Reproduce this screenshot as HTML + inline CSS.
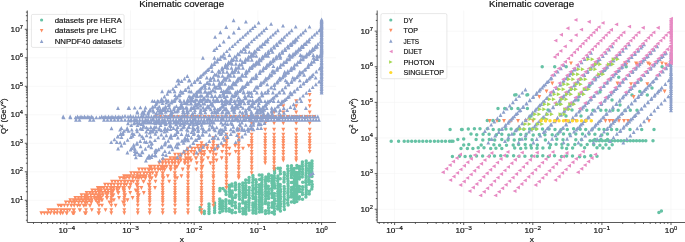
<!DOCTYPE html>
<html><head><meta charset="utf-8"><style>html,body{margin:0;padding:0;background:#fff;overflow:hidden}svg{display:block;will-change:transform}text{font-family:"Liberation Sans",sans-serif;stroke:#141414;stroke-width:0.18px}</style></head>
<body><svg width="685" height="242" viewBox="0 0 685 242" font-family="Liberation Sans, sans-serif" fill="#141414">
<defs><clipPath id="cl"><rect x="27.3" y="10.5" width="308.7" height="212.0"/></clipPath><clipPath id="cr"><rect x="377.2" y="10.5" width="308.7" height="212.0"/></clipPath></defs>
<rect width="685" height="242" fill="#fff"/>
<path d="M66.8 10.5V222.5M130.5 10.5V222.5M194.2 10.5V222.5M257.9 10.5V222.5M321.6 10.5V222.5M27.3 200.3H336M27.3 171.8H336M27.3 143.3H336M27.3 114.8H336M27.3 86.3H336M27.3 57.8H336M27.3 29.3H336" stroke="#f3f3f3" stroke-width="0.6" fill="none"/>
<path d="M394.6 10.5V222.5M463.7 10.5V222.5M532.8 10.5V222.5M601.9 10.5V222.5M671 10.5V222.5M377.2 209.3H685.9M377.2 173.6H685.9M377.2 138H685.9M377.2 102.4H685.9M377.2 66.8H685.9M377.2 31.2H685.9" stroke="#f3f3f3" stroke-width="0.6" fill="none"/>
<path d="M220.0 188.5h0M223.0 188.5h0M200.2 207.5h0M200.2 210.0h0M204.3 211.3h0M204.3 213.4h0M209.0 204.0h0M209.0 206.5h0M209.0 209.0h0M209.0 211.5h0M209.0 213.4h0M214.6 203.0h0M214.6 205.5h0M214.6 208.0h0M214.6 210.5h0M214.6 212.4h0M219.8 190.7h0M219.8 199.0h0M219.8 201.5h0M219.8 204.0h0M219.8 206.5h0M219.8 209.0h0M219.8 212.4h0M225.0 190.7h0M222.5 201.0h0M222.5 203.5h0M222.5 206.0h0M222.5 208.5h0M222.5 211.0h0M225.9 191.7h0M226.1 194.5h0M225.9 199.7h0M225.8 201.9h0M225.9 204.3h0M225.8 206.5h0M225.8 208.7h0M226.1 211.1h0M229.2 185.2h0M229.3 187.4h0M229.3 189.6h0M229.5 191.8h0M229.7 194.0h0M229.6 196.2h0M229.3 201.0h0M229.6 203.2h0M229.2 208.8h0M229.4 211.2h0M231.9 183.9h0M232.1 186.1h0M232.2 190.9h0M232.3 193.1h0M232.0 195.9h0M232.4 198.1h0M232.4 200.5h0M232.0 202.9h0M232.1 205.7h0M232.2 210.3h0M232.1 212.7h0M235.4 183.0h0M235.6 185.2h0M235.3 187.6h0M235.5 189.8h0M235.7 195.0h0M235.3 197.4h0M235.3 202.6h0M235.3 205.4h0M235.5 207.8h0M235.5 212.4h0M239.3 184.2h0M239.2 187.0h0M239.2 189.4h0M239.4 191.8h0M239.3 194.0h0M239.3 196.4h0M239.5 199.2h0M239.4 204.0h0M239.4 206.4h0M239.2 208.8h0M239.6 211.6h0M242.8 183.1h0M242.7 185.5h0M242.9 187.9h0M242.9 190.3h0M242.8 193.1h0M242.9 195.3h0M242.9 197.7h0M242.7 200.5h0M242.8 202.9h0M242.7 208.5h0M243.1 211.3h0M243.0 213.7h0M245.7 180.1h0M245.6 182.9h0M245.8 185.7h0M245.5 188.1h0M245.9 190.3h0M245.5 192.7h0M245.8 195.1h0M245.6 197.3h0M245.9 202.1h0M245.7 204.3h0M245.6 206.5h0M245.6 208.9h0M245.6 211.7h0M245.9 213.9h0M249.1 177.5h0M248.9 180.3h0M248.9 182.5h0M249.2 187.5h0M249.1 190.3h0M249.0 193.1h0M249.0 195.3h0M249.3 198.1h0M248.9 200.3h0M249.0 202.7h0M248.9 205.1h0M248.8 207.5h0M249.0 210.3h0M252.9 175.4h0M253.0 177.6h0M253.0 179.8h0M252.7 182.6h0M252.8 185.4h0M253.0 188.2h0M252.7 190.4h0M252.9 193.2h0M252.8 196.0h0M253.0 198.4h0M252.9 203.0h0M252.8 205.2h0M253.0 207.4h0M252.9 210.2h0M253.0 213.0h0M255.9 179.7h0M256.2 182.1h0M256.1 184.5h0M256.1 186.9h0M255.9 189.3h0M256.2 191.7h0M256.0 194.1h0M255.8 196.9h0M255.8 199.1h0M255.8 201.3h0M255.8 204.1h0M255.8 206.5h0M256.1 208.7h0M255.9 210.9h0M256.0 213.3h0M259.3 175.1h0M259.6 179.5h0M259.4 184.7h0M259.4 187.5h0M259.5 189.9h0M259.4 192.3h0M259.4 194.5h0M259.5 197.3h0M259.3 200.1h0M259.3 202.3h0M259.3 204.7h0M259.4 206.9h0M259.6 209.3h0M259.5 212.1h0M262.0 175.0h0M262.0 177.4h0M262.0 179.8h0M261.8 182.6h0M262.0 184.8h0M261.8 187.0h0M261.9 189.8h0M262.0 192.6h0M262.2 194.8h0M262.0 197.6h0M262.0 199.8h0M262.0 202.2h0M262.1 204.6h0M261.9 207.4h0M261.8 209.6h0M262.0 211.8h0M265.8 177.0h0M265.5 179.4h0M265.4 181.6h0M265.7 184.0h0M265.4 186.4h0M265.7 188.8h0M265.5 191.6h0M265.7 193.8h0M265.6 196.2h0M265.7 199.0h0M265.6 201.2h0M265.4 203.6h0M265.6 210.8h0M265.5 213.6h0M268.7 174.2h0M268.4 176.4h0M268.6 178.6h0M268.5 181.0h0M268.3 186.2h0M268.7 189.0h0M268.4 191.8h0M268.7 194.0h0M268.3 196.2h0M268.6 198.4h0M268.6 203.0h0M268.4 205.2h0M268.5 208.0h0M268.8 210.8h0M268.8 213.0h0M271.7 175.7h0M271.9 178.5h0M271.8 180.9h0M271.9 183.1h0M272.2 185.5h0M271.9 188.3h0M271.9 190.5h0M271.8 192.9h0M272.1 195.1h0M272.1 197.5h0M272.1 202.7h0M272.2 205.1h0M271.9 207.3h0M272.1 212.5h0M274.5 168.5h0M274.5 170.7h0M274.6 173.1h0M274.2 175.9h0M274.4 178.1h0M274.2 180.5h0M274.2 183.3h0M274.6 185.5h0M274.7 187.9h0M274.4 193.5h0M274.3 195.9h0M274.5 198.7h0M274.5 200.9h0M274.4 203.7h0M274.2 206.1h0M274.3 208.5h0M274.4 211.3h0M274.4 214.1h0M278.0 168.3h0M277.9 176.1h0M277.7 178.5h0M277.7 180.9h0M278.0 183.7h0M278.0 185.9h0M278.0 188.7h0M277.8 191.5h0M277.8 193.7h0M277.8 195.9h0M278.1 198.7h0M277.8 201.1h0M278.0 203.9h0M277.6 206.3h0M277.7 209.1h0M280.3 168.2h0M280.2 171.0h0M280.4 173.8h0M280.2 178.8h0M280.2 184.4h0M280.2 186.6h0M280.5 189.4h0M280.5 191.8h0M280.2 194.2h0M280.4 196.4h0M280.4 198.8h0M280.3 201.6h0M280.5 204.0h0M280.4 206.2h0M280.0 208.6h0M280.4 211.0h0M284.2 172.4h0M284.4 174.6h0M284.2 177.4h0M284.1 179.6h0M284.0 182.0h0M284.1 186.6h0M284.3 188.8h0M284.3 191.6h0M284.2 194.0h0M284.1 196.8h0M284.4 199.2h0M284.0 201.6h0M284.2 203.8h0M284.1 206.6h0M284.4 209.4h0M287.7 166.1h0M287.8 168.9h0M288.1 171.3h0M287.9 173.5h0M287.6 175.9h0M287.7 178.7h0M288.0 180.9h0M288.0 183.7h0M288.1 185.9h0M288.1 188.7h0M288.0 190.9h0M287.8 193.1h0M288.1 195.5h0M288.1 197.7h0M287.7 200.1h0M287.7 202.9h0M288.1 205.1h0M291.5 165.8h0M291.3 168.2h0M291.4 170.6h0M291.6 173.0h0M291.4 175.2h0M291.3 177.6h0M291.4 182.4h0M291.5 187.6h0M291.5 190.0h0M291.3 192.4h0M291.6 194.8h0M291.3 197.0h0M291.4 202.0h0M294.1 168.5h0M294.0 171.3h0M294.3 173.5h0M294.4 175.9h0M294.3 178.7h0M294.2 180.9h0M294.4 183.7h0M294.1 186.1h0M294.0 188.3h0M294.4 190.5h0M294.2 192.9h0M294.1 195.3h0M294.0 197.5h0M294.0 199.7h0M294.4 202.5h0M296.9 165.6h0M296.8 168.0h0M296.7 172.6h0M296.7 174.8h0M296.9 177.0h0M296.9 179.2h0M296.8 182.0h0M296.9 184.2h0M297.0 186.6h0M296.8 189.0h0M296.7 191.8h0M296.8 194.0h0M296.7 196.4h0M296.9 198.6h0M296.8 201.4h0M299.5 166.6h0M299.5 169.0h0M299.5 171.4h0M299.3 173.8h0M299.7 176.6h0M299.3 179.0h0M299.4 186.4h0M299.5 189.2h0M299.4 191.6h0M299.4 196.8h0M299.2 199.0h0M302.4 162.0h0M302.3 164.2h0M302.4 166.4h0M302.6 169.2h0M302.4 172.0h0M302.5 174.2h0M302.3 177.0h0M302.7 182.2h0M302.6 186.8h0M302.5 189.6h0M302.3 192.4h0M302.5 194.6h0M302.5 199.2h0M306.2 161.0h0M306.2 163.4h0M306.0 165.8h0M306.3 168.2h0M306.2 170.6h0M306.1 173.0h0M306.0 175.4h0M306.1 177.6h0M305.9 180.4h0M305.9 182.6h0M306.1 185.4h0M306.0 187.6h0M306.3 190.0h0M306.2 192.2h0M306.0 194.6h0M305.9 197.0h0M309.3 163.2h0M309.4 166.0h0M309.1 168.8h0M309.1 171.0h0M309.4 173.8h0M309.3 176.6h0M309.0 179.4h0M309.1 181.8h0M309.2 184.2h0M309.4 191.2h0M309.2 194.0h0M312.0 161.0h0M312.0 163.8h0M312.0 166.2h0M311.9 168.4h0M311.8 171.2h0M312.0 174.0h0M312.0 176.4h0M311.8 181.6h0M312.2 184.4h0M312.1 186.8h0M311.8 189.0h0" stroke="#66c2a5" stroke-width="3.5" stroke-linecap="round" fill="none" clip-path="url(#cl)"/>
<path d="M201.5 160.2l1.95 -3.9h-3.9zM201.5 156.6l1.95 -3.9h-3.9zM94.4 200.0l1.95 -3.9h-3.9zM283.3 119.5l1.95 -3.9h-3.9zM124.3 183.6l1.95 -3.9h-3.9zM124.3 180.1l1.95 -3.9h-3.9zM162.7 183.6l1.95 -3.9h-3.9zM62.8 215.2l1.95 -3.9h-3.9zM72.7 215.2l1.95 -3.9h-3.9zM115.1 183.6l1.95 -3.9h-3.9zM162.7 180.1l1.95 -3.9h-3.9zM149.7 197.2l1.95 -3.9h-3.9zM174.7 175.1l1.95 -3.9h-3.9zM141.4 190.0l1.95 -3.9h-3.9zM155.5 183.6l1.95 -3.9h-3.9zM177.1 180.1l1.95 -3.9h-3.9zM152.1 171.5l1.95 -3.9h-3.9zM274.1 143.0l1.95 -3.9h-3.9zM138.9 180.1l1.95 -3.9h-3.9zM124.3 186.7l1.95 -3.9h-3.9zM71.4 207.6l1.95 -3.9h-3.9zM162.2 186.7l1.95 -3.9h-3.9zM238.7 180.1l1.95 -3.9h-3.9zM251.7 160.2l1.95 -3.9h-3.9zM251.7 156.6l1.95 -3.9h-3.9zM111.3 215.2l1.95 -3.9h-3.9zM99.3 195.0l1.95 -3.9h-3.9zM124.3 207.6l1.95 -3.9h-3.9zM296.2 103.2l1.95 -3.9h-3.9zM86.0 204.3l1.95 -3.9h-3.9zM283.3 150.6l1.95 -3.9h-3.9zM74.1 212.1l1.95 -3.9h-3.9zM143.8 175.1l1.95 -3.9h-3.9zM78.8 204.3l1.95 -3.9h-3.9zM108.1 195.0l1.95 -3.9h-3.9zM97.8 190.0l1.95 -3.9h-3.9zM70.3 202.2l1.95 -3.9h-3.9zM112.0 183.6l1.95 -3.9h-3.9zM54.3 212.1l1.95 -3.9h-3.9zM185.1 162.4l1.95 -3.9h-3.9zM283.3 131.7l1.95 -3.9h-3.9zM123.0 190.0l1.95 -3.9h-3.9zM238.7 145.2l1.95 -3.9h-3.9zM99.0 212.1l1.95 -3.9h-3.9zM175.0 212.1l1.95 -3.9h-3.9zM296.2 162.4l1.95 -3.9h-3.9zM274.1 119.5l1.95 -3.9h-3.9zM84.7 197.2l1.95 -3.9h-3.9zM188.0 160.2l1.95 -3.9h-3.9zM188.0 156.6l1.95 -3.9h-3.9zM91.8 212.1l1.95 -3.9h-3.9zM265.2 153.8l1.95 -3.9h-3.9zM60.6 212.1l1.95 -3.9h-3.9zM99.0 215.2l1.95 -3.9h-3.9zM309.7 153.8l1.95 -3.9h-3.9zM208.0 160.2l1.95 -3.9h-3.9zM172.0 162.4l1.95 -3.9h-3.9zM222.2 153.8l1.95 -3.9h-3.9zM296.2 108.2l1.95 -3.9h-3.9zM188.2 156.6l1.95 -3.9h-3.9zM198.1 156.6l1.95 -3.9h-3.9zM65.8 204.3l1.95 -3.9h-3.9zM111.3 197.2l1.95 -3.9h-3.9zM213.4 153.8l1.95 -3.9h-3.9zM98.5 215.2l1.95 -3.9h-3.9zM213.4 204.3l1.95 -3.9h-3.9zM137.8 197.2l1.95 -3.9h-3.9zM251.7 168.7l1.95 -3.9h-3.9zM251.7 165.2l1.95 -3.9h-3.9zM178.4 162.4l1.95 -3.9h-3.9zM169.0 165.2l1.95 -3.9h-3.9zM274.1 150.6l1.95 -3.9h-3.9zM176.6 168.7l1.95 -3.9h-3.9zM124.3 212.1l1.95 -3.9h-3.9zM94.6 200.0l1.95 -3.9h-3.9zM217.2 150.6l1.95 -3.9h-3.9zM309.7 103.2l1.95 -3.9h-3.9zM87.6 197.2l1.95 -3.9h-3.9zM117.0 190.0l1.95 -3.9h-3.9zM197.6 148.0l1.95 -3.9h-3.9zM124.0 186.7l1.95 -3.9h-3.9zM58.4 207.6l1.95 -3.9h-3.9zM74.1 204.3l1.95 -3.9h-3.9zM111.3 190.0l1.95 -3.9h-3.9zM274.1 162.4l1.95 -3.9h-3.9zM109.4 204.3l1.95 -3.9h-3.9zM184.6 162.4l1.95 -3.9h-3.9zM203.8 156.6l1.95 -3.9h-3.9zM149.7 171.5l1.95 -3.9h-3.9zM84.6 200.0l1.95 -3.9h-3.9zM86.2 202.2l1.95 -3.9h-3.9zM134.3 175.1l1.95 -3.9h-3.9zM143.3 178.2l1.95 -3.9h-3.9zM151.3 168.7l1.95 -3.9h-3.9zM175.0 204.3l1.95 -3.9h-3.9zM191.2 162.4l1.95 -3.9h-3.9zM111.3 202.2l1.95 -3.9h-3.9zM283.3 160.2l1.95 -3.9h-3.9zM283.3 156.6l1.95 -3.9h-3.9zM133.4 178.2l1.95 -3.9h-3.9zM174.7 165.2l1.95 -3.9h-3.9zM201.5 197.2l1.95 -3.9h-3.9zM64.1 212.1l1.95 -3.9h-3.9zM274.1 148.0l1.95 -3.9h-3.9zM112.9 197.2l1.95 -3.9h-3.9zM222.9 148.0l1.95 -3.9h-3.9zM123.0 180.1l1.95 -3.9h-3.9zM132.9 180.1l1.95 -3.9h-3.9zM226.4 143.0l1.95 -3.9h-3.9zM182.7 171.5l1.95 -3.9h-3.9zM78.5 204.3l1.95 -3.9h-3.9zM163.5 180.1l1.95 -3.9h-3.9zM213.4 195.0l1.95 -3.9h-3.9zM99.0 190.0l1.95 -3.9h-3.9zM102.0 207.6l1.95 -3.9h-3.9zM296.2 140.2l1.95 -3.9h-3.9zM296.2 136.7l1.95 -3.9h-3.9zM86.0 200.0l1.95 -3.9h-3.9zM164.3 168.7l1.95 -3.9h-3.9zM265.2 131.7l1.95 -3.9h-3.9zM124.3 204.3l1.95 -3.9h-3.9zM73.9 212.1l1.95 -3.9h-3.9zM106.7 197.2l1.95 -3.9h-3.9zM61.3 212.1l1.95 -3.9h-3.9zM162.7 204.3l1.95 -3.9h-3.9zM99.0 202.2l1.95 -3.9h-3.9zM91.8 202.2l1.95 -3.9h-3.9zM163.0 175.1l1.95 -3.9h-3.9zM238.7 153.8l1.95 -3.9h-3.9zM211.5 150.6l1.95 -3.9h-3.9zM111.8 195.0l1.95 -3.9h-3.9zM217.6 150.6l1.95 -3.9h-3.9zM57.4 212.1l1.95 -3.9h-3.9zM132.6 180.1l1.95 -3.9h-3.9zM71.1 207.6l1.95 -3.9h-3.9zM283.3 114.5l1.95 -3.9h-3.9zM251.7 143.0l1.95 -3.9h-3.9zM96.9 200.0l1.95 -3.9h-3.9zM187.8 153.8l1.95 -3.9h-3.9zM107.0 190.0l1.95 -3.9h-3.9zM99.0 195.0l1.95 -3.9h-3.9zM175.0 195.0l1.95 -3.9h-3.9zM162.5 175.1l1.95 -3.9h-3.9zM296.2 145.2l1.95 -3.9h-3.9zM77.4 207.6l1.95 -3.9h-3.9zM124.1 178.2l1.95 -3.9h-3.9zM160.6 171.5l1.95 -3.9h-3.9zM97.7 204.3l1.95 -3.9h-3.9zM162.7 171.5l1.95 -3.9h-3.9zM213.4 178.2l1.95 -3.9h-3.9zM136.4 186.7l1.95 -3.9h-3.9zM96.0 202.2l1.95 -3.9h-3.9zM196.8 165.2l1.95 -3.9h-3.9zM265.2 140.2l1.95 -3.9h-3.9zM265.2 136.7l1.95 -3.9h-3.9zM309.7 140.2l1.95 -3.9h-3.9zM309.7 136.7l1.95 -3.9h-3.9zM114.2 186.7l1.95 -3.9h-3.9zM124.3 195.0l1.95 -3.9h-3.9zM86.6 195.0l1.95 -3.9h-3.9zM150.1 175.1l1.95 -3.9h-3.9zM226.4 171.5l1.95 -3.9h-3.9zM196.3 160.2l1.95 -3.9h-3.9zM202.9 162.4l1.95 -3.9h-3.9zM170.9 171.5l1.95 -3.9h-3.9zM81.4 200.0l1.95 -3.9h-3.9zM90.2 207.6l1.95 -3.9h-3.9zM175.0 200.0l1.95 -3.9h-3.9zM76.4 202.2l1.95 -3.9h-3.9zM149.7 183.6l1.95 -3.9h-3.9zM149.7 180.1l1.95 -3.9h-3.9zM175.0 175.1l1.95 -3.9h-3.9zM150.3 175.1l1.95 -3.9h-3.9zM226.4 162.4l1.95 -3.9h-3.9zM108.0 192.5l1.95 -3.9h-3.9zM201.5 171.5l1.95 -3.9h-3.9zM137.1 183.6l1.95 -3.9h-3.9zM119.3 190.0l1.95 -3.9h-3.9zM118.0 183.6l1.95 -3.9h-3.9zM149.4 178.2l1.95 -3.9h-3.9zM73.5 202.2l1.95 -3.9h-3.9zM60.9 212.1l1.95 -3.9h-3.9zM175.0 178.2l1.95 -3.9h-3.9zM105.1 192.5l1.95 -3.9h-3.9zM251.7 150.6l1.95 -3.9h-3.9zM73.2 215.2l1.95 -3.9h-3.9zM154.5 168.7l1.95 -3.9h-3.9zM168.6 162.4l1.95 -3.9h-3.9zM145.1 171.5l1.95 -3.9h-3.9zM159.2 165.2l1.95 -3.9h-3.9zM201.5 162.4l1.95 -3.9h-3.9zM173.6 160.2l1.95 -3.9h-3.9zM149.7 207.6l1.95 -3.9h-3.9zM213.4 186.7l1.95 -3.9h-3.9zM78.5 200.0l1.95 -3.9h-3.9zM191.8 150.6l1.95 -3.9h-3.9zM226.4 148.0l1.95 -3.9h-3.9zM238.7 131.7l1.95 -3.9h-3.9zM216.0 156.6l1.95 -3.9h-3.9zM162.7 200.0l1.95 -3.9h-3.9zM162.7 175.1l1.95 -3.9h-3.9zM60.4 215.2l1.95 -3.9h-3.9zM201.5 148.0l1.95 -3.9h-3.9zM142.2 171.5l1.95 -3.9h-3.9zM283.3 143.0l1.95 -3.9h-3.9zM124.3 178.2l1.95 -3.9h-3.9zM274.1 125.3l1.95 -3.9h-3.9zM67.4 212.1l1.95 -3.9h-3.9zM201.7 150.6l1.95 -3.9h-3.9zM238.7 175.1l1.95 -3.9h-3.9zM158.1 171.5l1.95 -3.9h-3.9zM172.2 165.2l1.95 -3.9h-3.9zM57.1 215.2l1.95 -3.9h-3.9zM86.0 215.2l1.95 -3.9h-3.9zM123.0 204.3l1.95 -3.9h-3.9zM188.0 171.5l1.95 -3.9h-3.9zM100.7 197.2l1.95 -3.9h-3.9zM175.0 186.7l1.95 -3.9h-3.9zM238.7 178.2l1.95 -3.9h-3.9zM265.2 165.2l1.95 -3.9h-3.9zM251.7 148.0l1.95 -3.9h-3.9zM137.8 192.5l1.95 -3.9h-3.9zM90.8 197.2l1.95 -3.9h-3.9zM296.2 153.8l1.95 -3.9h-3.9zM138.8 197.2l1.95 -3.9h-3.9zM188.0 162.4l1.95 -3.9h-3.9zM137.8 183.6l1.95 -3.9h-3.9zM137.8 180.1l1.95 -3.9h-3.9zM67.6 207.6l1.95 -3.9h-3.9zM84.8 204.3l1.95 -3.9h-3.9zM165.4 162.4l1.95 -3.9h-3.9zM180.9 162.4l1.95 -3.9h-3.9zM162.7 192.5l1.95 -3.9h-3.9zM221.7 160.2l1.95 -3.9h-3.9zM103.8 190.0l1.95 -3.9h-3.9zM213.4 168.7l1.95 -3.9h-3.9zM117.7 186.7l1.95 -3.9h-3.9zM213.4 165.2l1.95 -3.9h-3.9zM204.3 148.0l1.95 -3.9h-3.9zM235.2 148.0l1.95 -3.9h-3.9zM210.4 153.8l1.95 -3.9h-3.9zM140.3 175.1l1.95 -3.9h-3.9zM119.9 180.1l1.95 -3.9h-3.9zM238.7 140.2l1.95 -3.9h-3.9zM238.7 136.7l1.95 -3.9h-3.9zM202.5 168.7l1.95 -3.9h-3.9zM137.8 207.6l1.95 -3.9h-3.9zM162.7 186.7l1.95 -3.9h-3.9zM162.7 207.6l1.95 -3.9h-3.9zM226.4 183.6l1.95 -3.9h-3.9zM226.4 180.1l1.95 -3.9h-3.9zM81.7 204.3l1.95 -3.9h-3.9zM201.5 192.5l1.95 -3.9h-3.9zM104.8 192.5l1.95 -3.9h-3.9zM175.0 168.7l1.95 -3.9h-3.9zM175.0 165.2l1.95 -3.9h-3.9zM204.3 156.6l1.95 -3.9h-3.9zM201.5 183.6l1.95 -3.9h-3.9zM201.5 180.1l1.95 -3.9h-3.9zM100.6 200.0l1.95 -3.9h-3.9zM188.0 200.0l1.95 -3.9h-3.9zM188.0 175.1l1.95 -3.9h-3.9zM274.1 153.8l1.95 -3.9h-3.9zM74.1 215.2l1.95 -3.9h-3.9zM95.3 192.5l1.95 -3.9h-3.9zM184.6 153.8l1.95 -3.9h-3.9zM229.4 150.6l1.95 -3.9h-3.9zM54.3 215.2l1.95 -3.9h-3.9zM79.9 207.6l1.95 -3.9h-3.9zM116.8 190.0l1.95 -3.9h-3.9zM226.4 145.2l1.95 -3.9h-3.9zM158.3 171.5l1.95 -3.9h-3.9zM145.1 180.1l1.95 -3.9h-3.9zM191.2 153.8l1.95 -3.9h-3.9zM283.3 162.4l1.95 -3.9h-3.9zM175.0 215.2l1.95 -3.9h-3.9zM74.3 207.6l1.95 -3.9h-3.9zM201.5 207.6l1.95 -3.9h-3.9zM152.6 175.1l1.95 -3.9h-3.9zM133.4 183.6l1.95 -3.9h-3.9zM213.4 197.2l1.95 -3.9h-3.9zM60.6 215.2l1.95 -3.9h-3.9zM149.7 204.3l1.95 -3.9h-3.9zM181.6 156.6l1.95 -3.9h-3.9zM201.5 145.2l1.95 -3.9h-3.9zM86.0 202.2l1.95 -3.9h-3.9zM137.8 212.1l1.95 -3.9h-3.9zM283.3 108.2l1.95 -3.9h-3.9zM85.0 204.3l1.95 -3.9h-3.9zM127.5 202.2l1.95 -3.9h-3.9zM283.3 148.0l1.95 -3.9h-3.9zM296.2 131.7l1.95 -3.9h-3.9zM190.8 162.4l1.95 -3.9h-3.9zM188.0 192.5l1.95 -3.9h-3.9zM162.7 212.1l1.95 -3.9h-3.9zM129.2 190.0l1.95 -3.9h-3.9zM238.7 168.7l1.95 -3.9h-3.9zM238.7 165.2l1.95 -3.9h-3.9zM113.9 202.2l1.95 -3.9h-3.9zM274.1 171.5l1.95 -3.9h-3.9zM213.4 143.0l1.95 -3.9h-3.9zM188.0 183.6l1.95 -3.9h-3.9zM124.3 215.2l1.95 -3.9h-3.9zM48.3 212.1l1.95 -3.9h-3.9zM44.4 215.2l1.95 -3.9h-3.9zM188.0 180.1l1.95 -3.9h-3.9zM194.4 153.8l1.95 -3.9h-3.9zM213.4 190.0l1.95 -3.9h-3.9zM188.0 186.7l1.95 -3.9h-3.9zM167.8 178.2l1.95 -3.9h-3.9zM99.0 197.2l1.95 -3.9h-3.9zM69.7 212.1l1.95 -3.9h-3.9zM75.0 204.3l1.95 -3.9h-3.9zM265.2 119.5l1.95 -3.9h-3.9zM113.4 197.2l1.95 -3.9h-3.9zM188.0 207.6l1.95 -3.9h-3.9zM89.5 202.2l1.95 -3.9h-3.9zM98.1 192.5l1.95 -3.9h-3.9zM309.7 119.5l1.95 -3.9h-3.9zM75.3 200.0l1.95 -3.9h-3.9zM213.4 202.2l1.95 -3.9h-3.9zM200.1 153.8l1.95 -3.9h-3.9zM223.4 148.0l1.95 -3.9h-3.9zM132.6 200.0l1.95 -3.9h-3.9zM201.5 212.1l1.95 -3.9h-3.9zM170.4 168.7l1.95 -3.9h-3.9zM251.7 125.3l1.95 -3.9h-3.9zM193.9 156.6l1.95 -3.9h-3.9zM125.9 180.1l1.95 -3.9h-3.9zM66.5 215.2l1.95 -3.9h-3.9zM148.3 171.5l1.95 -3.9h-3.9zM162.4 165.2l1.95 -3.9h-3.9zM113.7 190.0l1.95 -3.9h-3.9zM118.0 195.0l1.95 -3.9h-3.9zM127.8 183.6l1.95 -3.9h-3.9zM137.8 204.3l1.95 -3.9h-3.9zM124.3 197.2l1.95 -3.9h-3.9zM175.0 190.0l1.95 -3.9h-3.9zM74.1 202.2l1.95 -3.9h-3.9zM130.2 186.7l1.95 -3.9h-3.9zM196.3 171.5l1.95 -3.9h-3.9zM265.2 150.6l1.95 -3.9h-3.9zM309.7 150.6l1.95 -3.9h-3.9zM112.3 195.0l1.95 -3.9h-3.9zM69.0 204.3l1.95 -3.9h-3.9zM107.2 197.2l1.95 -3.9h-3.9zM84.9 215.2l1.95 -3.9h-3.9zM309.7 131.7l1.95 -3.9h-3.9zM175.0 202.2l1.95 -3.9h-3.9zM92.2 192.5l1.95 -3.9h-3.9zM117.8 192.5l1.95 -3.9h-3.9zM213.4 150.6l1.95 -3.9h-3.9zM105.0 186.7l1.95 -3.9h-3.9zM137.6 183.6l1.95 -3.9h-3.9zM87.3 204.3l1.95 -3.9h-3.9zM226.4 153.8l1.95 -3.9h-3.9zM92.6 195.0l1.95 -3.9h-3.9zM188.0 212.1l1.95 -3.9h-3.9zM124.3 190.0l1.95 -3.9h-3.9zM117.3 192.5l1.95 -3.9h-3.9zM162.7 190.0l1.95 -3.9h-3.9zM149.7 200.0l1.95 -3.9h-3.9zM149.7 175.1l1.95 -3.9h-3.9zM137.1 175.1l1.95 -3.9h-3.9zM201.5 153.8l1.95 -3.9h-3.9zM156.3 175.1l1.95 -3.9h-3.9zM283.3 145.2l1.95 -3.9h-3.9zM201.5 204.3l1.95 -3.9h-3.9zM124.3 202.2l1.95 -3.9h-3.9zM265.2 148.0l1.95 -3.9h-3.9zM89.8 207.6l1.95 -3.9h-3.9zM162.7 202.2l1.95 -3.9h-3.9zM135.7 192.5l1.95 -3.9h-3.9zM141.4 180.1l1.95 -3.9h-3.9zM188.3 175.1l1.95 -3.9h-3.9zM274.1 140.2l1.95 -3.9h-3.9zM274.1 136.7l1.95 -3.9h-3.9zM137.8 195.0l1.95 -3.9h-3.9zM136.9 178.2l1.95 -3.9h-3.9zM251.7 153.8l1.95 -3.9h-3.9zM143.3 183.6l1.95 -3.9h-3.9zM213.4 148.0l1.95 -3.9h-3.9zM185.1 165.2l1.95 -3.9h-3.9zM296.2 114.5l1.95 -3.9h-3.9zM162.7 195.0l1.95 -3.9h-3.9zM99.6 195.0l1.95 -3.9h-3.9zM71.8 204.3l1.95 -3.9h-3.9zM149.7 192.5l1.95 -3.9h-3.9zM60.3 215.2l1.95 -3.9h-3.9zM283.3 125.3l1.95 -3.9h-3.9zM207.4 148.0l1.95 -3.9h-3.9zM265.2 160.2l1.95 -3.9h-3.9zM265.2 156.6l1.95 -3.9h-3.9zM83.6 207.6l1.95 -3.9h-3.9zM67.2 212.1l1.95 -3.9h-3.9zM274.1 145.2l1.95 -3.9h-3.9zM131.1 175.1l1.95 -3.9h-3.9zM188.0 153.8l1.95 -3.9h-3.9zM149.7 186.7l1.95 -3.9h-3.9zM188.0 204.3l1.95 -3.9h-3.9zM81.5 197.2l1.95 -3.9h-3.9zM111.3 200.0l1.95 -3.9h-3.9zM118.0 186.7l1.95 -3.9h-3.9zM213.4 160.2l1.95 -3.9h-3.9zM213.4 156.6l1.95 -3.9h-3.9zM238.7 150.6l1.95 -3.9h-3.9zM137.8 200.0l1.95 -3.9h-3.9zM201.5 195.0l1.95 -3.9h-3.9zM137.8 175.1l1.95 -3.9h-3.9zM155.0 190.0l1.95 -3.9h-3.9zM136.9 186.7l1.95 -3.9h-3.9zM251.7 171.5l1.95 -3.9h-3.9zM178.4 165.2l1.95 -3.9h-3.9zM309.7 96.8l1.95 -3.9h-3.9zM110.5 190.0l1.95 -3.9h-3.9zM102.5 195.0l1.95 -3.9h-3.9zM115.6 207.6l1.95 -3.9h-3.9zM79.6 212.1l1.95 -3.9h-3.9zM251.7 162.4l1.95 -3.9h-3.9zM94.6 197.2l1.95 -3.9h-3.9zM41.3 215.2l1.95 -3.9h-3.9zM162.7 178.2l1.95 -3.9h-3.9zM125.1 197.2l1.95 -3.9h-3.9zM155.5 178.2l1.95 -3.9h-3.9zM101.1 200.0l1.95 -3.9h-3.9zM309.7 114.5l1.95 -3.9h-3.9zM184.6 165.2l1.95 -3.9h-3.9zM111.3 192.5l1.95 -3.9h-3.9zM89.3 202.2l1.95 -3.9h-3.9zM226.4 175.1l1.95 -3.9h-3.9zM131.1 183.6l1.95 -3.9h-3.9zM175.0 160.2l1.95 -3.9h-3.9zM175.0 156.6l1.95 -3.9h-3.9zM149.9 178.2l1.95 -3.9h-3.9zM120.8 186.7l1.95 -3.9h-3.9zM47.6 215.2l1.95 -3.9h-3.9zM145.6 180.1l1.95 -3.9h-3.9zM238.7 148.0l1.95 -3.9h-3.9zM149.7 168.7l1.95 -3.9h-3.9zM201.5 200.0l1.95 -3.9h-3.9zM201.5 175.1l1.95 -3.9h-3.9zM164.8 171.5l1.95 -3.9h-3.9zM188.0 195.0l1.95 -3.9h-3.9zM283.3 153.8l1.95 -3.9h-3.9zM200.8 148.0l1.95 -3.9h-3.9zM149.7 212.1l1.95 -3.9h-3.9zM137.8 186.7l1.95 -3.9h-3.9zM111.3 207.6l1.95 -3.9h-3.9zM101.3 192.5l1.95 -3.9h-3.9zM296.2 143.0l1.95 -3.9h-3.9zM101.7 202.2l1.95 -3.9h-3.9zM149.7 215.2l1.95 -3.9h-3.9zM251.7 175.1l1.95 -3.9h-3.9zM164.3 171.5l1.95 -3.9h-3.9zM207.3 150.6l1.95 -3.9h-3.9zM129.7 190.0l1.95 -3.9h-3.9zM102.2 202.2l1.95 -3.9h-3.9zM226.4 140.2l1.95 -3.9h-3.9zM226.4 136.7l1.95 -3.9h-3.9zM106.7 200.0l1.95 -3.9h-3.9zM158.0 168.7l1.95 -3.9h-3.9zM177.1 160.2l1.95 -3.9h-3.9zM86.0 197.2l1.95 -3.9h-3.9zM140.1 178.2l1.95 -3.9h-3.9zM126.5 186.7l1.95 -3.9h-3.9zM238.7 160.2l1.95 -3.9h-3.9zM238.7 156.6l1.95 -3.9h-3.9zM265.2 125.3l1.95 -3.9h-3.9zM50.5 215.2l1.95 -3.9h-3.9zM54.0 215.2l1.95 -3.9h-3.9zM130.2 195.0l1.95 -3.9h-3.9zM226.4 186.7l1.95 -3.9h-3.9zM216.6 162.4l1.95 -3.9h-3.9zM91.0 204.3l1.95 -3.9h-3.9zM99.0 207.6l1.95 -3.9h-3.9zM296.2 119.5l1.95 -3.9h-3.9zM137.2 178.2l1.95 -3.9h-3.9zM251.7 140.2l1.95 -3.9h-3.9zM251.7 136.7l1.95 -3.9h-3.9zM201.5 186.7l1.95 -3.9h-3.9zM188.0 178.2l1.95 -3.9h-3.9zM213.1 148.0l1.95 -3.9h-3.9zM77.6 207.6l1.95 -3.9h-3.9zM170.4 160.2l1.95 -3.9h-3.9zM113.6 192.5l1.95 -3.9h-3.9zM235.7 153.8l1.95 -3.9h-3.9zM111.3 212.1l1.95 -3.9h-3.9zM94.3 197.2l1.95 -3.9h-3.9zM89.8 195.0l1.95 -3.9h-3.9zM265.2 143.0l1.95 -3.9h-3.9zM162.7 168.7l1.95 -3.9h-3.9zM162.7 165.2l1.95 -3.9h-3.9zM296.2 150.6l1.95 -3.9h-3.9zM309.7 143.0l1.95 -3.9h-3.9zM177.1 168.7l1.95 -3.9h-3.9zM137.8 215.2l1.95 -3.9h-3.9zM139.0 171.5l1.95 -3.9h-3.9zM251.7 145.2l1.95 -3.9h-3.9zM79.5 202.2l1.95 -3.9h-3.9zM149.7 190.0l1.95 -3.9h-3.9zM130.2 178.2l1.95 -3.9h-3.9zM88.4 200.0l1.95 -3.9h-3.9zM226.4 168.7l1.95 -3.9h-3.9zM162.7 215.2l1.95 -3.9h-3.9zM226.4 165.2l1.95 -3.9h-3.9zM111.0 186.7l1.95 -3.9h-3.9zM151.3 180.1l1.95 -3.9h-3.9zM135.8 180.1l1.95 -3.9h-3.9zM170.9 168.7l1.95 -3.9h-3.9zM108.1 186.7l1.95 -3.9h-3.9zM190.1 160.2l1.95 -3.9h-3.9zM175.0 197.2l1.95 -3.9h-3.9zM149.7 202.2l1.95 -3.9h-3.9zM148.6 186.7l1.95 -3.9h-3.9zM201.5 168.7l1.95 -3.9h-3.9zM201.5 165.2l1.95 -3.9h-3.9zM127.3 178.2l1.95 -3.9h-3.9zM198.5 150.6l1.95 -3.9h-3.9zM248.8 148.0l1.95 -3.9h-3.9zM296.2 148.0l1.95 -3.9h-3.9zM217.3 148.0l1.95 -3.9h-3.9zM149.7 195.0l1.95 -3.9h-3.9zM201.5 215.2l1.95 -3.9h-3.9zM111.3 204.3l1.95 -3.9h-3.9zM124.0 192.5l1.95 -3.9h-3.9zM143.8 183.6l1.95 -3.9h-3.9zM274.1 131.7l1.95 -3.9h-3.9zM91.3 200.0l1.95 -3.9h-3.9zM47.3 215.2l1.95 -3.9h-3.9zM162.7 197.2l1.95 -3.9h-3.9zM123.5 192.5l1.95 -3.9h-3.9zM185.1 156.6l1.95 -3.9h-3.9zM283.3 140.2l1.95 -3.9h-3.9zM283.3 136.7l1.95 -3.9h-3.9zM145.7 178.2l1.95 -3.9h-3.9zM296.2 160.2l1.95 -3.9h-3.9zM296.2 156.6l1.95 -3.9h-3.9zM188.0 168.7l1.95 -3.9h-3.9zM188.0 165.2l1.95 -3.9h-3.9zM137.8 190.0l1.95 -3.9h-3.9zM121.1 183.6l1.95 -3.9h-3.9zM99.0 204.3l1.95 -3.9h-3.9zM119.0 200.0l1.95 -3.9h-3.9zM265.2 162.4l1.95 -3.9h-3.9zM169.2 183.6l1.95 -3.9h-3.9zM156.8 175.1l1.95 -3.9h-3.9zM213.4 171.5l1.95 -3.9h-3.9zM105.6 195.0l1.95 -3.9h-3.9zM110.8 190.0l1.95 -3.9h-3.9zM83.3 202.2l1.95 -3.9h-3.9zM125.0 183.6l1.95 -3.9h-3.9zM137.8 202.2l1.95 -3.9h-3.9zM238.7 143.0l1.95 -3.9h-3.9zM188.0 215.2l1.95 -3.9h-3.9zM309.7 108.2l1.95 -3.9h-3.9zM111.1 192.5l1.95 -3.9h-3.9zM213.4 162.4l1.95 -3.9h-3.9zM118.5 195.0l1.95 -3.9h-3.9zM149.7 178.2l1.95 -3.9h-3.9zM178.4 156.6l1.95 -3.9h-3.9zM309.7 148.0l1.95 -3.9h-3.9zM111.3 195.0l1.95 -3.9h-3.9zM80.1 212.1l1.95 -3.9h-3.9zM97.4 197.2l1.95 -3.9h-3.9zM88.1 200.0l1.95 -3.9h-3.9zM226.4 190.0l1.95 -3.9h-3.9zM180.3 160.2l1.95 -3.9h-3.9zM139.0 180.1l1.95 -3.9h-3.9zM175.0 171.5l1.95 -3.9h-3.9zM201.5 190.0l1.95 -3.9h-3.9zM161.1 168.7l1.95 -3.9h-3.9zM274.1 160.2l1.95 -3.9h-3.9zM274.1 156.6l1.95 -3.9h-3.9zM151.8 171.5l1.95 -3.9h-3.9zM175.0 162.4l1.95 -3.9h-3.9zM204.3 153.8l1.95 -3.9h-3.9zM201.5 202.2l1.95 -3.9h-3.9zM100.6 197.2l1.95 -3.9h-3.9zM188.0 197.2l1.95 -3.9h-3.9zM210.4 165.2l1.95 -3.9h-3.9zM213.4 200.0l1.95 -3.9h-3.9zM213.4 175.1l1.95 -3.9h-3.9zM243.0 150.6l1.95 -3.9h-3.9zM130.9 183.6l1.95 -3.9h-3.9zM165.9 165.2l1.95 -3.9h-3.9zM209.9 153.8l1.95 -3.9h-3.9zM67.0 215.2l1.95 -3.9h-3.9zM226.4 150.6l1.95 -3.9h-3.9zM105.8 195.0l1.95 -3.9h-3.9zM124.6 183.6l1.95 -3.9h-3.9zM156.0 178.2l1.95 -3.9h-3.9zM130.7 186.7l1.95 -3.9h-3.9zM137.8 178.2l1.95 -3.9h-3.9zM238.7 171.5l1.95 -3.9h-3.9zM162.7 162.4l1.95 -3.9h-3.9zM86.0 207.6l1.95 -3.9h-3.9zM229.6 156.6l1.95 -3.9h-3.9zM188.0 190.0l1.95 -3.9h-3.9zM274.1 114.5l1.95 -3.9h-3.9zM296.2 125.3l1.95 -3.9h-3.9zM201.5 150.6l1.95 -3.9h-3.9zM73.4 212.1l1.95 -3.9h-3.9zM91.5 204.3l1.95 -3.9h-3.9zM238.7 162.4l1.95 -3.9h-3.9zM83.0 202.2l1.95 -3.9h-3.9zM274.1 168.7l1.95 -3.9h-3.9zM274.1 165.2l1.95 -3.9h-3.9zM99.0 200.0l1.95 -3.9h-3.9zM213.4 140.2l1.95 -3.9h-3.9zM188.0 202.2l1.95 -3.9h-3.9zM213.4 192.5l1.95 -3.9h-3.9zM195.0 150.6l1.95 -3.9h-3.9zM105.5 212.1l1.95 -3.9h-3.9zM147.0 175.1l1.95 -3.9h-3.9zM185.9 160.2l1.95 -3.9h-3.9zM124.1 186.7l1.95 -3.9h-3.9zM213.4 183.6l1.95 -3.9h-3.9zM213.4 180.1l1.95 -3.9h-3.9zM170.4 171.5l1.95 -3.9h-3.9zM226.4 178.2l1.95 -3.9h-3.9zM129.1 180.1l1.95 -3.9h-3.9zM181.4 178.2l1.95 -3.9h-3.9zM188.8 168.7l1.95 -3.9h-3.9zM265.2 145.2l1.95 -3.9h-3.9zM251.7 131.7l1.95 -3.9h-3.9zM309.7 145.2l1.95 -3.9h-3.9zM111.3 186.7l1.95 -3.9h-3.9zM178.9 165.2l1.95 -3.9h-3.9zM84.1 207.6l1.95 -3.9h-3.9zM144.1 175.1l1.95 -3.9h-3.9zM213.4 207.6l1.95 -3.9h-3.9zM175.2 162.4l1.95 -3.9h-3.9zM201.5 178.2l1.95 -3.9h-3.9zM124.3 200.0l1.95 -3.9h-3.9zM143.2 178.2l1.95 -3.9h-3.9zM149.4 192.5l1.95 -3.9h-3.9zM213.4 145.2l1.95 -3.9h-3.9zM97.2 204.3l1.95 -3.9h-3.9zM99.0 192.5l1.95 -3.9h-3.9zM175.0 192.5l1.95 -3.9h-3.9zM86.0 212.1l1.95 -3.9h-3.9zM107.2 200.0l1.95 -3.9h-3.9zM188.0 150.6l1.95 -3.9h-3.9zM64.4 207.6l1.95 -3.9h-3.9zM95.5 202.2l1.95 -3.9h-3.9zM175.0 183.6l1.95 -3.9h-3.9zM175.0 180.1l1.95 -3.9h-3.9zM123.5 190.0l1.95 -3.9h-3.9zM103.0 197.2l1.95 -3.9h-3.9zM74.1 207.6l1.95 -3.9h-3.9zM151.8 180.1l1.95 -3.9h-3.9zM309.7 125.3l1.95 -3.9h-3.9zM195.8 160.2l1.95 -3.9h-3.9zM95.8 195.0l1.95 -3.9h-3.9zM101.0 190.0l1.95 -3.9h-3.9zM226.4 160.2l1.95 -3.9h-3.9zM226.4 156.6l1.95 -3.9h-3.9zM143.8 195.0l1.95 -3.9h-3.9zM155.0 171.5l1.95 -3.9h-3.9zM175.0 207.6l1.95 -3.9h-3.9zM61.6 207.6l1.95 -3.9h-3.9zM166.7 168.7l1.95 -3.9h-3.9zM124.3 192.5l1.95 -3.9h-3.9zM51.4 212.1l1.95 -3.9h-3.9zM60.6 207.6l1.95 -3.9h-3.9zM156.0 118.9l1.95 -3.9h-3.9zM160.4 118.9l1.95 -3.9h-3.9zM164.8 118.9l1.95 -3.9h-3.9zM169.2 118.9l1.95 -3.9h-3.9zM173.6 118.9l1.95 -3.9h-3.9zM178.0 118.9l1.95 -3.9h-3.9zM182.4 118.9l1.95 -3.9h-3.9zM186.8 118.9l1.95 -3.9h-3.9zM191.2 118.9l1.95 -3.9h-3.9zM195.6 118.9l1.95 -3.9h-3.9zM200.0 118.9l1.95 -3.9h-3.9zM204.4 118.9l1.95 -3.9h-3.9zM208.8 118.9l1.95 -3.9h-3.9zM213.2 118.9l1.95 -3.9h-3.9zM217.6 118.9l1.95 -3.9h-3.9zM222.0 118.9l1.95 -3.9h-3.9zM226.4 118.9l1.95 -3.9h-3.9zM230.8 118.9l1.95 -3.9h-3.9zM235.2 118.9l1.95 -3.9h-3.9zM239.6 118.9l1.95 -3.9h-3.9zM244.0 118.9l1.95 -3.9h-3.9zM248.4 118.9l1.95 -3.9h-3.9zM252.8 118.9l1.95 -3.9h-3.9zM257.2 118.9l1.95 -3.9h-3.9zM261.6 118.9l1.95 -3.9h-3.9zM266.0 118.9l1.95 -3.9h-3.9zM270.4 118.9l1.95 -3.9h-3.9zM274.8 118.9l1.95 -3.9h-3.9zM279.2 118.9l1.95 -3.9h-3.9zM283.6 118.9l1.95 -3.9h-3.9zM288.0 118.9l1.95 -3.9h-3.9zM292.4 118.9l1.95 -3.9h-3.9zM296.8 118.9l1.95 -3.9h-3.9zM301.2 118.9l1.95 -3.9h-3.9zM305.6 118.9l1.95 -3.9h-3.9zM310.0 118.9l1.95 -3.9h-3.9zM314.4 118.9l1.95 -3.9h-3.9z" fill="#fc8d62" clip-path="url(#cl)"/>
<path d="M63.7 115.4l1.95 3.9h-3.9zM70.5 115.4l1.95 3.9h-3.9zM75.6 115.4l1.95 3.9h-3.9zM79.2 115.4l1.95 3.9h-3.9zM82.6 115.4l1.95 3.9h-3.9zM86.0 115.4l1.95 3.9h-3.9zM89.4 115.4l1.95 3.9h-3.9zM92.8 115.4l1.95 3.9h-3.9zM96.3 115.4l1.95 3.9h-3.9zM99.7 115.4l1.95 3.9h-3.9zM103.5 115.4l1.95 3.9h-3.9zM106.9 115.4l1.95 3.9h-3.9zM110.3 115.4l1.95 3.9h-3.9zM113.7 115.4l1.95 3.9h-3.9zM117.4 115.4l1.95 3.9h-3.9zM119.2 115.4l1.95 3.9h-3.9zM120.6 115.4l1.95 3.9h-3.9zM128.5 105.9l1.95 3.9h-3.9zM134.7 105.7l1.95 3.9h-3.9zM140.4 105.4l1.95 3.9h-3.9zM145.5 105.5l1.95 3.9h-3.9zM152.2 105.5l1.95 3.9h-3.9zM157.7 106.2l1.95 3.9h-3.9zM163.1 106.2l1.95 3.9h-3.9zM169.4 105.6l1.95 3.9h-3.9zM174.2 105.6l1.95 3.9h-3.9zM180.0 105.9l1.95 3.9h-3.9zM185.9 105.8l1.95 3.9h-3.9zM191.2 105.6l1.95 3.9h-3.9zM197.4 105.6l1.95 3.9h-3.9zM203.2 105.6l1.95 3.9h-3.9zM209.2 105.6l1.95 3.9h-3.9zM214.7 106.1l1.95 3.9h-3.9zM220.1 106.2l1.95 3.9h-3.9zM226.0 106.0l1.95 3.9h-3.9zM231.8 105.4l1.95 3.9h-3.9zM237.9 105.9l1.95 3.9h-3.9zM243.0 105.9l1.95 3.9h-3.9zM249.1 105.8l1.95 3.9h-3.9zM255.2 105.8l1.95 3.9h-3.9zM259.8 106.0l1.95 3.9h-3.9zM266.7 106.1l1.95 3.9h-3.9zM271.7 105.9l1.95 3.9h-3.9zM137.3 109.7l1.95 3.9h-3.9zM142.5 110.2l1.95 3.9h-3.9zM148.4 109.9l1.95 3.9h-3.9zM153.9 109.9l1.95 3.9h-3.9zM160.7 110.2l1.95 3.9h-3.9zM165.6 109.9l1.95 3.9h-3.9zM172.1 110.3l1.95 3.9h-3.9zM176.9 109.7l1.95 3.9h-3.9zM183.0 110.0l1.95 3.9h-3.9zM188.1 109.9l1.95 3.9h-3.9zM194.6 110.3l1.95 3.9h-3.9zM200.2 110.0l1.95 3.9h-3.9zM205.3 110.3l1.95 3.9h-3.9zM212.1 110.2l1.95 3.9h-3.9zM217.2 109.6l1.95 3.9h-3.9zM222.5 109.6l1.95 3.9h-3.9zM228.3 109.8l1.95 3.9h-3.9zM233.8 109.7l1.95 3.9h-3.9zM240.0 109.6l1.95 3.9h-3.9zM246.1 109.7l1.95 3.9h-3.9zM251.4 109.8l1.95 3.9h-3.9zM257.8 110.3l1.95 3.9h-3.9zM263.0 109.6l1.95 3.9h-3.9zM125.0 113.9l1.95 3.9h-3.9zM130.5 113.7l1.95 3.9h-3.9zM141.9 114.1l1.95 3.9h-3.9zM148.1 114.5l1.95 3.9h-3.9zM154.1 113.9l1.95 3.9h-3.9zM159.1 114.3l1.95 3.9h-3.9zM165.6 114.0l1.95 3.9h-3.9zM171.4 114.5l1.95 3.9h-3.9zM177.1 114.4l1.95 3.9h-3.9zM182.0 114.1l1.95 3.9h-3.9zM187.5 113.7l1.95 3.9h-3.9zM193.5 114.3l1.95 3.9h-3.9zM205.8 114.5l1.95 3.9h-3.9zM216.3 113.9l1.95 3.9h-3.9zM222.0 114.2l1.95 3.9h-3.9zM233.8 114.2l1.95 3.9h-3.9zM239.0 114.2l1.95 3.9h-3.9zM251.3 114.1l1.95 3.9h-3.9zM257.1 114.0l1.95 3.9h-3.9zM263.0 114.0l1.95 3.9h-3.9zM130.5 118.5l1.95 3.9h-3.9zM135.2 118.0l1.95 3.9h-3.9zM146.6 118.5l1.95 3.9h-3.9zM158.3 118.3l1.95 3.9h-3.9zM163.6 118.7l1.95 3.9h-3.9zM170.0 118.6l1.95 3.9h-3.9zM176.2 118.5l1.95 3.9h-3.9zM181.1 118.1l1.95 3.9h-3.9zM187.2 118.1l1.95 3.9h-3.9zM192.3 118.6l1.95 3.9h-3.9zM198.5 118.3l1.95 3.9h-3.9zM210.5 118.3l1.95 3.9h-3.9zM215.7 117.9l1.95 3.9h-3.9zM221.0 117.9l1.95 3.9h-3.9zM226.7 118.3l1.95 3.9h-3.9zM232.9 118.1l1.95 3.9h-3.9zM238.6 118.5l1.95 3.9h-3.9zM244.3 118.1l1.95 3.9h-3.9zM250.3 118.3l1.95 3.9h-3.9zM256.0 118.6l1.95 3.9h-3.9zM261.5 118.3l1.95 3.9h-3.9zM267.4 118.2l1.95 3.9h-3.9zM128.0 121.3l1.95 3.9h-3.9zM133.9 121.3l1.95 3.9h-3.9zM139.0 121.3l1.95 3.9h-3.9zM143.9 120.6l1.95 3.9h-3.9zM149.2 120.7l1.95 3.9h-3.9zM155.4 121.1l1.95 3.9h-3.9zM160.2 121.1l1.95 3.9h-3.9zM165.6 121.2l1.95 3.9h-3.9zM177.5 120.8l1.95 3.9h-3.9zM183.0 121.2l1.95 3.9h-3.9zM187.8 120.9l1.95 3.9h-3.9zM192.9 120.8l1.95 3.9h-3.9zM198.1 121.0l1.95 3.9h-3.9zM203.5 120.8l1.95 3.9h-3.9zM209.6 120.6l1.95 3.9h-3.9zM221.1 120.6l1.95 3.9h-3.9zM225.3 121.1l1.95 3.9h-3.9zM230.9 120.9l1.95 3.9h-3.9zM241.9 120.6l1.95 3.9h-3.9zM253.4 120.6l1.95 3.9h-3.9zM258.8 120.9l1.95 3.9h-3.9zM264.5 121.0l1.95 3.9h-3.9zM120.1 127.7l1.95 3.9h-3.9zM126.6 127.4l1.95 3.9h-3.9zM131.8 127.7l1.95 3.9h-3.9zM136.8 127.4l1.95 3.9h-3.9zM142.3 127.1l1.95 3.9h-3.9zM147.9 127.2l1.95 3.9h-3.9zM154.2 127.2l1.95 3.9h-3.9zM158.9 127.3l1.95 3.9h-3.9zM164.6 127.0l1.95 3.9h-3.9zM170.5 127.1l1.95 3.9h-3.9zM176.5 127.1l1.95 3.9h-3.9zM181.4 127.4l1.95 3.9h-3.9zM186.9 127.4l1.95 3.9h-3.9zM193.2 127.3l1.95 3.9h-3.9zM198.3 127.5l1.95 3.9h-3.9zM203.4 127.0l1.95 3.9h-3.9zM208.6 127.6l1.95 3.9h-3.9zM214.2 127.1l1.95 3.9h-3.9zM220.7 127.5l1.95 3.9h-3.9zM225.4 127.2l1.95 3.9h-3.9zM230.8 127.4l1.95 3.9h-3.9zM237.4 127.8l1.95 3.9h-3.9zM242.0 127.8l1.95 3.9h-3.9zM247.7 127.0l1.95 3.9h-3.9zM253.4 127.4l1.95 3.9h-3.9zM246.9 115.1l1.95 3.9h-3.9zM249.8 115.1l1.95 3.9h-3.9zM252.6 115.1l1.95 3.9h-3.9zM255.5 115.1l1.95 3.9h-3.9zM258.4 115.1l1.95 3.9h-3.9zM261.2 115.1l1.95 3.9h-3.9zM264.1 115.1l1.95 3.9h-3.9zM266.9 115.1l1.95 3.9h-3.9zM269.8 115.1l1.95 3.9h-3.9zM272.6 115.1l1.95 3.9h-3.9zM275.5 115.1l1.95 3.9h-3.9zM278.4 115.1l1.95 3.9h-3.9zM281.2 115.1l1.95 3.9h-3.9zM284.1 115.1l1.95 3.9h-3.9zM286.9 115.1l1.95 3.9h-3.9zM289.8 115.1l1.95 3.9h-3.9zM292.7 115.1l1.95 3.9h-3.9zM295.5 115.1l1.95 3.9h-3.9zM298.4 115.1l1.95 3.9h-3.9zM283.8 106.0l1.95 3.9h-3.9zM294.6 106.0l1.95 3.9h-3.9zM305.9 106.0l1.95 3.9h-3.9zM305.0 115.1l1.95 3.9h-3.9zM162.1 89.3l1.95 3.9h-3.9zM168.3 89.3l1.95 3.9h-3.9zM174.6 89.3l1.95 3.9h-3.9zM180.6 89.3l1.95 3.9h-3.9zM189.2 89.3l1.95 3.9h-3.9zM244.0 90.6l1.95 3.9h-3.9zM249.7 90.6l1.95 3.9h-3.9zM256.9 90.6l1.95 3.9h-3.9zM261.7 90.6l1.95 3.9h-3.9zM267.9 90.6l1.95 3.9h-3.9zM272.9 90.6l1.95 3.9h-3.9zM279.2 90.6l1.95 3.9h-3.9zM284.1 90.6l1.95 3.9h-3.9zM290.3 90.6l1.95 3.9h-3.9zM192.5 95.2l1.95 3.9h-3.9zM224.8 95.2l1.95 3.9h-3.9zM238.6 95.2l1.95 3.9h-3.9zM152.3 98.9l1.95 3.9h-3.9zM157.5 98.9l1.95 3.9h-3.9zM163.0 98.9l1.95 3.9h-3.9zM202.9 55.8l1.95 3.9h-3.9zM214.4 55.8l1.95 3.9h-3.9zM225.0 55.8l1.95 3.9h-3.9zM280.3 55.9l1.95 3.9h-3.9zM313.4 55.9l1.95 3.9h-3.9zM273.4 64.2l1.95 3.9h-3.9zM177.5 78.5l1.95 3.9h-3.9zM188.8 78.5l1.95 3.9h-3.9zM292.8 75.7l1.95 3.9h-3.9zM299.8 78.4l1.95 3.9h-3.9zM285.6 78.4l1.95 3.9h-3.9zM178.7 78.3l1.95 3.9h-3.9zM189.5 78.3l1.95 3.9h-3.9zM118.0 106.1l1.95 3.9h-3.9zM129.1 106.1l1.95 3.9h-3.9zM312.8 171.2l1.95 3.9h-3.9zM310.4 172.5l1.95 3.9h-3.9zM246.9 70.4l1.95 3.9h-3.9zM256.1 76.0l1.95 3.9h-3.9zM267.2 82.4l1.95 3.9h-3.9zM235.9 82.4l1.95 3.9h-3.9zM219.3 85.6l1.95 3.9h-3.9zM251.5 64.8l1.95 3.9h-3.9zM260.8 58.4l1.95 3.9h-3.9zM293.9 66.4l1.95 3.9h-3.9zM304.1 72.8l1.95 3.9h-3.9zM230.3 90.4l1.95 3.9h-3.9zM208.2 90.4l1.95 3.9h-3.9zM274.6 86.4l1.95 3.9h-3.9zM154.5 99.2l1.95 3.9h-3.9zM161.2 99.2l1.95 3.9h-3.9zM167.7 99.2l1.95 3.9h-3.9zM174.1 99.2l1.95 3.9h-3.9zM180.6 99.2l1.95 3.9h-3.9zM187.9 99.2l1.95 3.9h-3.9zM194.4 99.2l1.95 3.9h-3.9zM206.4 99.2l1.95 3.9h-3.9zM215.6 99.2l1.95 3.9h-3.9zM224.8 99.2l1.95 3.9h-3.9zM234.0 99.2l1.95 3.9h-3.9zM243.2 99.2l1.95 3.9h-3.9zM261.2 99.2l1.95 3.9h-3.9zM265.0 99.2l1.95 3.9h-3.9zM267.9 99.2l1.95 3.9h-3.9zM273.7 99.2l1.95 3.9h-3.9zM278.3 99.2l1.95 3.9h-3.9zM282.0 99.2l1.95 3.9h-3.9zM301.3 99.2l1.95 3.9h-3.9zM212.2 69.2l1.95 3.9h-3.9zM206.8 75.5l1.95 3.9h-3.9zM200.2 80.1l1.95 3.9h-3.9zM280.3 54.3l1.95 3.9h-3.9zM290.3 53.9l1.95 3.9h-3.9zM302.0 53.9l1.95 3.9h-3.9zM316.9 53.9l1.95 3.9h-3.9zM272.3 69.1l1.95 3.9h-3.9zM284.7 69.8l1.95 3.9h-3.9zM299.8 69.8l1.95 3.9h-3.9zM315.7 75.7l1.95 3.9h-3.9zM287.1 80.0l1.95 3.9h-3.9zM229.4 53.1l1.95 3.9h-3.9zM253.4 53.1l1.95 3.9h-3.9zM279.2 53.1l1.95 3.9h-3.9zM289.3 53.1l1.95 3.9h-3.9zM300.4 53.1l1.95 3.9h-3.9zM313.3 53.1l1.95 3.9h-3.9zM219.4 107.1l1.95 3.9h-3.9zM205.6 107.1l1.95 3.9h-3.9zM222.3 104.6l1.95 3.9h-3.9zM208.5 104.6l1.95 3.9h-3.9zM225.2 102.0l1.95 3.9h-3.9zM211.3 102.0l1.95 3.9h-3.9zM228.0 99.4l1.95 3.9h-3.9zM214.2 99.4l1.95 3.9h-3.9zM230.9 96.9l1.95 3.9h-3.9zM217.1 96.9l1.95 3.9h-3.9zM233.8 94.3l1.95 3.9h-3.9zM219.9 94.3l1.95 3.9h-3.9zM236.6 91.7l1.95 3.9h-3.9zM222.8 91.7l1.95 3.9h-3.9zM239.5 89.2l1.95 3.9h-3.9zM225.7 89.2l1.95 3.9h-3.9zM242.4 86.6l1.95 3.9h-3.9zM228.5 86.6l1.95 3.9h-3.9zM245.2 84.0l1.95 3.9h-3.9zM231.4 84.0l1.95 3.9h-3.9zM248.1 81.5l1.95 3.9h-3.9zM234.3 81.5l1.95 3.9h-3.9zM251.0 78.9l1.95 3.9h-3.9zM237.1 78.9l1.95 3.9h-3.9zM253.8 76.3l1.95 3.9h-3.9zM240.0 76.3l1.95 3.9h-3.9zM256.7 73.8l1.95 3.9h-3.9zM242.9 73.8l1.95 3.9h-3.9zM259.6 71.2l1.95 3.9h-3.9zM245.7 71.2l1.95 3.9h-3.9zM262.4 68.7l1.95 3.9h-3.9zM248.6 68.7l1.95 3.9h-3.9zM265.3 66.1l1.95 3.9h-3.9zM251.5 66.1l1.95 3.9h-3.9zM268.2 63.5l1.95 3.9h-3.9zM254.3 63.5l1.95 3.9h-3.9zM271.0 61.0l1.95 3.9h-3.9zM257.2 61.0l1.95 3.9h-3.9zM273.9 58.4l1.95 3.9h-3.9zM260.1 58.4l1.95 3.9h-3.9zM276.8 55.8l1.95 3.9h-3.9zM262.9 55.8l1.95 3.9h-3.9zM279.6 53.3l1.95 3.9h-3.9zM265.8 53.3l1.95 3.9h-3.9zM282.5 50.7l1.95 3.9h-3.9zM268.7 50.7l1.95 3.9h-3.9zM285.4 48.1l1.95 3.9h-3.9zM271.5 48.1l1.95 3.9h-3.9zM288.2 45.6l1.95 3.9h-3.9zM274.4 45.6l1.95 3.9h-3.9zM291.1 43.0l1.95 3.9h-3.9zM277.3 43.0l1.95 3.9h-3.9zM294.0 40.4l1.95 3.9h-3.9zM280.1 40.4l1.95 3.9h-3.9zM296.8 37.9l1.95 3.9h-3.9zM283.0 37.9l1.95 3.9h-3.9zM234.3 106.2l1.95 3.9h-3.9zM192.8 106.2l1.95 3.9h-3.9zM237.2 103.6l1.95 3.9h-3.9zM195.7 103.6l1.95 3.9h-3.9zM240.1 101.0l1.95 3.9h-3.9zM198.6 101.0l1.95 3.9h-3.9zM242.9 98.5l1.95 3.9h-3.9zM201.4 98.5l1.95 3.9h-3.9zM245.8 95.9l1.95 3.9h-3.9zM204.3 95.9l1.95 3.9h-3.9zM248.7 93.3l1.95 3.9h-3.9zM207.2 93.3l1.95 3.9h-3.9zM251.5 90.8l1.95 3.9h-3.9zM210.0 90.8l1.95 3.9h-3.9zM254.4 88.2l1.95 3.9h-3.9zM212.9 88.2l1.95 3.9h-3.9zM257.3 85.6l1.95 3.9h-3.9zM215.8 85.6l1.95 3.9h-3.9zM260.1 83.1l1.95 3.9h-3.9zM218.6 83.1l1.95 3.9h-3.9zM263.0 80.5l1.95 3.9h-3.9zM221.5 80.5l1.95 3.9h-3.9zM265.9 77.9l1.95 3.9h-3.9zM224.4 77.9l1.95 3.9h-3.9zM268.7 75.4l1.95 3.9h-3.9zM227.2 75.4l1.95 3.9h-3.9zM271.6 72.8l1.95 3.9h-3.9zM230.1 72.8l1.95 3.9h-3.9zM274.5 70.2l1.95 3.9h-3.9zM233.0 70.2l1.95 3.9h-3.9zM277.3 67.7l1.95 3.9h-3.9zM235.8 67.7l1.95 3.9h-3.9zM280.2 65.1l1.95 3.9h-3.9zM238.7 65.1l1.95 3.9h-3.9zM283.1 62.6l1.95 3.9h-3.9zM241.6 62.6l1.95 3.9h-3.9zM285.9 60.0l1.95 3.9h-3.9zM244.4 60.0l1.95 3.9h-3.9zM288.8 57.4l1.95 3.9h-3.9zM247.3 57.4l1.95 3.9h-3.9zM291.7 54.9l1.95 3.9h-3.9zM250.2 54.9l1.95 3.9h-3.9zM294.5 52.3l1.95 3.9h-3.9zM253.0 52.3l1.95 3.9h-3.9zM297.4 49.7l1.95 3.9h-3.9zM255.9 49.7l1.95 3.9h-3.9zM300.3 47.2l1.95 3.9h-3.9zM258.8 47.2l1.95 3.9h-3.9zM303.1 44.6l1.95 3.9h-3.9zM261.6 44.6l1.95 3.9h-3.9zM306.0 42.0l1.95 3.9h-3.9zM264.5 42.0l1.95 3.9h-3.9zM308.9 39.5l1.95 3.9h-3.9zM267.4 39.5l1.95 3.9h-3.9zM248.2 106.2l1.95 3.9h-3.9zM179.0 106.2l1.95 3.9h-3.9zM251.0 103.6l1.95 3.9h-3.9zM181.9 103.6l1.95 3.9h-3.9zM253.9 101.0l1.95 3.9h-3.9zM184.7 101.0l1.95 3.9h-3.9zM256.8 98.5l1.95 3.9h-3.9zM187.6 98.5l1.95 3.9h-3.9zM259.6 95.9l1.95 3.9h-3.9zM190.5 95.9l1.95 3.9h-3.9zM262.5 93.3l1.95 3.9h-3.9zM193.3 93.3l1.95 3.9h-3.9zM265.4 90.8l1.95 3.9h-3.9zM196.2 90.8l1.95 3.9h-3.9zM268.2 88.2l1.95 3.9h-3.9zM199.1 88.2l1.95 3.9h-3.9zM271.1 85.6l1.95 3.9h-3.9zM201.9 85.6l1.95 3.9h-3.9zM274.0 83.1l1.95 3.9h-3.9zM204.8 83.1l1.95 3.9h-3.9zM276.8 80.5l1.95 3.9h-3.9zM207.7 80.5l1.95 3.9h-3.9zM279.7 77.9l1.95 3.9h-3.9zM210.5 77.9l1.95 3.9h-3.9zM282.6 75.4l1.95 3.9h-3.9zM213.4 75.4l1.95 3.9h-3.9zM285.4 72.8l1.95 3.9h-3.9zM216.3 72.8l1.95 3.9h-3.9zM288.3 70.3l1.95 3.9h-3.9zM219.1 70.3l1.95 3.9h-3.9zM291.2 67.7l1.95 3.9h-3.9zM222.0 67.7l1.95 3.9h-3.9zM294.0 65.1l1.95 3.9h-3.9zM224.9 65.1l1.95 3.9h-3.9zM296.9 62.6l1.95 3.9h-3.9zM227.7 62.6l1.95 3.9h-3.9zM299.8 60.0l1.95 3.9h-3.9zM230.6 60.0l1.95 3.9h-3.9zM302.6 57.4l1.95 3.9h-3.9zM233.5 57.4l1.95 3.9h-3.9zM305.5 54.9l1.95 3.9h-3.9zM236.3 54.9l1.95 3.9h-3.9zM308.4 52.3l1.95 3.9h-3.9zM239.2 52.3l1.95 3.9h-3.9zM311.2 49.7l1.95 3.9h-3.9zM242.1 49.7l1.95 3.9h-3.9zM314.1 47.2l1.95 3.9h-3.9zM244.9 47.2l1.95 3.9h-3.9zM317.0 44.6l1.95 3.9h-3.9zM247.8 44.6l1.95 3.9h-3.9zM262.4 105.8l1.95 3.9h-3.9zM165.6 105.8l1.95 3.9h-3.9zM265.3 103.2l1.95 3.9h-3.9zM168.5 103.2l1.95 3.9h-3.9zM268.2 100.7l1.95 3.9h-3.9zM171.3 100.7l1.95 3.9h-3.9zM271.0 98.1l1.95 3.9h-3.9zM174.2 98.1l1.95 3.9h-3.9zM273.9 95.5l1.95 3.9h-3.9zM177.1 95.5l1.95 3.9h-3.9zM276.8 93.0l1.95 3.9h-3.9zM179.9 93.0l1.95 3.9h-3.9zM279.6 90.4l1.95 3.9h-3.9zM182.8 90.4l1.95 3.9h-3.9zM282.5 87.8l1.95 3.9h-3.9zM185.7 87.8l1.95 3.9h-3.9zM285.4 85.3l1.95 3.9h-3.9zM188.5 85.3l1.95 3.9h-3.9zM288.2 82.7l1.95 3.9h-3.9zM191.4 82.7l1.95 3.9h-3.9zM291.1 80.1l1.95 3.9h-3.9zM194.3 80.1l1.95 3.9h-3.9zM294.0 77.6l1.95 3.9h-3.9zM197.1 77.6l1.95 3.9h-3.9zM296.8 75.0l1.95 3.9h-3.9zM200.0 75.0l1.95 3.9h-3.9zM299.7 72.4l1.95 3.9h-3.9zM202.9 72.4l1.95 3.9h-3.9zM302.6 69.9l1.95 3.9h-3.9zM205.7 69.9l1.95 3.9h-3.9zM305.4 67.3l1.95 3.9h-3.9zM208.6 67.3l1.95 3.9h-3.9zM308.3 64.7l1.95 3.9h-3.9zM211.5 64.7l1.95 3.9h-3.9zM311.2 62.2l1.95 3.9h-3.9zM214.3 62.2l1.95 3.9h-3.9zM314.0 59.6l1.95 3.9h-3.9zM217.2 59.6l1.95 3.9h-3.9zM316.9 57.0l1.95 3.9h-3.9zM220.1 57.0l1.95 3.9h-3.9zM319.8 54.5l1.95 3.9h-3.9zM222.9 54.5l1.95 3.9h-3.9zM274.6 107.3l1.95 3.9h-3.9zM150.1 107.3l1.95 3.9h-3.9zM277.4 104.7l1.95 3.9h-3.9zM152.9 104.7l1.95 3.9h-3.9zM280.3 102.2l1.95 3.9h-3.9zM155.8 102.2l1.95 3.9h-3.9zM283.2 99.6l1.95 3.9h-3.9zM158.7 99.6l1.95 3.9h-3.9zM286.0 97.0l1.95 3.9h-3.9zM161.5 97.0l1.95 3.9h-3.9zM288.9 94.5l1.95 3.9h-3.9zM164.4 94.5l1.95 3.9h-3.9zM291.8 91.9l1.95 3.9h-3.9zM167.3 91.9l1.95 3.9h-3.9zM294.6 89.3l1.95 3.9h-3.9zM170.1 89.3l1.95 3.9h-3.9zM297.5 86.8l1.95 3.9h-3.9zM173.0 86.8l1.95 3.9h-3.9zM300.4 84.2l1.95 3.9h-3.9zM175.9 84.2l1.95 3.9h-3.9zM303.2 81.6l1.95 3.9h-3.9zM178.7 81.6l1.95 3.9h-3.9zM306.1 79.1l1.95 3.9h-3.9zM181.6 79.1l1.95 3.9h-3.9zM309.0 76.5l1.95 3.9h-3.9zM184.5 76.5l1.95 3.9h-3.9zM311.8 74.0l1.95 3.9h-3.9zM187.3 74.0l1.95 3.9h-3.9zM222.6 116.3l1.95 3.9h-3.9zM208.8 116.3l1.95 3.9h-3.9zM225.8 113.5l1.95 3.9h-3.9zM211.9 113.5l1.95 3.9h-3.9zM229.0 110.6l1.95 3.9h-3.9zM215.1 110.6l1.95 3.9h-3.9zM232.1 107.8l1.95 3.9h-3.9zM218.3 107.8l1.95 3.9h-3.9zM235.3 104.9l1.95 3.9h-3.9zM221.5 104.9l1.95 3.9h-3.9zM238.5 102.1l1.95 3.9h-3.9zM224.7 102.1l1.95 3.9h-3.9zM241.7 99.2l1.95 3.9h-3.9zM227.9 99.2l1.95 3.9h-3.9zM244.9 96.4l1.95 3.9h-3.9zM231.1 96.4l1.95 3.9h-3.9zM248.1 93.5l1.95 3.9h-3.9zM234.2 93.5l1.95 3.9h-3.9zM251.3 90.7l1.95 3.9h-3.9zM237.4 90.7l1.95 3.9h-3.9zM254.4 87.8l1.95 3.9h-3.9zM240.6 87.8l1.95 3.9h-3.9zM257.6 85.0l1.95 3.9h-3.9zM243.8 85.0l1.95 3.9h-3.9zM260.8 82.1l1.95 3.9h-3.9zM247.0 82.1l1.95 3.9h-3.9zM264.0 79.3l1.95 3.9h-3.9zM250.2 79.3l1.95 3.9h-3.9zM267.2 76.4l1.95 3.9h-3.9zM253.4 76.4l1.95 3.9h-3.9zM270.4 73.6l1.95 3.9h-3.9zM256.5 73.6l1.95 3.9h-3.9zM273.6 70.7l1.95 3.9h-3.9zM259.7 70.7l1.95 3.9h-3.9zM276.7 67.9l1.95 3.9h-3.9zM262.9 67.9l1.95 3.9h-3.9zM279.9 65.0l1.95 3.9h-3.9zM266.1 65.0l1.95 3.9h-3.9zM283.1 62.2l1.95 3.9h-3.9zM269.3 62.2l1.95 3.9h-3.9zM286.3 59.3l1.95 3.9h-3.9zM272.5 59.3l1.95 3.9h-3.9zM289.5 56.5l1.95 3.9h-3.9zM275.6 56.5l1.95 3.9h-3.9zM292.7 53.6l1.95 3.9h-3.9zM278.8 53.6l1.95 3.9h-3.9zM295.8 50.8l1.95 3.9h-3.9zM282.0 50.8l1.95 3.9h-3.9zM299.0 47.9l1.95 3.9h-3.9zM285.2 47.9l1.95 3.9h-3.9zM302.2 45.1l1.95 3.9h-3.9zM288.4 45.1l1.95 3.9h-3.9zM305.4 42.2l1.95 3.9h-3.9zM291.6 42.2l1.95 3.9h-3.9zM308.6 39.4l1.95 3.9h-3.9zM294.8 39.4l1.95 3.9h-3.9zM236.2 116.5l1.95 3.9h-3.9zM194.7 116.5l1.95 3.9h-3.9zM239.4 113.7l1.95 3.9h-3.9zM197.9 113.7l1.95 3.9h-3.9zM242.6 110.8l1.95 3.9h-3.9zM201.1 110.8l1.95 3.9h-3.9zM245.8 108.0l1.95 3.9h-3.9zM204.3 108.0l1.95 3.9h-3.9zM249.0 105.1l1.95 3.9h-3.9zM207.5 105.1l1.95 3.9h-3.9zM252.1 102.3l1.95 3.9h-3.9zM210.6 102.3l1.95 3.9h-3.9zM255.3 99.4l1.95 3.9h-3.9zM213.8 99.4l1.95 3.9h-3.9zM258.5 96.6l1.95 3.9h-3.9zM217.0 96.6l1.95 3.9h-3.9zM261.7 93.7l1.95 3.9h-3.9zM220.2 93.7l1.95 3.9h-3.9zM264.9 90.9l1.95 3.9h-3.9zM223.4 90.9l1.95 3.9h-3.9zM268.1 88.0l1.95 3.9h-3.9zM226.6 88.0l1.95 3.9h-3.9zM271.2 85.2l1.95 3.9h-3.9zM229.8 85.2l1.95 3.9h-3.9zM274.4 82.3l1.95 3.9h-3.9zM232.9 82.3l1.95 3.9h-3.9zM277.6 79.5l1.95 3.9h-3.9zM236.1 79.5l1.95 3.9h-3.9zM280.8 76.6l1.95 3.9h-3.9zM239.3 76.6l1.95 3.9h-3.9zM284.0 73.8l1.95 3.9h-3.9zM242.5 73.8l1.95 3.9h-3.9zM287.2 70.9l1.95 3.9h-3.9zM245.7 70.9l1.95 3.9h-3.9zM290.4 68.1l1.95 3.9h-3.9zM248.9 68.1l1.95 3.9h-3.9zM293.5 65.2l1.95 3.9h-3.9zM252.0 65.2l1.95 3.9h-3.9zM296.7 62.4l1.95 3.9h-3.9zM255.2 62.4l1.95 3.9h-3.9zM299.9 59.5l1.95 3.9h-3.9zM258.4 59.5l1.95 3.9h-3.9zM303.1 56.7l1.95 3.9h-3.9zM261.6 56.7l1.95 3.9h-3.9zM306.3 53.8l1.95 3.9h-3.9zM264.8 53.8l1.95 3.9h-3.9zM309.5 51.0l1.95 3.9h-3.9zM268.0 51.0l1.95 3.9h-3.9zM312.7 48.1l1.95 3.9h-3.9zM271.2 48.1l1.95 3.9h-3.9zM315.8 45.3l1.95 3.9h-3.9zM274.3 45.3l1.95 3.9h-3.9zM250.2 116.3l1.95 3.9h-3.9zM181.1 116.3l1.95 3.9h-3.9zM253.4 113.5l1.95 3.9h-3.9zM184.3 113.5l1.95 3.9h-3.9zM256.6 110.6l1.95 3.9h-3.9zM187.5 110.6l1.95 3.9h-3.9zM259.8 107.8l1.95 3.9h-3.9zM190.6 107.8l1.95 3.9h-3.9zM263.0 104.9l1.95 3.9h-3.9zM193.8 104.9l1.95 3.9h-3.9zM266.2 102.1l1.95 3.9h-3.9zM197.0 102.1l1.95 3.9h-3.9zM269.4 99.2l1.95 3.9h-3.9zM200.2 99.2l1.95 3.9h-3.9zM272.5 96.4l1.95 3.9h-3.9zM203.4 96.4l1.95 3.9h-3.9zM275.7 93.5l1.95 3.9h-3.9zM206.6 93.5l1.95 3.9h-3.9zM278.9 90.7l1.95 3.9h-3.9zM209.7 90.7l1.95 3.9h-3.9zM282.1 87.8l1.95 3.9h-3.9zM212.9 87.8l1.95 3.9h-3.9zM285.3 85.0l1.95 3.9h-3.9zM216.1 85.0l1.95 3.9h-3.9zM288.5 82.1l1.95 3.9h-3.9zM219.3 82.1l1.95 3.9h-3.9zM291.6 79.3l1.95 3.9h-3.9zM222.5 79.3l1.95 3.9h-3.9zM294.8 76.4l1.95 3.9h-3.9zM225.7 76.4l1.95 3.9h-3.9zM298.0 73.6l1.95 3.9h-3.9zM228.9 73.6l1.95 3.9h-3.9zM301.2 70.7l1.95 3.9h-3.9zM232.0 70.7l1.95 3.9h-3.9zM304.4 67.9l1.95 3.9h-3.9zM235.2 67.9l1.95 3.9h-3.9zM307.6 65.0l1.95 3.9h-3.9zM238.4 65.0l1.95 3.9h-3.9zM310.8 62.2l1.95 3.9h-3.9zM241.6 62.2l1.95 3.9h-3.9zM313.9 59.3l1.95 3.9h-3.9zM244.8 59.3l1.95 3.9h-3.9zM317.1 56.5l1.95 3.9h-3.9zM248.0 56.5l1.95 3.9h-3.9zM320.3 53.6l1.95 3.9h-3.9zM251.2 53.6l1.95 3.9h-3.9zM321.6 50.8l1.95 3.9h-3.9zM254.3 50.8l1.95 3.9h-3.9zM265.4 115.2l1.95 3.9h-3.9zM168.5 115.2l1.95 3.9h-3.9zM268.6 112.3l1.95 3.9h-3.9zM171.7 112.3l1.95 3.9h-3.9zM271.7 109.5l1.95 3.9h-3.9zM174.9 109.5l1.95 3.9h-3.9zM274.9 106.6l1.95 3.9h-3.9zM178.1 106.6l1.95 3.9h-3.9zM278.1 103.8l1.95 3.9h-3.9zM181.3 103.8l1.95 3.9h-3.9zM281.3 100.9l1.95 3.9h-3.9zM184.5 100.9l1.95 3.9h-3.9zM284.5 98.1l1.95 3.9h-3.9zM187.7 98.1l1.95 3.9h-3.9zM287.7 95.2l1.95 3.9h-3.9zM190.8 95.2l1.95 3.9h-3.9zM290.9 92.4l1.95 3.9h-3.9zM194.0 92.4l1.95 3.9h-3.9zM294.0 89.5l1.95 3.9h-3.9zM197.2 89.5l1.95 3.9h-3.9zM297.2 86.7l1.95 3.9h-3.9zM200.4 86.7l1.95 3.9h-3.9zM300.4 83.8l1.95 3.9h-3.9zM203.6 83.8l1.95 3.9h-3.9zM303.6 81.0l1.95 3.9h-3.9zM206.8 81.0l1.95 3.9h-3.9zM306.8 78.1l1.95 3.9h-3.9zM210.0 78.1l1.95 3.9h-3.9zM310.0 75.3l1.95 3.9h-3.9zM213.1 75.3l1.95 3.9h-3.9zM313.1 72.4l1.95 3.9h-3.9zM216.3 72.4l1.95 3.9h-3.9zM316.3 69.6l1.95 3.9h-3.9zM219.5 69.6l1.95 3.9h-3.9zM319.5 66.7l1.95 3.9h-3.9zM222.7 66.7l1.95 3.9h-3.9zM321.6 63.9l1.95 3.9h-3.9zM225.9 63.9l1.95 3.9h-3.9zM321.6 61.0l1.95 3.9h-3.9zM229.1 61.0l1.95 3.9h-3.9zM321.6 58.2l1.95 3.9h-3.9zM232.2 58.2l1.95 3.9h-3.9zM277.7 116.5l1.95 3.9h-3.9zM153.2 116.5l1.95 3.9h-3.9zM280.9 113.7l1.95 3.9h-3.9zM156.4 113.7l1.95 3.9h-3.9zM284.0 110.8l1.95 3.9h-3.9zM159.5 110.8l1.95 3.9h-3.9zM287.2 108.0l1.95 3.9h-3.9zM162.7 108.0l1.95 3.9h-3.9zM290.4 105.1l1.95 3.9h-3.9zM165.9 105.1l1.95 3.9h-3.9zM293.6 102.3l1.95 3.9h-3.9zM169.1 102.3l1.95 3.9h-3.9zM296.8 99.4l1.95 3.9h-3.9zM172.3 99.4l1.95 3.9h-3.9zM300.0 96.6l1.95 3.9h-3.9zM175.5 96.6l1.95 3.9h-3.9zM303.1 93.7l1.95 3.9h-3.9zM178.7 93.7l1.95 3.9h-3.9zM306.3 90.9l1.95 3.9h-3.9zM181.8 90.9l1.95 3.9h-3.9zM309.5 88.0l1.95 3.9h-3.9zM185.0 88.0l1.95 3.9h-3.9zM312.7 85.2l1.95 3.9h-3.9zM188.2 85.2l1.95 3.9h-3.9zM315.9 82.3l1.95 3.9h-3.9zM191.4 82.3l1.95 3.9h-3.9zM319.1 79.5l1.95 3.9h-3.9zM194.6 79.5l1.95 3.9h-3.9zM321.6 76.6l1.95 3.9h-3.9zM197.8 76.6l1.95 3.9h-3.9zM321.6 73.8l1.95 3.9h-3.9zM201.0 73.8l1.95 3.9h-3.9zM321.6 70.9l1.95 3.9h-3.9zM204.1 70.9l1.95 3.9h-3.9zM321.6 68.1l1.95 3.9h-3.9zM207.3 68.1l1.95 3.9h-3.9zM321.6 65.2l1.95 3.9h-3.9zM210.5 65.2l1.95 3.9h-3.9zM321.6 90.6l1.95 3.9h-3.9zM321.6 88.9l1.95 3.9h-3.9zM321.6 87.2l1.95 3.9h-3.9zM321.6 85.5l1.95 3.9h-3.9zM321.6 83.8l1.95 3.9h-3.9zM321.6 82.1l1.95 3.9h-3.9zM321.6 80.4l1.95 3.9h-3.9zM321.6 78.7l1.95 3.9h-3.9zM321.6 76.9l1.95 3.9h-3.9zM321.6 75.2l1.95 3.9h-3.9zM321.6 73.5l1.95 3.9h-3.9zM321.6 71.8l1.95 3.9h-3.9zM321.6 70.1l1.95 3.9h-3.9zM321.6 68.4l1.95 3.9h-3.9zM321.6 66.7l1.95 3.9h-3.9zM321.6 65.0l1.95 3.9h-3.9zM321.6 63.3l1.95 3.9h-3.9zM321.6 61.6l1.95 3.9h-3.9zM321.6 59.8l1.95 3.9h-3.9zM321.6 58.1l1.95 3.9h-3.9zM321.6 56.4l1.95 3.9h-3.9zM321.6 54.7l1.95 3.9h-3.9zM321.6 53.0l1.95 3.9h-3.9zM321.6 51.3l1.95 3.9h-3.9zM321.6 49.6l1.95 3.9h-3.9zM321.6 47.9l1.95 3.9h-3.9zM321.6 46.2l1.95 3.9h-3.9zM321.6 44.5l1.95 3.9h-3.9zM237.4 89.2l1.95 3.9h-3.9zM223.6 89.2l1.95 3.9h-3.9zM242.3 84.8l1.95 3.9h-3.9zM228.5 84.8l1.95 3.9h-3.9zM247.2 80.5l1.95 3.9h-3.9zM233.3 80.5l1.95 3.9h-3.9zM252.0 76.2l1.95 3.9h-3.9zM238.1 76.2l1.95 3.9h-3.9zM256.1 72.5l1.95 3.9h-3.9zM242.2 72.5l1.95 3.9h-3.9zM260.1 68.9l1.95 3.9h-3.9zM246.3 68.9l1.95 3.9h-3.9zM263.6 65.8l1.95 3.9h-3.9zM249.8 65.8l1.95 3.9h-3.9zM267.1 62.6l1.95 3.9h-3.9zM253.3 62.6l1.95 3.9h-3.9zM270.2 59.9l1.95 3.9h-3.9zM256.4 59.9l1.95 3.9h-3.9zM273.3 57.1l1.95 3.9h-3.9zM259.4 57.1l1.95 3.9h-3.9zM276.3 54.4l1.95 3.9h-3.9zM262.5 54.4l1.95 3.9h-3.9zM279.3 51.8l1.95 3.9h-3.9zM265.4 51.8l1.95 3.9h-3.9zM282.2 49.2l1.95 3.9h-3.9zM268.3 49.2l1.95 3.9h-3.9zM285.0 46.7l1.95 3.9h-3.9zM271.1 46.7l1.95 3.9h-3.9zM287.7 44.2l1.95 3.9h-3.9zM273.9 44.2l1.95 3.9h-3.9zM290.3 41.9l1.95 3.9h-3.9zM276.5 41.9l1.95 3.9h-3.9zM293.0 39.4l1.95 3.9h-3.9zM279.2 39.4l1.95 3.9h-3.9zM295.5 37.2l1.95 3.9h-3.9zM281.6 37.2l1.95 3.9h-3.9zM298.1 34.9l1.95 3.9h-3.9zM284.3 34.9l1.95 3.9h-3.9zM300.6 32.7l1.95 3.9h-3.9zM286.7 32.7l1.95 3.9h-3.9zM303.0 30.5l1.95 3.9h-3.9zM289.1 30.5l1.95 3.9h-3.9zM305.4 28.3l1.95 3.9h-3.9zM291.6 28.3l1.95 3.9h-3.9zM309.5 24.7l1.95 3.9h-3.9zM295.7 24.7l1.95 3.9h-3.9zM256.1 84.8l1.95 3.9h-3.9zM214.6 84.8l1.95 3.9h-3.9zM261.0 80.5l1.95 3.9h-3.9zM219.5 80.5l1.95 3.9h-3.9zM265.8 76.2l1.95 3.9h-3.9zM224.3 76.2l1.95 3.9h-3.9zM269.9 72.5l1.95 3.9h-3.9zM228.4 72.5l1.95 3.9h-3.9zM273.9 68.9l1.95 3.9h-3.9zM232.4 68.9l1.95 3.9h-3.9zM277.4 65.8l1.95 3.9h-3.9zM235.9 65.8l1.95 3.9h-3.9zM280.9 62.6l1.95 3.9h-3.9zM239.4 62.6l1.95 3.9h-3.9zM284.0 59.9l1.95 3.9h-3.9zM242.5 59.9l1.95 3.9h-3.9zM287.1 57.1l1.95 3.9h-3.9zM245.6 57.1l1.95 3.9h-3.9zM290.1 54.4l1.95 3.9h-3.9zM248.6 54.4l1.95 3.9h-3.9zM293.1 51.8l1.95 3.9h-3.9zM251.6 51.8l1.95 3.9h-3.9zM296.0 49.2l1.95 3.9h-3.9zM254.5 49.2l1.95 3.9h-3.9zM298.8 46.7l1.95 3.9h-3.9zM257.3 46.7l1.95 3.9h-3.9zM301.5 44.2l1.95 3.9h-3.9zM260.0 44.2l1.95 3.9h-3.9zM304.2 41.9l1.95 3.9h-3.9zM262.7 41.9l1.95 3.9h-3.9zM306.8 39.4l1.95 3.9h-3.9zM265.4 39.4l1.95 3.9h-3.9zM309.3 37.2l1.95 3.9h-3.9zM267.8 37.2l1.95 3.9h-3.9zM311.9 34.9l1.95 3.9h-3.9zM270.4 34.9l1.95 3.9h-3.9zM314.4 32.7l1.95 3.9h-3.9zM272.9 32.7l1.95 3.9h-3.9zM316.8 30.5l1.95 3.9h-3.9zM275.3 30.5l1.95 3.9h-3.9zM319.3 28.3l1.95 3.9h-3.9zM277.8 28.3l1.95 3.9h-3.9zM321.6 23.7l1.95 3.9h-3.9zM283.0 23.7l1.95 3.9h-3.9zM279.6 76.2l1.95 3.9h-3.9zM210.5 76.2l1.95 3.9h-3.9zM283.7 72.5l1.95 3.9h-3.9zM214.6 72.5l1.95 3.9h-3.9zM287.8 68.9l1.95 3.9h-3.9zM218.6 68.9l1.95 3.9h-3.9zM291.3 65.8l1.95 3.9h-3.9zM222.1 65.8l1.95 3.9h-3.9zM294.8 62.6l1.95 3.9h-3.9zM225.6 62.6l1.95 3.9h-3.9zM297.9 59.9l1.95 3.9h-3.9zM228.7 59.9l1.95 3.9h-3.9zM300.9 57.1l1.95 3.9h-3.9zM231.8 57.1l1.95 3.9h-3.9zM304.0 54.4l1.95 3.9h-3.9zM234.8 54.4l1.95 3.9h-3.9zM306.9 51.8l1.95 3.9h-3.9zM237.8 51.8l1.95 3.9h-3.9zM309.8 49.2l1.95 3.9h-3.9zM240.7 49.2l1.95 3.9h-3.9zM312.6 46.7l1.95 3.9h-3.9zM243.5 46.7l1.95 3.9h-3.9zM315.4 44.2l1.95 3.9h-3.9zM246.2 44.2l1.95 3.9h-3.9zM318.0 41.9l1.95 3.9h-3.9zM248.8 41.9l1.95 3.9h-3.9zM320.7 39.4l1.95 3.9h-3.9zM251.5 39.4l1.95 3.9h-3.9zM321.6 37.2l1.95 3.9h-3.9zM254.0 37.2l1.95 3.9h-3.9zM321.6 34.9l1.95 3.9h-3.9zM256.6 34.9l1.95 3.9h-3.9zM321.6 32.7l1.95 3.9h-3.9zM259.1 32.7l1.95 3.9h-3.9zM321.6 30.5l1.95 3.9h-3.9zM261.5 30.5l1.95 3.9h-3.9zM321.6 28.3l1.95 3.9h-3.9zM263.9 28.3l1.95 3.9h-3.9zM321.6 26.2l1.95 3.9h-3.9zM266.3 26.2l1.95 3.9h-3.9zM321.6 21.9l1.95 3.9h-3.9zM271.1 21.9l1.95 3.9h-3.9zM308.6 62.6l1.95 3.9h-3.9zM211.8 62.6l1.95 3.9h-3.9zM311.7 59.9l1.95 3.9h-3.9zM214.9 59.9l1.95 3.9h-3.9zM314.8 57.1l1.95 3.9h-3.9zM217.9 57.1l1.95 3.9h-3.9zM317.8 54.4l1.95 3.9h-3.9zM221.0 54.4l1.95 3.9h-3.9zM320.8 51.8l1.95 3.9h-3.9zM223.9 51.8l1.95 3.9h-3.9zM321.6 49.2l1.95 3.9h-3.9zM226.8 49.2l1.95 3.9h-3.9zM321.6 46.7l1.95 3.9h-3.9zM229.6 46.7l1.95 3.9h-3.9zM321.6 44.2l1.95 3.9h-3.9zM232.4 44.2l1.95 3.9h-3.9zM321.6 41.9l1.95 3.9h-3.9zM235.0 41.9l1.95 3.9h-3.9zM321.6 39.4l1.95 3.9h-3.9zM237.7 39.4l1.95 3.9h-3.9zM321.6 37.2l1.95 3.9h-3.9zM240.1 37.2l1.95 3.9h-3.9zM321.6 34.9l1.95 3.9h-3.9zM242.8 34.9l1.95 3.9h-3.9zM321.6 32.7l1.95 3.9h-3.9zM245.3 32.7l1.95 3.9h-3.9zM321.6 30.5l1.95 3.9h-3.9zM247.6 30.5l1.95 3.9h-3.9zM321.6 28.3l1.95 3.9h-3.9zM250.1 28.3l1.95 3.9h-3.9zM321.6 26.2l1.95 3.9h-3.9zM252.5 26.2l1.95 3.9h-3.9zM321.6 24.1l1.95 3.9h-3.9zM254.9 24.1l1.95 3.9h-3.9zM321.6 20.7l1.95 3.9h-3.9zM258.6 20.7l1.95 3.9h-3.9zM321.6 48.1l1.95 3.9h-3.9zM214.2 48.1l1.95 3.9h-3.9zM321.6 46.0l1.95 3.9h-3.9zM216.6 46.0l1.95 3.9h-3.9zM321.6 43.2l1.95 3.9h-3.9zM219.7 43.2l1.95 3.9h-3.9zM321.6 39.6l1.95 3.9h-3.9zM223.7 39.6l1.95 3.9h-3.9zM321.6 34.9l1.95 3.9h-3.9zM228.9 34.9l1.95 3.9h-3.9zM321.6 30.5l1.95 3.9h-3.9zM233.8 30.5l1.95 3.9h-3.9zM321.6 26.1l1.95 3.9h-3.9zM238.8 26.1l1.95 3.9h-3.9zM321.6 19.7l1.95 3.9h-3.9zM245.9 19.7l1.95 3.9h-3.9zM321.6 34.9l1.95 3.9h-3.9zM215.1 34.9l1.95 3.9h-3.9zM321.6 30.3l1.95 3.9h-3.9zM220.3 30.3l1.95 3.9h-3.9zM321.6 25.0l1.95 3.9h-3.9zM226.2 25.0l1.95 3.9h-3.9zM321.6 18.3l1.95 3.9h-3.9zM233.6 18.3l1.95 3.9h-3.9zM321.6 53.0l1.95 3.9h-3.9zM321.6 51.6l1.95 3.9h-3.9zM321.6 50.2l1.95 3.9h-3.9zM321.6 48.7l1.95 3.9h-3.9zM321.6 47.3l1.95 3.9h-3.9zM321.6 45.9l1.95 3.9h-3.9zM321.6 44.5l1.95 3.9h-3.9zM321.6 43.0l1.95 3.9h-3.9zM321.6 41.6l1.95 3.9h-3.9zM321.6 40.2l1.95 3.9h-3.9zM321.6 38.8l1.95 3.9h-3.9zM321.6 37.3l1.95 3.9h-3.9zM321.6 35.9l1.95 3.9h-3.9zM321.6 34.5l1.95 3.9h-3.9zM321.6 33.1l1.95 3.9h-3.9zM321.6 31.6l1.95 3.9h-3.9zM321.6 30.2l1.95 3.9h-3.9zM321.6 28.8l1.95 3.9h-3.9zM321.6 27.4l1.95 3.9h-3.9zM321.6 25.9l1.95 3.9h-3.9zM321.6 24.5l1.95 3.9h-3.9zM321.6 23.1l1.95 3.9h-3.9zM321.6 21.7l1.95 3.9h-3.9zM321.6 20.2l1.95 3.9h-3.9zM321.6 18.8l1.95 3.9h-3.9zM321.6 17.4l1.95 3.9h-3.9zM159.7 158.7l1.95 3.9h-3.9zM145.9 158.7l1.95 3.9h-3.9zM162.9 155.9l1.95 3.9h-3.9zM149.1 155.9l1.95 3.9h-3.9zM166.1 153.0l1.95 3.9h-3.9zM152.2 153.0l1.95 3.9h-3.9zM169.3 150.2l1.95 3.9h-3.9zM155.4 150.2l1.95 3.9h-3.9zM172.4 147.3l1.95 3.9h-3.9zM158.6 147.3l1.95 3.9h-3.9zM175.6 144.5l1.95 3.9h-3.9zM161.8 144.5l1.95 3.9h-3.9zM178.8 141.6l1.95 3.9h-3.9zM165.0 141.6l1.95 3.9h-3.9zM182.0 138.8l1.95 3.9h-3.9zM168.2 138.8l1.95 3.9h-3.9zM185.2 135.9l1.95 3.9h-3.9zM171.4 135.9l1.95 3.9h-3.9zM188.4 133.1l1.95 3.9h-3.9zM174.5 133.1l1.95 3.9h-3.9zM191.6 130.2l1.95 3.9h-3.9zM177.7 130.2l1.95 3.9h-3.9zM194.7 127.4l1.95 3.9h-3.9zM180.9 127.4l1.95 3.9h-3.9zM197.9 124.5l1.95 3.9h-3.9zM184.1 124.5l1.95 3.9h-3.9zM177.4 155.3l1.95 3.9h-3.9zM135.9 155.3l1.95 3.9h-3.9zM180.5 152.5l1.95 3.9h-3.9zM139.0 152.5l1.95 3.9h-3.9zM183.7 149.6l1.95 3.9h-3.9zM142.2 149.6l1.95 3.9h-3.9zM186.9 146.8l1.95 3.9h-3.9zM145.4 146.8l1.95 3.9h-3.9zM190.1 143.9l1.95 3.9h-3.9zM148.6 143.9l1.95 3.9h-3.9zM193.3 141.1l1.95 3.9h-3.9zM151.8 141.1l1.95 3.9h-3.9zM196.5 138.2l1.95 3.9h-3.9zM155.0 138.2l1.95 3.9h-3.9zM199.7 135.4l1.95 3.9h-3.9zM158.2 135.4l1.95 3.9h-3.9zM202.8 132.5l1.95 3.9h-3.9zM161.3 132.5l1.95 3.9h-3.9zM206.0 129.7l1.95 3.9h-3.9zM164.5 129.7l1.95 3.9h-3.9zM209.2 126.8l1.95 3.9h-3.9zM167.7 126.8l1.95 3.9h-3.9zM212.4 124.0l1.95 3.9h-3.9zM170.9 124.0l1.95 3.9h-3.9zM196.6 150.5l1.95 3.9h-3.9zM127.4 150.5l1.95 3.9h-3.9zM199.8 147.6l1.95 3.9h-3.9zM130.6 147.6l1.95 3.9h-3.9zM203.0 144.8l1.95 3.9h-3.9zM133.8 144.8l1.95 3.9h-3.9zM206.2 141.9l1.95 3.9h-3.9zM137.0 141.9l1.95 3.9h-3.9zM209.3 139.1l1.95 3.9h-3.9zM140.2 139.1l1.95 3.9h-3.9zM212.5 136.2l1.95 3.9h-3.9zM143.4 136.2l1.95 3.9h-3.9zM215.7 133.4l1.95 3.9h-3.9zM146.6 133.4l1.95 3.9h-3.9zM218.9 130.5l1.95 3.9h-3.9zM149.7 130.5l1.95 3.9h-3.9zM222.1 127.7l1.95 3.9h-3.9zM152.9 127.7l1.95 3.9h-3.9zM225.3 124.8l1.95 3.9h-3.9zM156.1 124.8l1.95 3.9h-3.9zM214.9 146.5l1.95 3.9h-3.9zM118.1 146.5l1.95 3.9h-3.9zM218.1 143.6l1.95 3.9h-3.9zM121.3 143.6l1.95 3.9h-3.9zM221.3 140.8l1.95 3.9h-3.9zM124.4 140.8l1.95 3.9h-3.9zM224.5 137.9l1.95 3.9h-3.9zM127.6 137.9l1.95 3.9h-3.9zM227.6 135.1l1.95 3.9h-3.9zM130.8 135.1l1.95 3.9h-3.9zM230.8 132.2l1.95 3.9h-3.9zM134.0 132.2l1.95 3.9h-3.9zM234.0 129.4l1.95 3.9h-3.9zM137.2 129.4l1.95 3.9h-3.9zM237.2 126.5l1.95 3.9h-3.9zM140.4 126.5l1.95 3.9h-3.9zM240.4 123.7l1.95 3.9h-3.9zM143.6 123.7l1.95 3.9h-3.9zM235.7 140.2l1.95 3.9h-3.9zM111.2 140.2l1.95 3.9h-3.9zM238.9 137.4l1.95 3.9h-3.9zM114.4 137.4l1.95 3.9h-3.9zM242.1 134.5l1.95 3.9h-3.9zM117.6 134.5l1.95 3.9h-3.9zM245.3 131.7l1.95 3.9h-3.9zM120.8 131.7l1.95 3.9h-3.9zM248.5 128.8l1.95 3.9h-3.9zM124.0 128.8l1.95 3.9h-3.9zM251.7 126.0l1.95 3.9h-3.9zM127.2 126.0l1.95 3.9h-3.9zM183.1 105.7l1.95 3.9h-3.9zM186.9 105.7l1.95 3.9h-3.9zM194.5 105.7l1.95 3.9h-3.9zM198.3 105.7l1.95 3.9h-3.9zM187.5 101.7l1.95 3.9h-3.9zM191.3 101.7l1.95 3.9h-3.9zM199.0 101.7l1.95 3.9h-3.9zM202.8 101.7l1.95 3.9h-3.9zM192.0 97.7l1.95 3.9h-3.9zM195.8 97.7l1.95 3.9h-3.9zM203.4 97.7l1.95 3.9h-3.9zM207.3 97.7l1.95 3.9h-3.9zM196.4 93.8l1.95 3.9h-3.9zM200.3 93.8l1.95 3.9h-3.9zM207.9 93.8l1.95 3.9h-3.9zM211.7 93.8l1.95 3.9h-3.9zM219.7 93.8l1.95 3.9h-3.9zM223.5 93.8l1.95 3.9h-3.9zM200.9 89.8l1.95 3.9h-3.9zM204.7 89.8l1.95 3.9h-3.9zM224.1 89.8l1.95 3.9h-3.9zM228.0 89.8l1.95 3.9h-3.9zM205.3 85.8l1.95 3.9h-3.9zM209.2 85.8l1.95 3.9h-3.9zM216.8 85.8l1.95 3.9h-3.9zM220.6 85.8l1.95 3.9h-3.9zM228.6 85.8l1.95 3.9h-3.9zM232.4 85.8l1.95 3.9h-3.9zM209.8 81.8l1.95 3.9h-3.9zM213.6 81.8l1.95 3.9h-3.9zM221.3 81.8l1.95 3.9h-3.9zM225.1 81.8l1.95 3.9h-3.9zM214.3 77.8l1.95 3.9h-3.9zM218.1 77.8l1.95 3.9h-3.9zM225.7 77.8l1.95 3.9h-3.9zM229.6 77.8l1.95 3.9h-3.9zM237.5 77.8l1.95 3.9h-3.9zM241.3 77.8l1.95 3.9h-3.9zM218.7 73.8l1.95 3.9h-3.9zM222.5 73.8l1.95 3.9h-3.9zM230.2 73.8l1.95 3.9h-3.9zM234.0 73.8l1.95 3.9h-3.9zM242.0 73.8l1.95 3.9h-3.9zM245.8 73.8l1.95 3.9h-3.9zM223.2 69.8l1.95 3.9h-3.9zM227.0 69.8l1.95 3.9h-3.9zM234.6 69.8l1.95 3.9h-3.9zM238.5 69.8l1.95 3.9h-3.9zM227.6 65.8l1.95 3.9h-3.9zM231.5 65.8l1.95 3.9h-3.9zM239.1 65.8l1.95 3.9h-3.9zM242.9 65.8l1.95 3.9h-3.9zM232.1 61.8l1.95 3.9h-3.9zM235.9 61.8l1.95 3.9h-3.9zM255.4 61.8l1.95 3.9h-3.9zM259.2 61.8l1.95 3.9h-3.9zM236.6 57.8l1.95 3.9h-3.9zM240.4 57.8l1.95 3.9h-3.9zM248.0 57.8l1.95 3.9h-3.9zM251.8 57.8l1.95 3.9h-3.9zM252.5 53.9l1.95 3.9h-3.9zM256.3 53.9l1.95 3.9h-3.9zM264.3 53.9l1.95 3.9h-3.9zM268.1 53.9l1.95 3.9h-3.9zM245.5 49.9l1.95 3.9h-3.9zM249.3 49.9l1.95 3.9h-3.9zM268.7 49.9l1.95 3.9h-3.9zM272.6 49.9l1.95 3.9h-3.9zM201.8 99.0l1.95 3.9h-3.9zM205.9 99.0l1.95 3.9h-3.9zM210.1 99.0l1.95 3.9h-3.9zM214.2 99.0l1.95 3.9h-3.9zM218.4 99.0l1.95 3.9h-3.9zM222.5 99.0l1.95 3.9h-3.9zM226.6 99.0l1.95 3.9h-3.9zM230.8 99.0l1.95 3.9h-3.9zM234.9 99.0l1.95 3.9h-3.9zM239.1 99.0l1.95 3.9h-3.9zM243.2 99.0l1.95 3.9h-3.9zM248.1 99.0l1.95 3.9h-3.9zM77.5 114.6l1.95 3.9h-3.9zM81.0 114.6l1.95 3.9h-3.9zM84.4 114.6l1.95 3.9h-3.9zM87.9 114.6l1.95 3.9h-3.9zM91.3 114.6l1.95 3.9h-3.9zM101.7 114.6l1.95 3.9h-3.9zM105.1 114.6l1.95 3.9h-3.9zM108.6 114.6l1.95 3.9h-3.9zM112.0 114.6l1.95 3.9h-3.9zM115.5 114.6l1.95 3.9h-3.9zM118.9 114.6l1.95 3.9h-3.9zM122.4 114.6l1.95 3.9h-3.9zM128.0 114.6l1.95 3.9h-3.9zM130.6 114.6l1.95 3.9h-3.9zM133.2 114.6l1.95 3.9h-3.9zM135.8 114.6l1.95 3.9h-3.9zM138.4 114.6l1.95 3.9h-3.9zM141.0 114.6l1.95 3.9h-3.9zM143.6 114.6l1.95 3.9h-3.9zM146.2 114.6l1.95 3.9h-3.9zM148.8 114.6l1.95 3.9h-3.9zM151.4 114.6l1.95 3.9h-3.9zM154.0 114.6l1.95 3.9h-3.9zM156.6 114.6l1.95 3.9h-3.9zM159.2 114.6l1.95 3.9h-3.9zM161.8 114.6l1.95 3.9h-3.9zM164.4 114.6l1.95 3.9h-3.9zM167.0 114.6l1.95 3.9h-3.9zM169.6 114.6l1.95 3.9h-3.9zM172.2 114.6l1.95 3.9h-3.9zM174.8 114.6l1.95 3.9h-3.9zM177.4 114.6l1.95 3.9h-3.9zM180.0 114.6l1.95 3.9h-3.9zM182.6 114.6l1.95 3.9h-3.9zM185.2 114.6l1.95 3.9h-3.9zM187.8 114.6l1.95 3.9h-3.9zM190.4 114.6l1.95 3.9h-3.9zM193.0 114.6l1.95 3.9h-3.9zM195.6 114.6l1.95 3.9h-3.9zM198.2 114.6l1.95 3.9h-3.9zM200.8 114.6l1.95 3.9h-3.9zM203.4 114.6l1.95 3.9h-3.9zM206.0 114.6l1.95 3.9h-3.9zM208.6 114.6l1.95 3.9h-3.9zM211.2 114.6l1.95 3.9h-3.9zM213.8 114.6l1.95 3.9h-3.9zM216.4 114.6l1.95 3.9h-3.9zM219.0 114.6l1.95 3.9h-3.9zM221.6 114.6l1.95 3.9h-3.9zM224.2 114.6l1.95 3.9h-3.9zM226.8 114.6l1.95 3.9h-3.9zM229.4 114.6l1.95 3.9h-3.9zM232.0 114.6l1.95 3.9h-3.9zM234.6 114.6l1.95 3.9h-3.9zM237.2 114.6l1.95 3.9h-3.9zM239.8 114.6l1.95 3.9h-3.9zM242.4 114.6l1.95 3.9h-3.9zM245.0 114.6l1.95 3.9h-3.9zM247.6 114.6l1.95 3.9h-3.9zM250.2 114.6l1.95 3.9h-3.9zM252.8 114.6l1.95 3.9h-3.9zM255.4 114.6l1.95 3.9h-3.9zM258.0 114.6l1.95 3.9h-3.9zM260.6 114.6l1.95 3.9h-3.9zM263.2 114.6l1.95 3.9h-3.9zM265.8 114.6l1.95 3.9h-3.9zM268.4 114.6l1.95 3.9h-3.9zM271.0 114.6l1.95 3.9h-3.9zM273.6 114.6l1.95 3.9h-3.9zM276.2 114.6l1.95 3.9h-3.9zM278.8 114.6l1.95 3.9h-3.9zM281.4 114.6l1.95 3.9h-3.9zM284.0 114.6l1.95 3.9h-3.9zM286.6 114.6l1.95 3.9h-3.9zM289.2 114.6l1.95 3.9h-3.9zM291.8 114.6l1.95 3.9h-3.9zM294.4 114.6l1.95 3.9h-3.9zM297.0 114.6l1.95 3.9h-3.9zM299.6 114.6l1.95 3.9h-3.9zM302.2 114.6l1.95 3.9h-3.9zM304.8 114.6l1.95 3.9h-3.9zM307.4 114.6l1.95 3.9h-3.9zM310.0 114.6l1.95 3.9h-3.9zM312.6 114.6l1.95 3.9h-3.9zM315.2 114.6l1.95 3.9h-3.9zM317.8 114.6l1.95 3.9h-3.9zM76.0 117.8l1.95 3.9h-3.9zM79.5 117.8l1.95 3.9h-3.9zM90.0 117.8l1.95 3.9h-3.9zM93.5 117.8l1.95 3.9h-3.9zM104.0 117.8l1.95 3.9h-3.9zM107.5 117.8l1.95 3.9h-3.9zM111.0 117.8l1.95 3.9h-3.9zM114.5 117.8l1.95 3.9h-3.9zM118.0 117.8l1.95 3.9h-3.9zM121.5 117.8l1.95 3.9h-3.9zM125.0 117.8l1.95 3.9h-3.9zM128.5 117.8l1.95 3.9h-3.9zM131.3 117.8l1.95 3.9h-3.9zM134.1 117.8l1.95 3.9h-3.9zM136.9 117.8l1.95 3.9h-3.9zM139.7 117.8l1.95 3.9h-3.9zM142.5 117.8l1.95 3.9h-3.9zM145.3 117.8l1.95 3.9h-3.9zM148.1 117.8l1.95 3.9h-3.9zM150.9 117.8l1.95 3.9h-3.9zM153.7 117.8l1.95 3.9h-3.9zM156.5 117.8l1.95 3.9h-3.9zM159.3 117.8l1.95 3.9h-3.9zM162.1 117.8l1.95 3.9h-3.9zM164.9 117.8l1.95 3.9h-3.9zM167.7 117.8l1.95 3.9h-3.9zM170.5 117.8l1.95 3.9h-3.9zM173.3 117.8l1.95 3.9h-3.9zM176.1 117.8l1.95 3.9h-3.9zM178.9 117.8l1.95 3.9h-3.9zM181.7 117.8l1.95 3.9h-3.9zM184.5 117.8l1.95 3.9h-3.9zM187.3 117.8l1.95 3.9h-3.9zM190.1 117.8l1.95 3.9h-3.9zM192.9 117.8l1.95 3.9h-3.9zM195.7 117.8l1.95 3.9h-3.9zM198.5 117.8l1.95 3.9h-3.9zM201.3 117.8l1.95 3.9h-3.9zM204.1 117.8l1.95 3.9h-3.9zM206.9 117.8l1.95 3.9h-3.9zM209.7 117.8l1.95 3.9h-3.9zM212.5 117.8l1.95 3.9h-3.9zM215.3 117.8l1.95 3.9h-3.9zM218.1 117.8l1.95 3.9h-3.9zM220.9 117.8l1.95 3.9h-3.9zM223.7 117.8l1.95 3.9h-3.9zM226.5 117.8l1.95 3.9h-3.9zM229.3 117.8l1.95 3.9h-3.9zM232.1 117.8l1.95 3.9h-3.9zM234.9 117.8l1.95 3.9h-3.9zM237.7 117.8l1.95 3.9h-3.9zM240.5 117.8l1.95 3.9h-3.9zM243.3 117.8l1.95 3.9h-3.9zM246.1 117.8l1.95 3.9h-3.9zM248.9 117.8l1.95 3.9h-3.9zM251.7 117.8l1.95 3.9h-3.9zM254.5 117.8l1.95 3.9h-3.9zM257.3 117.8l1.95 3.9h-3.9zM260.1 117.8l1.95 3.9h-3.9zM262.9 117.8l1.95 3.9h-3.9zM265.7 117.8l1.95 3.9h-3.9zM268.5 117.8l1.95 3.9h-3.9zM271.3 117.8l1.95 3.9h-3.9zM274.1 117.8l1.95 3.9h-3.9zM276.9 117.8l1.95 3.9h-3.9zM279.7 117.8l1.95 3.9h-3.9zM282.5 117.8l1.95 3.9h-3.9zM285.3 117.8l1.95 3.9h-3.9zM288.1 117.8l1.95 3.9h-3.9zM290.9 117.8l1.95 3.9h-3.9zM293.7 117.8l1.95 3.9h-3.9zM296.5 117.8l1.95 3.9h-3.9zM299.3 117.8l1.95 3.9h-3.9zM302.1 117.8l1.95 3.9h-3.9zM304.9 117.8l1.95 3.9h-3.9zM307.7 117.8l1.95 3.9h-3.9zM310.5 117.8l1.95 3.9h-3.9zM313.3 117.8l1.95 3.9h-3.9zM316.1 117.8l1.95 3.9h-3.9zM318.9 117.8l1.95 3.9h-3.9zM63.2 114.6l1.95 3.9h-3.9zM70.2 114.6l1.95 3.9h-3.9zM134.7 120.6l1.95 3.9h-3.9zM137.1 120.6l1.95 3.9h-3.9zM139.3 120.6l1.95 3.9h-3.9zM142.7 120.6l1.95 3.9h-3.9zM144.8 120.6l1.95 3.9h-3.9zM147.4 120.6l1.95 3.9h-3.9zM149.5 120.6l1.95 3.9h-3.9zM151.3 120.6l1.95 3.9h-3.9zM154.0 120.6l1.95 3.9h-3.9zM156.6 120.6l1.95 3.9h-3.9zM158.6 120.6l1.95 3.9h-3.9zM161.9 120.6l1.95 3.9h-3.9zM163.7 120.6l1.95 3.9h-3.9zM165.9 120.6l1.95 3.9h-3.9zM168.9 120.6l1.95 3.9h-3.9zM170.6 120.6l1.95 3.9h-3.9zM173.8 120.6l1.95 3.9h-3.9zM175.8 120.6l1.95 3.9h-3.9zM178.3 120.6l1.95 3.9h-3.9zM180.4 120.6l1.95 3.9h-3.9zM183.0 120.6l1.95 3.9h-3.9zM185.1 120.6l1.95 3.9h-3.9zM187.3 120.6l1.95 3.9h-3.9zM190.6 120.6l1.95 3.9h-3.9zM192.3 120.6l1.95 3.9h-3.9zM195.3 120.6l1.95 3.9h-3.9zM197.1 120.6l1.95 3.9h-3.9zM200.3 120.6l1.95 3.9h-3.9zM202.6 120.6l1.95 3.9h-3.9zM204.9 120.6l1.95 3.9h-3.9zM207.3 120.6l1.95 3.9h-3.9zM209.5 120.6l1.95 3.9h-3.9zM212.0 120.6l1.95 3.9h-3.9zM213.8 120.6l1.95 3.9h-3.9zM191.2 89.5l1.95 3.9h-3.9zM199.1 89.9l1.95 3.9h-3.9zM205.6 89.6l1.95 3.9h-3.9zM210.9 89.6l1.95 3.9h-3.9zM215.1 89.3l1.95 3.9h-3.9zM221.4 89.2l1.95 3.9h-3.9zM225.2 90.0l1.95 3.9h-3.9zM229.1 90.2l1.95 3.9h-3.9zM235.4 90.3l1.95 3.9h-3.9zM243.4 90.2l1.95 3.9h-3.9zM247.9 90.0l1.95 3.9h-3.9zM175.1 93.2l1.95 3.9h-3.9zM178.8 93.3l1.95 3.9h-3.9zM189.1 94.3l1.95 3.9h-3.9zM197.4 94.0l1.95 3.9h-3.9zM201.9 93.7l1.95 3.9h-3.9zM207.1 93.2l1.95 3.9h-3.9zM212.2 94.3l1.95 3.9h-3.9zM215.2 94.1l1.95 3.9h-3.9zM219.2 94.3l1.95 3.9h-3.9zM223.9 92.9l1.95 3.9h-3.9zM227.0 94.1l1.95 3.9h-3.9zM232.2 93.3l1.95 3.9h-3.9zM235.8 93.0l1.95 3.9h-3.9zM244.9 94.1l1.95 3.9h-3.9zM251.7 94.0l1.95 3.9h-3.9zM166.0 97.8l1.95 3.9h-3.9zM168.2 98.7l1.95 3.9h-3.9zM171.9 98.8l1.95 3.9h-3.9zM174.7 98.4l1.95 3.9h-3.9zM179.9 98.1l1.95 3.9h-3.9zM184.0 98.8l1.95 3.9h-3.9zM187.7 97.4l1.95 3.9h-3.9zM190.3 98.5l1.95 3.9h-3.9zM192.7 98.3l1.95 3.9h-3.9zM197.0 97.9l1.95 3.9h-3.9zM200.2 97.6l1.95 3.9h-3.9zM208.5 97.9l1.95 3.9h-3.9zM213.4 97.4l1.95 3.9h-3.9zM216.8 98.7l1.95 3.9h-3.9zM221.3 98.3l1.95 3.9h-3.9zM225.8 97.6l1.95 3.9h-3.9zM230.4 98.6l1.95 3.9h-3.9zM237.4 97.9l1.95 3.9h-3.9zM240.1 97.7l1.95 3.9h-3.9zM250.0 98.4l1.95 3.9h-3.9zM252.6 98.3l1.95 3.9h-3.9zM259.6 97.5l1.95 3.9h-3.9zM156.5 100.9l1.95 3.9h-3.9zM162.5 101.2l1.95 3.9h-3.9zM166.3 100.7l1.95 3.9h-3.9zM181.5 101.2l1.95 3.9h-3.9zM186.5 101.1l1.95 3.9h-3.9zM190.6 101.7l1.95 3.9h-3.9zM195.3 101.6l1.95 3.9h-3.9zM198.9 100.9l1.95 3.9h-3.9zM204.6 101.6l1.95 3.9h-3.9zM212.3 101.7l1.95 3.9h-3.9zM222.3 101.2l1.95 3.9h-3.9zM227.1 100.8l1.95 3.9h-3.9zM230.1 101.3l1.95 3.9h-3.9zM235.3 101.1l1.95 3.9h-3.9zM240.6 100.3l1.95 3.9h-3.9zM244.5 101.3l1.95 3.9h-3.9zM248.5 101.1l1.95 3.9h-3.9zM252.4 101.1l1.95 3.9h-3.9zM258.9 101.1l1.95 3.9h-3.9zM155.2 104.5l1.95 3.9h-3.9zM159.2 104.5l1.95 3.9h-3.9zM165.3 104.8l1.95 3.9h-3.9zM176.4 104.2l1.95 3.9h-3.9zM180.3 104.7l1.95 3.9h-3.9zM200.5 103.5l1.95 3.9h-3.9zM207.6 103.9l1.95 3.9h-3.9zM212.8 103.6l1.95 3.9h-3.9zM223.3 103.9l1.95 3.9h-3.9zM232.3 103.9l1.95 3.9h-3.9zM236.0 104.1l1.95 3.9h-3.9zM240.8 104.2l1.95 3.9h-3.9zM252.5 104.3l1.95 3.9h-3.9zM258.2 103.6l1.95 3.9h-3.9zM264.8 103.8l1.95 3.9h-3.9zM144.7 108.3l1.95 3.9h-3.9zM149.5 108.5l1.95 3.9h-3.9zM152.9 108.5l1.95 3.9h-3.9zM157.8 108.7l1.95 3.9h-3.9zM160.3 107.5l1.95 3.9h-3.9zM164.9 107.7l1.95 3.9h-3.9zM167.8 108.4l1.95 3.9h-3.9zM170.7 108.3l1.95 3.9h-3.9zM173.8 107.3l1.95 3.9h-3.9zM178.1 108.7l1.95 3.9h-3.9zM183.2 108.2l1.95 3.9h-3.9zM187.2 107.8l1.95 3.9h-3.9zM190.4 107.8l1.95 3.9h-3.9zM194.9 108.1l1.95 3.9h-3.9zM200.8 107.6l1.95 3.9h-3.9zM204.2 108.0l1.95 3.9h-3.9zM210.8 107.3l1.95 3.9h-3.9zM214.6 108.6l1.95 3.9h-3.9zM217.6 107.4l1.95 3.9h-3.9zM224.3 107.4l1.95 3.9h-3.9zM226.8 107.6l1.95 3.9h-3.9zM234.5 107.7l1.95 3.9h-3.9zM245.5 108.5l1.95 3.9h-3.9zM249.6 107.4l1.95 3.9h-3.9zM257.5 107.8l1.95 3.9h-3.9zM262.0 108.5l1.95 3.9h-3.9zM264.3 107.8l1.95 3.9h-3.9zM271.8 108.3l1.95 3.9h-3.9zM275.9 108.6l1.95 3.9h-3.9zM280.0 108.0l1.95 3.9h-3.9zM137.5 110.7l1.95 3.9h-3.9zM142.0 110.9l1.95 3.9h-3.9zM144.3 111.6l1.95 3.9h-3.9zM148.1 111.3l1.95 3.9h-3.9zM156.5 111.2l1.95 3.9h-3.9zM161.9 110.8l1.95 3.9h-3.9zM170.8 111.3l1.95 3.9h-3.9zM183.9 110.5l1.95 3.9h-3.9zM186.7 110.7l1.95 3.9h-3.9zM192.4 111.5l1.95 3.9h-3.9zM215.4 110.7l1.95 3.9h-3.9zM217.8 110.3l1.95 3.9h-3.9zM222.0 110.3l1.95 3.9h-3.9zM226.2 110.7l1.95 3.9h-3.9zM234.6 110.4l1.95 3.9h-3.9zM246.3 111.4l1.95 3.9h-3.9zM251.5 111.7l1.95 3.9h-3.9zM256.1 110.7l1.95 3.9h-3.9zM260.2 110.5l1.95 3.9h-3.9zM263.5 111.5l1.95 3.9h-3.9zM267.7 111.6l1.95 3.9h-3.9zM272.2 111.5l1.95 3.9h-3.9zM279.2 110.9l1.95 3.9h-3.9zM131.2 123.1l1.95 3.9h-3.9zM137.5 123.2l1.95 3.9h-3.9zM141.4 122.0l1.95 3.9h-3.9zM160.6 123.0l1.95 3.9h-3.9zM165.7 122.0l1.95 3.9h-3.9zM169.8 123.3l1.95 3.9h-3.9zM176.0 122.3l1.95 3.9h-3.9zM180.3 122.9l1.95 3.9h-3.9zM184.2 122.1l1.95 3.9h-3.9zM189.9 122.2l1.95 3.9h-3.9zM193.5 122.6l1.95 3.9h-3.9zM196.7 122.1l1.95 3.9h-3.9zM201.5 122.8l1.95 3.9h-3.9zM209.9 122.9l1.95 3.9h-3.9zM222.9 122.6l1.95 3.9h-3.9zM227.7 122.2l1.95 3.9h-3.9zM232.3 122.1l1.95 3.9h-3.9zM239.7 122.2l1.95 3.9h-3.9zM245.8 122.9l1.95 3.9h-3.9zM250.7 123.0l1.95 3.9h-3.9zM253.4 122.8l1.95 3.9h-3.9zM258.5 122.4l1.95 3.9h-3.9zM260.9 122.1l1.95 3.9h-3.9zM143.1 124.8l1.95 3.9h-3.9zM146.4 125.4l1.95 3.9h-3.9zM150.8 125.1l1.95 3.9h-3.9zM154.3 125.1l1.95 3.9h-3.9zM159.3 125.9l1.95 3.9h-3.9zM165.0 126.1l1.95 3.9h-3.9zM173.5 126.1l1.95 3.9h-3.9zM177.6 125.0l1.95 3.9h-3.9zM182.9 125.4l1.95 3.9h-3.9zM189.1 125.1l1.95 3.9h-3.9zM192.9 125.3l1.95 3.9h-3.9zM197.3 125.6l1.95 3.9h-3.9zM201.8 125.9l1.95 3.9h-3.9zM212.3 125.3l1.95 3.9h-3.9zM216.7 125.4l1.95 3.9h-3.9zM233.3 124.8l1.95 3.9h-3.9zM242.1 126.0l1.95 3.9h-3.9zM257.6 126.2l1.95 3.9h-3.9zM261.1 126.0l1.95 3.9h-3.9zM146.3 129.5l1.95 3.9h-3.9zM152.8 129.6l1.95 3.9h-3.9zM156.4 129.3l1.95 3.9h-3.9zM161.4 128.4l1.95 3.9h-3.9zM166.9 128.9l1.95 3.9h-3.9zM177.4 128.7l1.95 3.9h-3.9zM187.8 128.5l1.95 3.9h-3.9zM192.7 128.1l1.95 3.9h-3.9zM198.0 129.0l1.95 3.9h-3.9zM203.3 129.0l1.95 3.9h-3.9zM215.1 128.4l1.95 3.9h-3.9zM219.2 128.6l1.95 3.9h-3.9zM223.6 128.9l1.95 3.9h-3.9zM233.2 129.2l1.95 3.9h-3.9zM244.5 128.1l1.95 3.9h-3.9zM155.4 131.8l1.95 3.9h-3.9zM166.3 133.3l1.95 3.9h-3.9zM171.0 133.0l1.95 3.9h-3.9zM176.0 132.2l1.95 3.9h-3.9zM181.5 132.1l1.95 3.9h-3.9zM186.5 132.5l1.95 3.9h-3.9zM193.7 132.0l1.95 3.9h-3.9zM198.2 133.2l1.95 3.9h-3.9zM202.2 132.8l1.95 3.9h-3.9zM209.6 132.8l1.95 3.9h-3.9zM220.7 132.0l1.95 3.9h-3.9zM225.9 132.2l1.95 3.9h-3.9zM230.8 132.0l1.95 3.9h-3.9zM237.0 133.2l1.95 3.9h-3.9zM163.6 135.9l1.95 3.9h-3.9zM170.0 135.3l1.95 3.9h-3.9zM177.9 135.5l1.95 3.9h-3.9zM184.6 136.6l1.95 3.9h-3.9zM191.4 135.5l1.95 3.9h-3.9zM198.4 136.0l1.95 3.9h-3.9zM214.3 135.7l1.95 3.9h-3.9zM218.1 136.3l1.95 3.9h-3.9zM223.4 135.8l1.95 3.9h-3.9zM164.6 142.7l1.95 3.9h-3.9zM142.6 150.4l1.95 3.9h-3.9zM177.7 145.3l1.95 3.9h-3.9zM140.8 153.2l1.95 3.9h-3.9zM161.1 145.3l1.95 3.9h-3.9zM193.3 140.7l1.95 3.9h-3.9zM151.5 141.4l1.95 3.9h-3.9zM149.7 154.3l1.95 3.9h-3.9zM142.1 134.4l1.95 3.9h-3.9zM120.1 140.4l1.95 3.9h-3.9zM170.3 143.9l1.95 3.9h-3.9zM188.2 138.3l1.95 3.9h-3.9zM148.9 153.8l1.95 3.9h-3.9zM131.7 146.2l1.95 3.9h-3.9zM248.9 126.8l1.95 3.9h-3.9zM132.6 133.9l1.95 3.9h-3.9zM155.2 152.8l1.95 3.9h-3.9zM151.2 128.9l1.95 3.9h-3.9zM139.7 132.6l1.95 3.9h-3.9zM188.3 125.2l1.95 3.9h-3.9zM150.5 134.5l1.95 3.9h-3.9zM122.9 130.8l1.95 3.9h-3.9zM237.2 126.1l1.95 3.9h-3.9zM155.4 148.2l1.95 3.9h-3.9zM128.6 128.9l1.95 3.9h-3.9zM150.7 128.8l1.95 3.9h-3.9zM148.0 126.8l1.95 3.9h-3.9zM132.2 131.3l1.95 3.9h-3.9zM151.3 145.3l1.95 3.9h-3.9zM144.6 139.7l1.95 3.9h-3.9zM177.1 141.8l1.95 3.9h-3.9zM118.0 134.6l1.95 3.9h-3.9zM146.4 140.0l1.95 3.9h-3.9zM134.8 149.2l1.95 3.9h-3.9zM134.9 152.1l1.95 3.9h-3.9zM151.3 141.9l1.95 3.9h-3.9zM199.5 134.8l1.95 3.9h-3.9zM134.9 146.8l1.95 3.9h-3.9zM165.3 140.4l1.95 3.9h-3.9zM121.3 126.1l1.95 3.9h-3.9zM170.1 143.7l1.95 3.9h-3.9zM150.0 139.4l1.95 3.9h-3.9zM137.0 140.8l1.95 3.9h-3.9zM162.9 152.2l1.95 3.9h-3.9zM116.8 140.0l1.95 3.9h-3.9zM186.0 137.4l1.95 3.9h-3.9zM121.5 135.1l1.95 3.9h-3.9zM194.1 130.8l1.95 3.9h-3.9zM140.6 144.3l1.95 3.9h-3.9zM171.2 144.4l1.95 3.9h-3.9zM151.4 155.0l1.95 3.9h-3.9zM184.5 138.5l1.95 3.9h-3.9zM155.7 153.7l1.95 3.9h-3.9zM156.6 148.3l1.95 3.9h-3.9zM183.6 140.9l1.95 3.9h-3.9zM168.5 144.4l1.95 3.9h-3.9zM120.4 132.1l1.95 3.9h-3.9zM171.0 133.4l1.95 3.9h-3.9zM133.7 142.8l1.95 3.9h-3.9zM221.8 130.9l1.95 3.9h-3.9zM238.7 127.3l1.95 3.9h-3.9zM155.5 149.0l1.95 3.9h-3.9zM147.3 155.9l1.95 3.9h-3.9zM251.5 125.3l1.95 3.9h-3.9zM195.4 137.9l1.95 3.9h-3.9zM137.0 150.3l1.95 3.9h-3.9zM111.5 126.3l1.95 3.9h-3.9zM164.9 149.2l1.95 3.9h-3.9zM122.7 132.1l1.95 3.9h-3.9zM187.5 136.4l1.95 3.9h-3.9z" fill="#8da0cb" clip-path="url(#cl)"/>
<path d="M391.2 141.2h0M398.6 141.2h0M404.2 141.2h0M408.0 141.2h0M411.7 141.2h0M415.4 141.2h0M419.1 141.2h0M422.8 141.2h0M426.6 141.2h0M430.3 141.2h0M434.4 141.2h0M438.1 141.2h0M441.8 141.2h0M445.5 141.2h0M449.5 141.2h0M451.4 141.2h0M453.0 141.2h0M461.5 129.4h0M468.3 129.1h0M474.4 128.7h0M480.0 128.8h0M487.3 128.8h0M493.2 129.6h0M499.1 129.7h0M505.9 129.0h0M511.1 129.0h0M517.4 129.3h0M523.8 129.2h0M529.6 128.9h0M536.3 129.0h0M542.5 129.0h0M549.1 128.9h0M555.0 129.6h0M560.9 129.7h0M567.3 129.5h0M573.6 128.7h0M580.2 129.3h0M585.7 129.4h0M592.3 129.2h0M599.0 129.2h0M604.0 129.4h0M611.5 129.5h0M616.8 129.4h0M471.0 134.1h0M476.7 134.7h0M483.1 134.3h0M489.1 134.3h0M496.4 134.7h0M501.8 134.3h0M508.8 134.9h0M514.0 134.1h0M520.7 134.5h0M526.2 134.3h0M533.2 134.9h0M539.3 134.5h0M544.9 134.8h0M552.2 134.7h0M557.8 134.0h0M563.5 134.0h0M569.8 134.2h0M575.8 134.1h0M582.5 133.9h0M589.1 134.0h0M594.9 134.3h0M601.8 134.9h0M607.5 134.0h0M457.8 139.4h0M463.7 139.1h0M476.1 139.6h0M482.8 140.1h0M489.3 139.4h0M494.7 139.9h0M501.8 139.4h0M508.0 140.1h0M514.2 139.9h0M519.6 139.6h0M525.5 139.1h0M532.1 139.8h0M545.4 140.1h0M556.8 139.3h0M563.0 139.7h0M575.8 139.8h0M581.4 139.8h0M594.8 139.6h0M601.0 139.4h0M607.5 139.5h0M463.7 145.0h0M468.8 144.5h0M481.2 145.1h0M493.9 144.8h0M499.6 145.3h0M506.5 145.2h0M513.2 145.1h0M518.6 144.6h0M525.2 144.6h0M530.8 145.2h0M537.4 144.9h0M550.5 144.8h0M556.1 144.3h0M561.9 144.3h0M568.0 144.8h0M574.8 144.6h0M581.0 145.1h0M587.2 144.5h0M593.7 144.8h0M599.9 145.2h0M605.9 144.8h0M612.2 144.8h0M461.0 148.5h0M467.4 148.5h0M472.9 148.5h0M478.2 147.7h0M484.0 147.8h0M490.7 148.4h0M495.9 148.3h0M501.8 148.5h0M514.7 148.0h0M520.7 148.4h0M525.8 148.1h0M531.4 147.9h0M537.0 148.2h0M542.9 147.9h0M549.5 147.7h0M562.0 147.7h0M566.6 148.4h0M572.6 148.0h0M584.6 147.7h0M597.0 147.7h0M602.9 148.0h0M609.1 148.2h0M452.4 156.6h0M459.5 156.2h0M465.1 156.6h0M470.5 156.2h0M476.5 155.9h0M482.6 156.0h0M489.4 156.0h0M494.5 156.0h0M500.7 155.7h0M507.1 155.9h0M513.6 155.8h0M518.9 156.2h0M524.9 156.2h0M531.7 156.0h0M537.3 156.3h0M542.8 155.8h0M548.4 156.4h0M554.5 155.8h0M561.5 156.4h0M566.6 156.0h0M572.5 156.1h0M579.6 156.7h0M584.6 156.7h0M590.8 155.7h0M597.0 156.2h0M590.0 140.8h0M593.1 140.8h0M596.2 140.8h0M599.3 140.8h0M602.4 140.8h0M605.5 140.8h0M608.6 140.8h0M611.7 140.8h0M614.8 140.8h0M617.9 140.8h0M621.0 140.8h0M624.1 140.8h0M627.2 140.8h0M630.3 140.8h0M633.4 140.8h0M636.5 140.8h0M639.6 140.8h0M642.7 140.8h0M645.8 140.8h0M630.0 129.5h0M641.7 129.5h0M654.0 129.5h0M653.0 140.8h0M498.0 108.6h0M504.7 108.6h0M511.5 108.6h0M518.0 108.6h0M527.4 108.6h0M586.8 110.2h0M593.0 110.2h0M600.8 110.2h0M606.0 110.2h0M612.8 110.2h0M618.2 110.2h0M625.0 110.2h0M630.3 110.2h0M637.0 110.2h0M531.0 116.0h0M566.0 116.0h0M581.0 116.0h0M487.3 120.6h0M493.0 120.6h0M499.0 120.6h0M542.2 66.7h0M554.7 66.7h0M566.2 66.7h0M626.2 66.8h0M662.1 66.8h0M618.7 77.2h0M514.7 95.1h0M526.9 95.1h0M639.8 91.6h0M647.3 95.0h0M632.0 95.0h0M516.0 94.8h0M527.7 94.8h0M450.1 129.6h0M462.2 129.6h0M661.4 210.9h0M658.9 212.6h0M590.0 85.0h0M600.0 92.0h0M612.0 100.0h0M578.0 100.0h0M560.0 104.0h0M595.0 78.0h0M605.0 70.0h0M641.0 80.0h0M652.0 88.0h0M572.0 110.0h0M548.0 110.0h0M620.0 105.0h0" stroke="#66c2a5" stroke-width="3.5" stroke-linecap="round" fill="none" clip-path="url(#cr)"/>
<path d="M489.7 123.0l1.95 -3.9h-3.9zM497.0 123.0l1.95 -3.9h-3.9zM504.0 123.0l1.95 -3.9h-3.9zM511.0 123.0l1.95 -3.9h-3.9zM518.0 123.0l1.95 -3.9h-3.9zM526.0 123.0l1.95 -3.9h-3.9zM533.0 123.0l1.95 -3.9h-3.9zM546.0 123.0l1.95 -3.9h-3.9zM556.0 123.0l1.95 -3.9h-3.9zM566.0 123.0l1.95 -3.9h-3.9zM576.0 123.0l1.95 -3.9h-3.9zM586.0 123.0l1.95 -3.9h-3.9zM605.5 123.0l1.95 -3.9h-3.9zM609.6 123.0l1.95 -3.9h-3.9zM612.7 123.0l1.95 -3.9h-3.9zM619.0 123.0l1.95 -3.9h-3.9zM624.0 123.0l1.95 -3.9h-3.9zM628.0 123.0l1.95 -3.9h-3.9zM649.0 123.0l1.95 -3.9h-3.9zM552.3 85.5l1.95 -3.9h-3.9zM546.5 93.3l1.95 -3.9h-3.9zM539.3 99.0l1.95 -3.9h-3.9zM626.2 66.8l1.95 -3.9h-3.9zM637.0 66.3l1.95 -3.9h-3.9zM649.7 66.3l1.95 -3.9h-3.9zM665.9 66.3l1.95 -3.9h-3.9zM617.5 85.4l1.95 -3.9h-3.9zM631.0 86.1l1.95 -3.9h-3.9zM647.3 86.1l1.95 -3.9h-3.9zM664.6 93.5l1.95 -3.9h-3.9zM633.6 99.0l1.95 -3.9h-3.9zM571.0 65.3l1.95 -3.9h-3.9zM597.0 65.3l1.95 -3.9h-3.9zM625.0 65.3l1.95 -3.9h-3.9zM636.0 65.3l1.95 -3.9h-3.9zM648.0 65.3l1.95 -3.9h-3.9zM662.0 65.3l1.95 -3.9h-3.9z" fill="#fc8d62" clip-path="url(#cr)"/>
<path d="M560.2 128.9l1.95 3.9h-3.9zM545.2 128.9l1.95 3.9h-3.9zM563.3 125.7l1.95 3.9h-3.9zM548.3 125.7l1.95 3.9h-3.9zM566.4 122.5l1.95 3.9h-3.9zM551.4 122.5l1.95 3.9h-3.9zM569.5 119.3l1.95 3.9h-3.9zM554.5 119.3l1.95 3.9h-3.9zM572.6 116.1l1.95 3.9h-3.9zM557.6 116.1l1.95 3.9h-3.9zM575.7 112.9l1.95 3.9h-3.9zM560.7 112.9l1.95 3.9h-3.9zM578.8 109.7l1.95 3.9h-3.9zM563.8 109.7l1.95 3.9h-3.9zM581.9 106.5l1.95 3.9h-3.9zM566.9 106.5l1.95 3.9h-3.9zM585.0 103.3l1.95 3.9h-3.9zM570.0 103.3l1.95 3.9h-3.9zM588.2 100.1l1.95 3.9h-3.9zM573.1 100.1l1.95 3.9h-3.9zM591.3 96.9l1.95 3.9h-3.9zM576.3 96.9l1.95 3.9h-3.9zM594.4 93.7l1.95 3.9h-3.9zM579.4 93.7l1.95 3.9h-3.9zM597.5 90.5l1.95 3.9h-3.9zM582.5 90.5l1.95 3.9h-3.9zM600.6 87.2l1.95 3.9h-3.9zM585.6 87.2l1.95 3.9h-3.9zM603.7 84.0l1.95 3.9h-3.9zM588.7 84.0l1.95 3.9h-3.9zM606.8 80.8l1.95 3.9h-3.9zM591.8 80.8l1.95 3.9h-3.9zM609.9 77.6l1.95 3.9h-3.9zM594.9 77.6l1.95 3.9h-3.9zM613.0 74.4l1.95 3.9h-3.9zM598.0 74.4l1.95 3.9h-3.9zM616.1 71.2l1.95 3.9h-3.9zM601.1 71.2l1.95 3.9h-3.9zM619.2 68.0l1.95 3.9h-3.9zM604.2 68.0l1.95 3.9h-3.9zM622.4 64.8l1.95 3.9h-3.9zM607.4 64.8l1.95 3.9h-3.9zM625.5 61.6l1.95 3.9h-3.9zM610.5 61.6l1.95 3.9h-3.9zM628.6 58.4l1.95 3.9h-3.9zM613.6 58.4l1.95 3.9h-3.9zM631.7 55.2l1.95 3.9h-3.9zM616.7 55.2l1.95 3.9h-3.9zM634.8 52.0l1.95 3.9h-3.9zM619.8 52.0l1.95 3.9h-3.9zM637.9 48.8l1.95 3.9h-3.9zM622.9 48.8l1.95 3.9h-3.9zM641.0 45.6l1.95 3.9h-3.9zM626.0 45.6l1.95 3.9h-3.9zM644.1 42.4l1.95 3.9h-3.9zM629.1 42.4l1.95 3.9h-3.9zM576.3 127.7l1.95 3.9h-3.9zM531.3 127.7l1.95 3.9h-3.9zM579.5 124.5l1.95 3.9h-3.9zM534.4 124.5l1.95 3.9h-3.9zM582.6 121.3l1.95 3.9h-3.9zM537.6 121.3l1.95 3.9h-3.9zM585.7 118.1l1.95 3.9h-3.9zM540.7 118.1l1.95 3.9h-3.9zM588.8 114.9l1.95 3.9h-3.9zM543.8 114.9l1.95 3.9h-3.9zM591.9 111.7l1.95 3.9h-3.9zM546.9 111.7l1.95 3.9h-3.9zM595.0 108.5l1.95 3.9h-3.9zM550.0 108.5l1.95 3.9h-3.9zM598.1 105.3l1.95 3.9h-3.9zM553.1 105.3l1.95 3.9h-3.9zM601.2 102.1l1.95 3.9h-3.9zM556.2 102.1l1.95 3.9h-3.9zM604.3 98.9l1.95 3.9h-3.9zM559.3 98.9l1.95 3.9h-3.9zM607.4 95.6l1.95 3.9h-3.9zM562.4 95.6l1.95 3.9h-3.9zM610.6 92.4l1.95 3.9h-3.9zM565.5 92.4l1.95 3.9h-3.9zM613.7 89.2l1.95 3.9h-3.9zM568.6 89.2l1.95 3.9h-3.9zM616.8 86.0l1.95 3.9h-3.9zM571.8 86.0l1.95 3.9h-3.9zM619.9 82.8l1.95 3.9h-3.9zM574.9 82.8l1.95 3.9h-3.9zM623.0 79.6l1.95 3.9h-3.9zM578.0 79.6l1.95 3.9h-3.9zM626.1 76.4l1.95 3.9h-3.9zM581.1 76.4l1.95 3.9h-3.9zM629.2 73.2l1.95 3.9h-3.9zM584.2 73.2l1.95 3.9h-3.9zM632.3 70.0l1.95 3.9h-3.9zM587.3 70.0l1.95 3.9h-3.9zM635.4 66.8l1.95 3.9h-3.9zM590.4 66.8l1.95 3.9h-3.9zM638.5 63.6l1.95 3.9h-3.9zM593.5 63.6l1.95 3.9h-3.9zM641.6 60.4l1.95 3.9h-3.9zM596.6 60.4l1.95 3.9h-3.9zM644.8 57.2l1.95 3.9h-3.9zM599.7 57.2l1.95 3.9h-3.9zM647.9 54.0l1.95 3.9h-3.9zM602.9 54.0l1.95 3.9h-3.9zM651.0 50.8l1.95 3.9h-3.9zM606.0 50.8l1.95 3.9h-3.9zM654.1 47.6l1.95 3.9h-3.9zM609.1 47.6l1.95 3.9h-3.9zM657.2 44.4l1.95 3.9h-3.9zM612.2 44.4l1.95 3.9h-3.9zM591.3 127.7l1.95 3.9h-3.9zM516.3 127.7l1.95 3.9h-3.9zM594.5 124.5l1.95 3.9h-3.9zM519.4 124.5l1.95 3.9h-3.9zM597.6 121.3l1.95 3.9h-3.9zM522.5 121.3l1.95 3.9h-3.9zM600.7 118.1l1.95 3.9h-3.9zM525.7 118.1l1.95 3.9h-3.9zM603.8 114.9l1.95 3.9h-3.9zM528.8 114.9l1.95 3.9h-3.9zM606.9 111.7l1.95 3.9h-3.9zM531.9 111.7l1.95 3.9h-3.9zM610.0 108.5l1.95 3.9h-3.9zM535.0 108.5l1.95 3.9h-3.9zM613.1 105.3l1.95 3.9h-3.9zM538.1 105.3l1.95 3.9h-3.9zM616.2 102.1l1.95 3.9h-3.9zM541.2 102.1l1.95 3.9h-3.9zM619.3 98.9l1.95 3.9h-3.9zM544.3 98.9l1.95 3.9h-3.9zM622.4 95.7l1.95 3.9h-3.9zM547.4 95.7l1.95 3.9h-3.9zM625.6 92.4l1.95 3.9h-3.9zM550.5 92.4l1.95 3.9h-3.9zM628.7 89.2l1.95 3.9h-3.9zM553.6 89.2l1.95 3.9h-3.9zM631.8 86.0l1.95 3.9h-3.9zM556.7 86.0l1.95 3.9h-3.9zM634.9 82.8l1.95 3.9h-3.9zM559.9 82.8l1.95 3.9h-3.9zM638.0 79.6l1.95 3.9h-3.9zM563.0 79.6l1.95 3.9h-3.9zM641.1 76.4l1.95 3.9h-3.9zM566.1 76.4l1.95 3.9h-3.9zM644.2 73.2l1.95 3.9h-3.9zM569.2 73.2l1.95 3.9h-3.9zM647.3 70.0l1.95 3.9h-3.9zM572.3 70.0l1.95 3.9h-3.9zM650.4 66.8l1.95 3.9h-3.9zM575.4 66.8l1.95 3.9h-3.9zM653.5 63.6l1.95 3.9h-3.9zM578.5 63.6l1.95 3.9h-3.9zM656.6 60.4l1.95 3.9h-3.9zM581.6 60.4l1.95 3.9h-3.9zM659.8 57.2l1.95 3.9h-3.9zM584.7 57.2l1.95 3.9h-3.9zM662.9 54.0l1.95 3.9h-3.9zM587.8 54.0l1.95 3.9h-3.9zM666.0 50.8l1.95 3.9h-3.9zM591.0 50.8l1.95 3.9h-3.9zM606.8 127.2l1.95 3.9h-3.9zM501.8 127.2l1.95 3.9h-3.9zM609.9 124.0l1.95 3.9h-3.9zM504.9 124.0l1.95 3.9h-3.9zM613.0 120.8l1.95 3.9h-3.9zM508.0 120.8l1.95 3.9h-3.9zM616.1 117.6l1.95 3.9h-3.9zM511.1 117.6l1.95 3.9h-3.9zM619.2 114.4l1.95 3.9h-3.9zM514.2 114.4l1.95 3.9h-3.9zM622.4 111.2l1.95 3.9h-3.9zM517.3 111.2l1.95 3.9h-3.9zM625.5 108.0l1.95 3.9h-3.9zM520.4 108.0l1.95 3.9h-3.9zM628.6 104.8l1.95 3.9h-3.9zM523.5 104.8l1.95 3.9h-3.9zM631.7 101.6l1.95 3.9h-3.9zM526.7 101.6l1.95 3.9h-3.9zM634.8 98.4l1.95 3.9h-3.9zM529.8 98.4l1.95 3.9h-3.9zM637.9 95.2l1.95 3.9h-3.9zM532.9 95.2l1.95 3.9h-3.9zM641.0 92.0l1.95 3.9h-3.9zM536.0 92.0l1.95 3.9h-3.9zM644.1 88.8l1.95 3.9h-3.9zM539.1 88.8l1.95 3.9h-3.9zM647.2 85.6l1.95 3.9h-3.9zM542.2 85.6l1.95 3.9h-3.9zM650.3 82.4l1.95 3.9h-3.9zM545.3 82.4l1.95 3.9h-3.9zM653.5 79.2l1.95 3.9h-3.9zM548.4 79.2l1.95 3.9h-3.9zM656.6 75.9l1.95 3.9h-3.9zM551.5 75.9l1.95 3.9h-3.9zM659.7 72.7l1.95 3.9h-3.9zM554.6 72.7l1.95 3.9h-3.9zM662.8 69.5l1.95 3.9h-3.9zM557.7 69.5l1.95 3.9h-3.9zM665.9 66.3l1.95 3.9h-3.9zM560.9 66.3l1.95 3.9h-3.9zM669.0 63.1l1.95 3.9h-3.9zM564.0 63.1l1.95 3.9h-3.9zM620.0 129.1l1.95 3.9h-3.9zM484.9 129.1l1.95 3.9h-3.9zM623.1 125.9l1.95 3.9h-3.9zM488.0 125.9l1.95 3.9h-3.9zM626.2 122.7l1.95 3.9h-3.9zM491.2 122.7l1.95 3.9h-3.9zM629.3 119.5l1.95 3.9h-3.9zM494.3 119.5l1.95 3.9h-3.9zM632.4 116.3l1.95 3.9h-3.9zM497.4 116.3l1.95 3.9h-3.9zM635.5 113.1l1.95 3.9h-3.9zM500.5 113.1l1.95 3.9h-3.9zM638.6 109.9l1.95 3.9h-3.9zM503.6 109.9l1.95 3.9h-3.9zM641.7 106.7l1.95 3.9h-3.9zM506.7 106.7l1.95 3.9h-3.9zM644.9 103.5l1.95 3.9h-3.9zM509.8 103.5l1.95 3.9h-3.9zM648.0 100.3l1.95 3.9h-3.9zM512.9 100.3l1.95 3.9h-3.9zM651.1 97.1l1.95 3.9h-3.9zM516.0 97.1l1.95 3.9h-3.9zM654.2 93.9l1.95 3.9h-3.9zM519.1 93.9l1.95 3.9h-3.9zM657.3 90.7l1.95 3.9h-3.9zM522.3 90.7l1.95 3.9h-3.9zM660.4 87.5l1.95 3.9h-3.9zM525.4 87.5l1.95 3.9h-3.9zM563.6 140.4l1.95 3.9h-3.9zM548.6 140.4l1.95 3.9h-3.9zM567.1 136.8l1.95 3.9h-3.9zM552.1 136.8l1.95 3.9h-3.9zM570.5 133.3l1.95 3.9h-3.9zM555.5 133.3l1.95 3.9h-3.9zM574.0 129.7l1.95 3.9h-3.9zM559.0 129.7l1.95 3.9h-3.9zM577.4 126.2l1.95 3.9h-3.9zM562.4 126.2l1.95 3.9h-3.9zM580.9 122.6l1.95 3.9h-3.9zM565.9 122.6l1.95 3.9h-3.9zM584.3 119.0l1.95 3.9h-3.9zM569.3 119.0l1.95 3.9h-3.9zM587.8 115.5l1.95 3.9h-3.9zM572.8 115.5l1.95 3.9h-3.9zM591.2 111.9l1.95 3.9h-3.9zM576.2 111.9l1.95 3.9h-3.9zM594.7 108.3l1.95 3.9h-3.9zM579.7 108.3l1.95 3.9h-3.9zM598.2 104.8l1.95 3.9h-3.9zM583.1 104.8l1.95 3.9h-3.9zM601.6 101.2l1.95 3.9h-3.9zM586.6 101.2l1.95 3.9h-3.9zM605.1 97.7l1.95 3.9h-3.9zM590.1 97.7l1.95 3.9h-3.9zM608.5 94.1l1.95 3.9h-3.9zM593.5 94.1l1.95 3.9h-3.9zM612.0 90.5l1.95 3.9h-3.9zM597.0 90.5l1.95 3.9h-3.9zM615.4 87.0l1.95 3.9h-3.9zM600.4 87.0l1.95 3.9h-3.9zM618.9 83.4l1.95 3.9h-3.9zM603.9 83.4l1.95 3.9h-3.9zM622.3 79.8l1.95 3.9h-3.9zM607.3 79.8l1.95 3.9h-3.9zM625.8 76.3l1.95 3.9h-3.9zM610.8 76.3l1.95 3.9h-3.9zM629.2 72.7l1.95 3.9h-3.9zM614.2 72.7l1.95 3.9h-3.9zM632.7 69.2l1.95 3.9h-3.9zM617.7 69.2l1.95 3.9h-3.9zM636.2 65.6l1.95 3.9h-3.9zM621.2 65.6l1.95 3.9h-3.9zM639.6 62.0l1.95 3.9h-3.9zM624.6 62.0l1.95 3.9h-3.9zM643.1 58.5l1.95 3.9h-3.9zM628.1 58.5l1.95 3.9h-3.9zM646.5 54.9l1.95 3.9h-3.9zM631.5 54.9l1.95 3.9h-3.9zM650.0 51.3l1.95 3.9h-3.9zM635.0 51.3l1.95 3.9h-3.9zM653.4 47.8l1.95 3.9h-3.9zM638.4 47.8l1.95 3.9h-3.9zM656.9 44.2l1.95 3.9h-3.9zM641.9 44.2l1.95 3.9h-3.9zM578.4 140.6l1.95 3.9h-3.9zM533.4 140.6l1.95 3.9h-3.9zM581.8 137.1l1.95 3.9h-3.9zM536.8 137.1l1.95 3.9h-3.9zM585.3 133.5l1.95 3.9h-3.9zM540.3 133.5l1.95 3.9h-3.9zM588.7 130.0l1.95 3.9h-3.9zM543.7 130.0l1.95 3.9h-3.9zM592.2 126.4l1.95 3.9h-3.9zM547.2 126.4l1.95 3.9h-3.9zM595.6 122.8l1.95 3.9h-3.9zM550.6 122.8l1.95 3.9h-3.9zM599.1 119.3l1.95 3.9h-3.9zM554.1 119.3l1.95 3.9h-3.9zM602.6 115.7l1.95 3.9h-3.9zM557.5 115.7l1.95 3.9h-3.9zM606.0 112.1l1.95 3.9h-3.9zM561.0 112.1l1.95 3.9h-3.9zM609.5 108.6l1.95 3.9h-3.9zM564.5 108.6l1.95 3.9h-3.9zM612.9 105.0l1.95 3.9h-3.9zM567.9 105.0l1.95 3.9h-3.9zM616.4 101.5l1.95 3.9h-3.9zM571.4 101.5l1.95 3.9h-3.9zM619.8 97.9l1.95 3.9h-3.9zM574.8 97.9l1.95 3.9h-3.9zM623.3 94.3l1.95 3.9h-3.9zM578.3 94.3l1.95 3.9h-3.9zM626.7 90.8l1.95 3.9h-3.9zM581.7 90.8l1.95 3.9h-3.9zM630.2 87.2l1.95 3.9h-3.9zM585.2 87.2l1.95 3.9h-3.9zM633.7 83.6l1.95 3.9h-3.9zM588.6 83.6l1.95 3.9h-3.9zM637.1 80.1l1.95 3.9h-3.9zM592.1 80.1l1.95 3.9h-3.9zM640.6 76.5l1.95 3.9h-3.9zM595.6 76.5l1.95 3.9h-3.9zM644.0 73.0l1.95 3.9h-3.9zM599.0 73.0l1.95 3.9h-3.9zM647.5 69.4l1.95 3.9h-3.9zM602.5 69.4l1.95 3.9h-3.9zM650.9 65.8l1.95 3.9h-3.9zM605.9 65.8l1.95 3.9h-3.9zM654.4 62.3l1.95 3.9h-3.9zM609.4 62.3l1.95 3.9h-3.9zM657.8 58.7l1.95 3.9h-3.9zM612.8 58.7l1.95 3.9h-3.9zM661.3 55.1l1.95 3.9h-3.9zM616.3 55.1l1.95 3.9h-3.9zM664.7 51.6l1.95 3.9h-3.9zM619.7 51.6l1.95 3.9h-3.9zM593.6 140.4l1.95 3.9h-3.9zM518.6 140.4l1.95 3.9h-3.9zM597.1 136.9l1.95 3.9h-3.9zM522.0 136.9l1.95 3.9h-3.9zM600.5 133.3l1.95 3.9h-3.9zM525.5 133.3l1.95 3.9h-3.9zM604.0 129.7l1.95 3.9h-3.9zM528.9 129.7l1.95 3.9h-3.9zM607.4 126.2l1.95 3.9h-3.9zM532.4 126.2l1.95 3.9h-3.9zM610.9 122.6l1.95 3.9h-3.9zM535.8 122.6l1.95 3.9h-3.9zM614.3 119.0l1.95 3.9h-3.9zM539.3 119.0l1.95 3.9h-3.9zM617.8 115.5l1.95 3.9h-3.9zM542.8 115.5l1.95 3.9h-3.9zM621.2 111.9l1.95 3.9h-3.9zM546.2 111.9l1.95 3.9h-3.9zM624.7 108.4l1.95 3.9h-3.9zM549.7 108.4l1.95 3.9h-3.9zM628.1 104.8l1.95 3.9h-3.9zM553.1 104.8l1.95 3.9h-3.9zM631.6 101.2l1.95 3.9h-3.9zM556.6 101.2l1.95 3.9h-3.9zM635.1 97.7l1.95 3.9h-3.9zM560.0 97.7l1.95 3.9h-3.9zM638.5 94.1l1.95 3.9h-3.9zM563.5 94.1l1.95 3.9h-3.9zM642.0 90.5l1.95 3.9h-3.9zM566.9 90.5l1.95 3.9h-3.9zM645.4 87.0l1.95 3.9h-3.9zM570.4 87.0l1.95 3.9h-3.9zM648.9 83.4l1.95 3.9h-3.9zM573.9 83.4l1.95 3.9h-3.9zM652.3 79.9l1.95 3.9h-3.9zM577.3 79.9l1.95 3.9h-3.9zM655.8 76.3l1.95 3.9h-3.9zM580.8 76.3l1.95 3.9h-3.9zM659.2 72.7l1.95 3.9h-3.9zM584.2 72.7l1.95 3.9h-3.9zM662.7 69.2l1.95 3.9h-3.9zM587.7 69.2l1.95 3.9h-3.9zM666.2 65.6l1.95 3.9h-3.9zM591.1 65.6l1.95 3.9h-3.9zM669.6 62.1l1.95 3.9h-3.9zM594.6 62.1l1.95 3.9h-3.9zM671.0 58.5l1.95 3.9h-3.9zM598.0 58.5l1.95 3.9h-3.9zM610.0 139.0l1.95 3.9h-3.9zM505.0 139.0l1.95 3.9h-3.9zM613.5 135.4l1.95 3.9h-3.9zM508.4 135.4l1.95 3.9h-3.9zM616.9 131.8l1.95 3.9h-3.9zM511.9 131.8l1.95 3.9h-3.9zM620.4 128.3l1.95 3.9h-3.9zM515.3 128.3l1.95 3.9h-3.9zM623.8 124.7l1.95 3.9h-3.9zM518.8 124.7l1.95 3.9h-3.9zM627.3 121.2l1.95 3.9h-3.9zM522.2 121.2l1.95 3.9h-3.9zM630.7 117.6l1.95 3.9h-3.9zM525.7 117.6l1.95 3.9h-3.9zM634.2 114.0l1.95 3.9h-3.9zM529.2 114.0l1.95 3.9h-3.9zM637.6 110.5l1.95 3.9h-3.9zM532.6 110.5l1.95 3.9h-3.9zM641.1 106.9l1.95 3.9h-3.9zM536.1 106.9l1.95 3.9h-3.9zM644.6 103.3l1.95 3.9h-3.9zM539.5 103.3l1.95 3.9h-3.9zM648.0 99.8l1.95 3.9h-3.9zM543.0 99.8l1.95 3.9h-3.9zM651.5 96.2l1.95 3.9h-3.9zM546.4 96.2l1.95 3.9h-3.9zM654.9 92.7l1.95 3.9h-3.9zM549.9 92.7l1.95 3.9h-3.9zM658.4 89.1l1.95 3.9h-3.9zM553.3 89.1l1.95 3.9h-3.9zM661.8 85.5l1.95 3.9h-3.9zM556.8 85.5l1.95 3.9h-3.9zM665.3 82.0l1.95 3.9h-3.9zM560.3 82.0l1.95 3.9h-3.9zM668.7 78.4l1.95 3.9h-3.9zM563.7 78.4l1.95 3.9h-3.9zM671.0 74.8l1.95 3.9h-3.9zM567.2 74.8l1.95 3.9h-3.9zM671.0 71.3l1.95 3.9h-3.9zM570.6 71.3l1.95 3.9h-3.9zM671.0 67.7l1.95 3.9h-3.9zM574.1 67.7l1.95 3.9h-3.9zM623.3 140.7l1.95 3.9h-3.9zM488.3 140.7l1.95 3.9h-3.9zM626.8 137.1l1.95 3.9h-3.9zM491.8 137.1l1.95 3.9h-3.9zM630.3 133.6l1.95 3.9h-3.9zM495.2 133.6l1.95 3.9h-3.9zM633.7 130.0l1.95 3.9h-3.9zM498.7 130.0l1.95 3.9h-3.9zM637.2 126.4l1.95 3.9h-3.9zM502.1 126.4l1.95 3.9h-3.9zM640.6 122.9l1.95 3.9h-3.9zM505.6 122.9l1.95 3.9h-3.9zM644.1 119.3l1.95 3.9h-3.9zM509.0 119.3l1.95 3.9h-3.9zM647.5 115.8l1.95 3.9h-3.9zM512.5 115.8l1.95 3.9h-3.9zM651.0 112.2l1.95 3.9h-3.9zM515.9 112.2l1.95 3.9h-3.9zM654.4 108.6l1.95 3.9h-3.9zM519.4 108.6l1.95 3.9h-3.9zM657.9 105.1l1.95 3.9h-3.9zM522.8 105.1l1.95 3.9h-3.9zM661.3 101.5l1.95 3.9h-3.9zM526.3 101.5l1.95 3.9h-3.9zM664.8 97.9l1.95 3.9h-3.9zM529.8 97.9l1.95 3.9h-3.9zM668.3 94.4l1.95 3.9h-3.9zM533.2 94.4l1.95 3.9h-3.9zM671.0 90.8l1.95 3.9h-3.9zM536.7 90.8l1.95 3.9h-3.9zM671.0 87.3l1.95 3.9h-3.9zM540.1 87.3l1.95 3.9h-3.9zM671.0 83.7l1.95 3.9h-3.9zM543.6 83.7l1.95 3.9h-3.9zM671.0 80.1l1.95 3.9h-3.9zM547.0 80.1l1.95 3.9h-3.9zM671.0 76.6l1.95 3.9h-3.9zM550.5 76.6l1.95 3.9h-3.9zM671.0 108.3l1.95 3.9h-3.9zM671.0 106.1l1.95 3.9h-3.9zM671.0 104.0l1.95 3.9h-3.9zM671.0 101.9l1.95 3.9h-3.9zM671.0 99.7l1.95 3.9h-3.9zM671.0 97.6l1.95 3.9h-3.9zM671.0 95.5l1.95 3.9h-3.9zM671.0 93.3l1.95 3.9h-3.9zM671.0 91.2l1.95 3.9h-3.9zM671.0 89.1l1.95 3.9h-3.9zM671.0 86.9l1.95 3.9h-3.9zM671.0 84.8l1.95 3.9h-3.9zM671.0 82.6l1.95 3.9h-3.9zM671.0 80.5l1.95 3.9h-3.9zM671.0 78.4l1.95 3.9h-3.9zM671.0 76.2l1.95 3.9h-3.9zM671.0 74.1l1.95 3.9h-3.9zM671.0 72.0l1.95 3.9h-3.9zM671.0 69.8l1.95 3.9h-3.9zM671.0 67.7l1.95 3.9h-3.9zM671.0 65.5l1.95 3.9h-3.9zM671.0 63.4l1.95 3.9h-3.9zM671.0 61.3l1.95 3.9h-3.9zM671.0 59.1l1.95 3.9h-3.9zM671.0 57.0l1.95 3.9h-3.9zM671.0 54.9l1.95 3.9h-3.9zM671.0 52.7l1.95 3.9h-3.9zM671.0 50.6l1.95 3.9h-3.9z" fill="#8da0cb" clip-path="url(#cr)"/>
<path d="M577.7 108.5l3.9 1.95v-3.9zM562.7 108.5l3.9 1.95v-3.9zM583.0 103.0l3.9 1.95v-3.9zM568.0 103.0l3.9 1.95v-3.9zM588.3 97.5l3.9 1.95v-3.9zM573.3 97.5l3.9 1.95v-3.9zM593.5 92.2l3.9 1.95v-3.9zM578.5 92.2l3.9 1.95v-3.9zM597.9 87.6l3.9 1.95v-3.9zM582.9 87.6l3.9 1.95v-3.9zM602.3 83.1l3.9 1.95v-3.9zM587.3 83.1l3.9 1.95v-3.9zM606.1 79.2l3.9 1.95v-3.9zM591.1 79.2l3.9 1.95v-3.9zM609.9 75.3l3.9 1.95v-3.9zM594.9 75.3l3.9 1.95v-3.9zM613.3 71.8l3.9 1.95v-3.9zM598.3 71.8l3.9 1.95v-3.9zM616.6 68.4l3.9 1.95v-3.9zM601.6 68.4l3.9 1.95v-3.9zM619.9 65.0l3.9 1.95v-3.9zM604.9 65.0l3.9 1.95v-3.9zM623.1 61.7l3.9 1.95v-3.9zM608.1 61.7l3.9 1.95v-3.9zM626.3 58.4l3.9 1.95v-3.9zM611.3 58.4l3.9 1.95v-3.9zM629.3 55.3l3.9 1.95v-3.9zM614.3 55.3l3.9 1.95v-3.9zM632.3 52.2l3.9 1.95v-3.9zM617.3 52.2l3.9 1.95v-3.9zM635.1 49.3l3.9 1.95v-3.9zM620.1 49.3l3.9 1.95v-3.9zM638.0 46.3l3.9 1.95v-3.9zM623.0 46.3l3.9 1.95v-3.9zM640.7 43.5l3.9 1.95v-3.9zM625.7 43.5l3.9 1.95v-3.9zM643.5 40.6l3.9 1.95v-3.9zM628.5 40.6l3.9 1.95v-3.9zM646.2 37.8l3.9 1.95v-3.9zM631.2 37.8l3.9 1.95v-3.9zM648.8 35.1l3.9 1.95v-3.9zM633.8 35.1l3.9 1.95v-3.9zM651.5 32.4l3.9 1.95v-3.9zM636.5 32.4l3.9 1.95v-3.9zM655.9 27.8l3.9 1.95v-3.9zM640.9 27.8l3.9 1.95v-3.9zM598.0 103.0l3.9 1.95v-3.9zM553.0 103.0l3.9 1.95v-3.9zM603.3 97.5l3.9 1.95v-3.9zM558.3 97.5l3.9 1.95v-3.9zM608.5 92.2l3.9 1.95v-3.9zM563.5 92.2l3.9 1.95v-3.9zM613.0 87.6l3.9 1.95v-3.9zM567.9 87.6l3.9 1.95v-3.9zM617.3 83.1l3.9 1.95v-3.9zM572.3 83.1l3.9 1.95v-3.9zM621.1 79.2l3.9 1.95v-3.9zM576.1 79.2l3.9 1.95v-3.9zM624.9 75.3l3.9 1.95v-3.9zM579.9 75.3l3.9 1.95v-3.9zM628.3 71.8l3.9 1.95v-3.9zM583.3 71.8l3.9 1.95v-3.9zM631.6 68.4l3.9 1.95v-3.9zM586.6 68.4l3.9 1.95v-3.9zM634.9 65.0l3.9 1.95v-3.9zM589.9 65.0l3.9 1.95v-3.9zM638.1 61.7l3.9 1.95v-3.9zM593.1 61.7l3.9 1.95v-3.9zM641.3 58.4l3.9 1.95v-3.9zM596.2 58.4l3.9 1.95v-3.9zM644.3 55.3l3.9 1.95v-3.9zM599.3 55.3l3.9 1.95v-3.9zM647.3 52.2l3.9 1.95v-3.9zM602.3 52.2l3.9 1.95v-3.9zM650.1 49.3l3.9 1.95v-3.9zM605.1 49.3l3.9 1.95v-3.9zM653.0 46.3l3.9 1.95v-3.9zM608.0 46.3l3.9 1.95v-3.9zM655.7 43.5l3.9 1.95v-3.9zM610.7 43.5l3.9 1.95v-3.9zM658.5 40.6l3.9 1.95v-3.9zM613.5 40.6l3.9 1.95v-3.9zM661.3 37.8l3.9 1.95v-3.9zM616.2 37.8l3.9 1.95v-3.9zM663.8 35.1l3.9 1.95v-3.9zM618.8 35.1l3.9 1.95v-3.9zM666.5 32.4l3.9 1.95v-3.9zM621.5 32.4l3.9 1.95v-3.9zM669.0 26.6l3.9 1.95v-3.9zM627.2 26.6l3.9 1.95v-3.9zM623.5 92.2l3.9 1.95v-3.9zM548.5 92.2l3.9 1.95v-3.9zM628.0 87.6l3.9 1.95v-3.9zM552.9 87.6l3.9 1.95v-3.9zM632.3 83.1l3.9 1.95v-3.9zM557.3 83.1l3.9 1.95v-3.9zM636.1 79.2l3.9 1.95v-3.9zM561.1 79.2l3.9 1.95v-3.9zM639.9 75.3l3.9 1.95v-3.9zM564.9 75.3l3.9 1.95v-3.9zM643.3 71.8l3.9 1.95v-3.9zM568.3 71.8l3.9 1.95v-3.9zM646.6 68.4l3.9 1.95v-3.9zM571.6 68.4l3.9 1.95v-3.9zM649.9 65.0l3.9 1.95v-3.9zM574.9 65.0l3.9 1.95v-3.9zM653.1 61.7l3.9 1.95v-3.9zM578.1 61.7l3.9 1.95v-3.9zM656.3 58.4l3.9 1.95v-3.9zM581.2 58.4l3.9 1.95v-3.9zM659.3 55.3l3.9 1.95v-3.9zM584.3 55.3l3.9 1.95v-3.9zM662.3 52.2l3.9 1.95v-3.9zM587.2 52.2l3.9 1.95v-3.9zM665.1 49.3l3.9 1.95v-3.9zM590.1 49.3l3.9 1.95v-3.9zM668.1 46.3l3.9 1.95v-3.9zM593.0 46.3l3.9 1.95v-3.9zM669.0 43.5l3.9 1.95v-3.9zM595.7 43.5l3.9 1.95v-3.9zM669.0 40.6l3.9 1.95v-3.9zM598.5 40.6l3.9 1.95v-3.9zM669.0 37.8l3.9 1.95v-3.9zM601.2 37.8l3.9 1.95v-3.9zM669.0 35.1l3.9 1.95v-3.9zM603.8 35.1l3.9 1.95v-3.9zM669.0 32.4l3.9 1.95v-3.9zM606.5 32.4l3.9 1.95v-3.9zM669.0 29.7l3.9 1.95v-3.9zM609.1 29.7l3.9 1.95v-3.9zM669.0 24.4l3.9 1.95v-3.9zM614.3 24.4l3.9 1.95v-3.9zM654.9 75.3l3.9 1.95v-3.9zM549.9 75.3l3.9 1.95v-3.9zM658.3 71.8l3.9 1.95v-3.9zM553.3 71.8l3.9 1.95v-3.9zM661.6 68.4l3.9 1.95v-3.9zM556.6 68.4l3.9 1.95v-3.9zM664.9 65.0l3.9 1.95v-3.9zM559.9 65.0l3.9 1.95v-3.9zM668.1 61.7l3.9 1.95v-3.9zM563.1 61.7l3.9 1.95v-3.9zM669.0 58.4l3.9 1.95v-3.9zM566.2 58.4l3.9 1.95v-3.9zM669.0 55.3l3.9 1.95v-3.9zM569.3 55.3l3.9 1.95v-3.9zM669.0 52.2l3.9 1.95v-3.9zM572.2 52.2l3.9 1.95v-3.9zM669.0 49.3l3.9 1.95v-3.9zM575.1 49.3l3.9 1.95v-3.9zM669.0 46.3l3.9 1.95v-3.9zM578.0 46.3l3.9 1.95v-3.9zM669.0 43.5l3.9 1.95v-3.9zM580.7 43.5l3.9 1.95v-3.9zM669.0 40.6l3.9 1.95v-3.9zM583.5 40.6l3.9 1.95v-3.9zM669.0 37.8l3.9 1.95v-3.9zM586.2 37.8l3.9 1.95v-3.9zM669.0 35.1l3.9 1.95v-3.9zM588.8 35.1l3.9 1.95v-3.9zM669.0 32.4l3.9 1.95v-3.9zM591.5 32.4l3.9 1.95v-3.9zM669.0 29.7l3.9 1.95v-3.9zM594.1 29.7l3.9 1.95v-3.9zM669.0 27.1l3.9 1.95v-3.9zM596.7 27.1l3.9 1.95v-3.9zM669.0 22.9l3.9 1.95v-3.9zM600.7 22.9l3.9 1.95v-3.9zM669.0 57.0l3.9 1.95v-3.9zM552.6 57.0l3.9 1.95v-3.9zM669.0 54.4l3.9 1.95v-3.9zM555.1 54.4l3.9 1.95v-3.9zM669.0 50.9l3.9 1.95v-3.9zM558.5 50.9l3.9 1.95v-3.9zM669.0 46.4l3.9 1.95v-3.9zM562.9 46.4l3.9 1.95v-3.9zM669.0 40.6l3.9 1.95v-3.9zM568.5 40.6l3.9 1.95v-3.9zM669.0 35.1l3.9 1.95v-3.9zM573.8 35.1l3.9 1.95v-3.9zM669.0 29.6l3.9 1.95v-3.9zM579.2 29.6l3.9 1.95v-3.9zM669.0 21.7l3.9 1.95v-3.9zM586.9 21.7l3.9 1.95v-3.9zM669.0 40.6l3.9 1.95v-3.9zM553.5 40.6l3.9 1.95v-3.9zM669.0 34.8l3.9 1.95v-3.9zM559.1 34.8l3.9 1.95v-3.9zM669.0 28.2l3.9 1.95v-3.9zM565.6 28.2l3.9 1.95v-3.9zM669.0 19.9l3.9 1.95v-3.9zM573.6 19.9l3.9 1.95v-3.9zM669.0 63.2l3.9 1.95v-3.9zM669.0 61.4l3.9 1.95v-3.9zM669.0 59.7l3.9 1.95v-3.9zM669.0 57.9l3.9 1.95v-3.9zM669.0 56.1l3.9 1.95v-3.9zM669.0 54.3l3.9 1.95v-3.9zM669.0 52.5l3.9 1.95v-3.9zM669.0 50.8l3.9 1.95v-3.9zM669.0 49.0l3.9 1.95v-3.9zM669.0 47.2l3.9 1.95v-3.9zM669.0 45.4l3.9 1.95v-3.9zM669.0 43.6l3.9 1.95v-3.9zM669.0 41.8l3.9 1.95v-3.9zM669.0 40.1l3.9 1.95v-3.9zM669.0 38.3l3.9 1.95v-3.9zM669.0 36.5l3.9 1.95v-3.9zM669.0 34.7l3.9 1.95v-3.9zM669.0 32.9l3.9 1.95v-3.9zM669.0 31.2l3.9 1.95v-3.9zM669.0 29.4l3.9 1.95v-3.9zM669.0 27.6l3.9 1.95v-3.9zM669.0 25.8l3.9 1.95v-3.9zM669.0 24.0l3.9 1.95v-3.9zM669.0 22.3l3.9 1.95v-3.9zM669.0 20.5l3.9 1.95v-3.9zM669.0 18.7l3.9 1.95v-3.9zM493.4 195.4l3.9 1.95v-3.9zM478.4 195.4l3.9 1.95v-3.9zM496.9 191.8l3.9 1.95v-3.9zM481.9 191.8l3.9 1.95v-3.9zM500.3 188.2l3.9 1.95v-3.9zM485.3 188.2l3.9 1.95v-3.9zM503.8 184.7l3.9 1.95v-3.9zM488.8 184.7l3.9 1.95v-3.9zM507.3 181.1l3.9 1.95v-3.9zM492.2 181.1l3.9 1.95v-3.9zM510.7 177.6l3.9 1.95v-3.9zM495.7 177.6l3.9 1.95v-3.9zM514.2 174.0l3.9 1.95v-3.9zM499.2 174.0l3.9 1.95v-3.9zM517.6 170.4l3.9 1.95v-3.9zM502.6 170.4l3.9 1.95v-3.9zM521.1 166.9l3.9 1.95v-3.9zM506.1 166.9l3.9 1.95v-3.9zM524.5 163.3l3.9 1.95v-3.9zM509.5 163.3l3.9 1.95v-3.9zM528.0 159.7l3.9 1.95v-3.9zM513.0 159.7l3.9 1.95v-3.9zM531.4 156.2l3.9 1.95v-3.9zM516.4 156.2l3.9 1.95v-3.9zM534.9 152.6l3.9 1.95v-3.9zM519.9 152.6l3.9 1.95v-3.9zM512.6 191.1l3.9 1.95v-3.9zM467.6 191.1l3.9 1.95v-3.9zM516.0 187.5l3.9 1.95v-3.9zM471.0 187.5l3.9 1.95v-3.9zM519.5 184.0l3.9 1.95v-3.9zM474.5 184.0l3.9 1.95v-3.9zM522.9 180.4l3.9 1.95v-3.9zM477.9 180.4l3.9 1.95v-3.9zM526.4 176.8l3.9 1.95v-3.9zM481.4 176.8l3.9 1.95v-3.9zM529.9 173.3l3.9 1.95v-3.9zM484.8 173.3l3.9 1.95v-3.9zM533.3 169.7l3.9 1.95v-3.9zM488.3 169.7l3.9 1.95v-3.9zM536.8 166.2l3.9 1.95v-3.9zM491.8 166.2l3.9 1.95v-3.9zM540.2 162.6l3.9 1.95v-3.9zM495.2 162.6l3.9 1.95v-3.9zM543.7 159.0l3.9 1.95v-3.9zM498.7 159.0l3.9 1.95v-3.9zM547.1 155.5l3.9 1.95v-3.9zM502.1 155.5l3.9 1.95v-3.9zM550.6 151.9l3.9 1.95v-3.9zM505.6 151.9l3.9 1.95v-3.9zM533.5 185.0l3.9 1.95v-3.9zM458.4 185.0l3.9 1.95v-3.9zM536.9 181.5l3.9 1.95v-3.9zM461.9 181.5l3.9 1.95v-3.9zM540.4 177.9l3.9 1.95v-3.9zM465.3 177.9l3.9 1.95v-3.9zM543.8 174.4l3.9 1.95v-3.9zM468.8 174.4l3.9 1.95v-3.9zM547.3 170.8l3.9 1.95v-3.9zM472.3 170.8l3.9 1.95v-3.9zM550.7 167.2l3.9 1.95v-3.9zM475.7 167.2l3.9 1.95v-3.9zM554.2 163.7l3.9 1.95v-3.9zM479.2 163.7l3.9 1.95v-3.9zM557.6 160.1l3.9 1.95v-3.9zM482.6 160.1l3.9 1.95v-3.9zM561.1 156.5l3.9 1.95v-3.9zM486.1 156.5l3.9 1.95v-3.9zM564.6 153.0l3.9 1.95v-3.9zM489.5 153.0l3.9 1.95v-3.9zM553.3 180.1l3.9 1.95v-3.9zM448.3 180.1l3.9 1.95v-3.9zM556.8 176.5l3.9 1.95v-3.9zM451.7 176.5l3.9 1.95v-3.9zM560.2 172.9l3.9 1.95v-3.9zM455.2 172.9l3.9 1.95v-3.9zM563.7 169.4l3.9 1.95v-3.9zM458.6 169.4l3.9 1.95v-3.9zM567.1 165.8l3.9 1.95v-3.9zM462.1 165.8l3.9 1.95v-3.9zM570.6 162.2l3.9 1.95v-3.9zM465.5 162.2l3.9 1.95v-3.9zM574.0 158.7l3.9 1.95v-3.9zM469.0 158.7l3.9 1.95v-3.9zM577.5 155.1l3.9 1.95v-3.9zM472.5 155.1l3.9 1.95v-3.9zM580.9 151.6l3.9 1.95v-3.9zM475.9 151.6l3.9 1.95v-3.9zM575.9 172.2l3.9 1.95v-3.9zM440.9 172.2l3.9 1.95v-3.9zM579.4 168.7l3.9 1.95v-3.9zM444.3 168.7l3.9 1.95v-3.9zM582.8 165.1l3.9 1.95v-3.9zM447.8 165.1l3.9 1.95v-3.9zM586.3 161.5l3.9 1.95v-3.9zM451.2 161.5l3.9 1.95v-3.9zM589.7 158.0l3.9 1.95v-3.9zM454.7 158.0l3.9 1.95v-3.9zM593.2 154.4l3.9 1.95v-3.9zM458.1 154.4l3.9 1.95v-3.9z" fill="#e78ac3" clip-path="url(#cr)"/>
<path d="M522.7 129.1l-3.9 1.95v-3.9zM526.8 129.1l-3.9 1.95v-3.9zM535.1 129.1l-3.9 1.95v-3.9zM539.2 129.1l-3.9 1.95v-3.9zM527.5 124.1l-3.9 1.95v-3.9zM531.6 124.1l-3.9 1.95v-3.9zM539.9 124.1l-3.9 1.95v-3.9zM544.1 124.1l-3.9 1.95v-3.9zM532.3 119.1l-3.9 1.95v-3.9zM536.5 119.1l-3.9 1.95v-3.9zM544.8 119.1l-3.9 1.95v-3.9zM548.9 119.1l-3.9 1.95v-3.9zM537.2 114.2l-3.9 1.95v-3.9zM541.3 114.2l-3.9 1.95v-3.9zM549.6 114.2l-3.9 1.95v-3.9zM553.8 114.2l-3.9 1.95v-3.9zM562.4 114.2l-3.9 1.95v-3.9zM566.5 114.2l-3.9 1.95v-3.9zM542.0 109.2l-3.9 1.95v-3.9zM546.2 109.2l-3.9 1.95v-3.9zM567.2 109.2l-3.9 1.95v-3.9zM571.4 109.2l-3.9 1.95v-3.9zM546.8 104.2l-3.9 1.95v-3.9zM551.0 104.2l-3.9 1.95v-3.9zM559.3 104.2l-3.9 1.95v-3.9zM563.4 104.2l-3.9 1.95v-3.9zM572.1 104.2l-3.9 1.95v-3.9zM576.2 104.2l-3.9 1.95v-3.9zM551.7 99.2l-3.9 1.95v-3.9zM555.8 99.2l-3.9 1.95v-3.9zM564.1 99.2l-3.9 1.95v-3.9zM568.3 99.2l-3.9 1.95v-3.9zM556.5 94.2l-3.9 1.95v-3.9zM560.7 94.2l-3.9 1.95v-3.9zM569.0 94.2l-3.9 1.95v-3.9zM573.1 94.2l-3.9 1.95v-3.9zM581.7 94.2l-3.9 1.95v-3.9zM585.9 94.2l-3.9 1.95v-3.9zM561.4 89.2l-3.9 1.95v-3.9zM565.5 89.2l-3.9 1.95v-3.9zM573.8 89.2l-3.9 1.95v-3.9zM577.9 89.2l-3.9 1.95v-3.9zM586.6 89.2l-3.9 1.95v-3.9zM590.7 89.2l-3.9 1.95v-3.9zM566.2 84.2l-3.9 1.95v-3.9zM570.3 84.2l-3.9 1.95v-3.9zM578.6 84.2l-3.9 1.95v-3.9zM582.8 84.2l-3.9 1.95v-3.9zM571.0 79.2l-3.9 1.95v-3.9zM575.2 79.2l-3.9 1.95v-3.9zM583.5 79.2l-3.9 1.95v-3.9zM587.6 79.2l-3.9 1.95v-3.9zM575.9 74.3l-3.9 1.95v-3.9zM580.0 74.3l-3.9 1.95v-3.9zM601.1 74.3l-3.9 1.95v-3.9zM605.2 74.3l-3.9 1.95v-3.9zM580.7 69.3l-3.9 1.95v-3.9zM584.8 69.3l-3.9 1.95v-3.9zM593.1 69.3l-3.9 1.95v-3.9zM597.3 69.3l-3.9 1.95v-3.9zM598.0 64.3l-3.9 1.95v-3.9zM602.1 64.3l-3.9 1.95v-3.9zM610.8 64.3l-3.9 1.95v-3.9zM614.9 64.3l-3.9 1.95v-3.9zM590.4 59.3l-3.9 1.95v-3.9zM594.5 59.3l-3.9 1.95v-3.9zM615.6 59.3l-3.9 1.95v-3.9zM619.7 59.3l-3.9 1.95v-3.9z" fill="#a6d854" clip-path="url(#cr)"/>
<path d="M541.0 120.7h0M545.5 120.7h0M550.0 120.7h0M554.5 120.7h0M559.0 120.7h0M563.5 120.7h0M568.0 120.7h0M572.5 120.7h0M577.0 120.7h0M581.5 120.7h0M586.0 120.7h0M591.3 120.7h0" stroke="#ffd92f" stroke-width="3.5" stroke-linecap="round" fill="none" clip-path="url(#cr)"/>
<path d="M27.3 10.5V222.5H336M33.49 222.5v1.4M41.45 222.5v1.4M47.62 222.5v1.4M52.67 222.5v1.4M56.93 222.5v1.4M60.63 222.5v1.4M63.89 222.5v1.4M66.80 222.5v2.5M85.98 222.5v1.4M97.19 222.5v1.4M105.15 222.5v1.4M111.32 222.5v1.4M116.37 222.5v1.4M120.63 222.5v1.4M124.33 222.5v1.4M127.59 222.5v1.4M130.50 222.5v2.5M149.68 222.5v1.4M160.89 222.5v1.4M168.85 222.5v1.4M175.02 222.5v1.4M180.07 222.5v1.4M184.33 222.5v1.4M188.03 222.5v1.4M191.29 222.5v1.4M194.20 222.5v2.5M213.38 222.5v1.4M224.59 222.5v1.4M232.55 222.5v1.4M238.72 222.5v1.4M243.77 222.5v1.4M248.03 222.5v1.4M251.73 222.5v1.4M254.99 222.5v1.4M257.90 222.5v2.5M277.08 222.5v1.4M288.29 222.5v1.4M296.25 222.5v1.4M302.42 222.5v1.4M307.47 222.5v1.4M311.73 222.5v1.4M315.43 222.5v1.4M318.69 222.5v1.4M321.60 222.5v2.5M27.3 220.22h-1.4M27.3 215.20h-1.4M27.3 211.64h-1.4M27.3 208.88h-1.4M27.3 206.62h-1.4M27.3 204.71h-1.4M27.3 203.06h-1.4M27.3 201.60h-1.4M27.3 200.30h-2.5M27.3 191.72h-1.4M27.3 186.70h-1.4M27.3 183.14h-1.4M27.3 180.38h-1.4M27.3 178.12h-1.4M27.3 176.21h-1.4M27.3 174.56h-1.4M27.3 173.10h-1.4M27.3 171.80h-2.5M27.3 163.22h-1.4M27.3 158.20h-1.4M27.3 154.64h-1.4M27.3 151.88h-1.4M27.3 149.62h-1.4M27.3 147.71h-1.4M27.3 146.06h-1.4M27.3 144.60h-1.4M27.3 143.30h-2.5M27.3 134.72h-1.4M27.3 129.70h-1.4M27.3 126.14h-1.4M27.3 123.38h-1.4M27.3 121.12h-1.4M27.3 119.21h-1.4M27.3 117.56h-1.4M27.3 116.10h-1.4M27.3 114.80h-2.5M27.3 106.22h-1.4M27.3 101.20h-1.4M27.3 97.64h-1.4M27.3 94.88h-1.4M27.3 92.62h-1.4M27.3 90.71h-1.4M27.3 89.06h-1.4M27.3 87.60h-1.4M27.3 86.30h-2.5M27.3 77.72h-1.4M27.3 72.70h-1.4M27.3 69.14h-1.4M27.3 66.38h-1.4M27.3 64.12h-1.4M27.3 62.21h-1.4M27.3 60.56h-1.4M27.3 59.10h-1.4M27.3 57.80h-2.5M27.3 49.22h-1.4M27.3 44.20h-1.4M27.3 40.64h-1.4M27.3 37.88h-1.4M27.3 35.62h-1.4M27.3 33.71h-1.4M27.3 32.06h-1.4M27.3 30.60h-1.4M27.3 29.30h-2.5M27.3 20.72h-1.4M27.3 15.70h-1.4M27.3 12.14h-1.4" stroke="#303030" stroke-width="0.8" fill="none"/>
<path d="M377.2 10.5V222.5H685.9M379.27 222.5v1.4M383.90 222.5v1.4M387.90 222.5v1.4M391.44 222.5v1.4M394.60 222.5v2.5M415.40 222.5v1.4M427.57 222.5v1.4M436.20 222.5v1.4M442.90 222.5v1.4M448.37 222.5v1.4M453.00 222.5v1.4M457.00 222.5v1.4M460.54 222.5v1.4M463.70 222.5v2.5M484.50 222.5v1.4M496.67 222.5v1.4M505.30 222.5v1.4M512.00 222.5v1.4M517.47 222.5v1.4M522.10 222.5v1.4M526.10 222.5v1.4M529.64 222.5v1.4M532.80 222.5v2.5M553.60 222.5v1.4M565.77 222.5v1.4M574.40 222.5v1.4M581.10 222.5v1.4M586.57 222.5v1.4M591.20 222.5v1.4M595.20 222.5v1.4M598.74 222.5v1.4M601.90 222.5v2.5M622.70 222.5v1.4M634.87 222.5v1.4M643.50 222.5v1.4M650.20 222.5v1.4M655.67 222.5v1.4M660.30 222.5v1.4M664.30 222.5v1.4M667.84 222.5v1.4M671.00 222.5v2.5M377.2 219.98h-1.4M377.2 217.16h-1.4M377.2 214.78h-1.4M377.2 212.71h-1.4M377.2 210.89h-1.4M377.2 209.26h-2.5M377.2 198.54h-1.4M377.2 192.26h-1.4M377.2 187.81h-1.4M377.2 184.36h-1.4M377.2 181.54h-1.4M377.2 179.16h-1.4M377.2 177.09h-1.4M377.2 175.27h-1.4M377.2 173.64h-2.5M377.2 162.92h-1.4M377.2 156.64h-1.4M377.2 152.19h-1.4M377.2 148.74h-1.4M377.2 145.92h-1.4M377.2 143.54h-1.4M377.2 141.47h-1.4M377.2 139.65h-1.4M377.2 138.02h-2.5M377.2 127.30h-1.4M377.2 121.02h-1.4M377.2 116.57h-1.4M377.2 113.12h-1.4M377.2 110.30h-1.4M377.2 107.92h-1.4M377.2 105.85h-1.4M377.2 104.03h-1.4M377.2 102.40h-2.5M377.2 91.68h-1.4M377.2 85.40h-1.4M377.2 80.95h-1.4M377.2 77.50h-1.4M377.2 74.68h-1.4M377.2 72.30h-1.4M377.2 70.23h-1.4M377.2 68.41h-1.4M377.2 66.78h-2.5M377.2 56.06h-1.4M377.2 49.78h-1.4M377.2 45.33h-1.4M377.2 41.88h-1.4M377.2 39.06h-1.4M377.2 36.68h-1.4M377.2 34.61h-1.4M377.2 32.79h-1.4M377.2 31.16h-2.5M377.2 20.44h-1.4M377.2 14.16h-1.4" stroke="#303030" stroke-width="0.8" fill="none"/>
<text x="58.50" y="232.8" font-size="7.2" textLength="9.16" lengthAdjust="spacingAndGlyphs">10</text>
<text x="67.67" y="229.6" font-size="5.04" textLength="7.43" lengthAdjust="spacingAndGlyphs">−4</text>
<text x="122.20" y="232.8" font-size="7.2" textLength="9.16" lengthAdjust="spacingAndGlyphs">10</text>
<text x="131.37" y="229.6" font-size="5.04" textLength="7.43" lengthAdjust="spacingAndGlyphs">−3</text>
<text x="185.90" y="232.8" font-size="7.2" textLength="9.16" lengthAdjust="spacingAndGlyphs">10</text>
<text x="195.07" y="229.6" font-size="5.04" textLength="7.43" lengthAdjust="spacingAndGlyphs">−2</text>
<text x="249.60" y="232.8" font-size="7.2" textLength="9.16" lengthAdjust="spacingAndGlyphs">10</text>
<text x="258.77" y="229.6" font-size="5.04" textLength="7.43" lengthAdjust="spacingAndGlyphs">−1</text>
<text x="315.42" y="232.8" font-size="7.2" textLength="9.16" lengthAdjust="spacingAndGlyphs">10</text>
<text x="324.58" y="229.6" font-size="5.04" textLength="3.21" lengthAdjust="spacingAndGlyphs">0</text>
<text x="10.63" y="202.90" font-size="7.2" textLength="9.16" lengthAdjust="spacingAndGlyphs">10</text>
<text x="19.79" y="199.70" font-size="5.04" textLength="3.21" lengthAdjust="spacingAndGlyphs">1</text>
<text x="10.63" y="174.40" font-size="7.2" textLength="9.16" lengthAdjust="spacingAndGlyphs">10</text>
<text x="19.79" y="171.20" font-size="5.04" textLength="3.21" lengthAdjust="spacingAndGlyphs">2</text>
<text x="10.63" y="145.90" font-size="7.2" textLength="9.16" lengthAdjust="spacingAndGlyphs">10</text>
<text x="19.79" y="142.70" font-size="5.04" textLength="3.21" lengthAdjust="spacingAndGlyphs">3</text>
<text x="10.63" y="117.40" font-size="7.2" textLength="9.16" lengthAdjust="spacingAndGlyphs">10</text>
<text x="19.79" y="114.20" font-size="5.04" textLength="3.21" lengthAdjust="spacingAndGlyphs">4</text>
<text x="10.63" y="88.90" font-size="7.2" textLength="9.16" lengthAdjust="spacingAndGlyphs">10</text>
<text x="19.79" y="85.70" font-size="5.04" textLength="3.21" lengthAdjust="spacingAndGlyphs">5</text>
<text x="10.63" y="60.40" font-size="7.2" textLength="9.16" lengthAdjust="spacingAndGlyphs">10</text>
<text x="19.79" y="57.20" font-size="5.04" textLength="3.21" lengthAdjust="spacingAndGlyphs">6</text>
<text x="10.63" y="31.90" font-size="7.2" textLength="9.16" lengthAdjust="spacingAndGlyphs">10</text>
<text x="19.79" y="28.70" font-size="5.04" textLength="3.21" lengthAdjust="spacingAndGlyphs">7</text>
<text x="386.30" y="232.8" font-size="7.2" textLength="9.16" lengthAdjust="spacingAndGlyphs">10</text>
<text x="395.47" y="229.6" font-size="5.04" textLength="7.43" lengthAdjust="spacingAndGlyphs">−4</text>
<text x="455.40" y="232.8" font-size="7.2" textLength="9.16" lengthAdjust="spacingAndGlyphs">10</text>
<text x="464.57" y="229.6" font-size="5.04" textLength="7.43" lengthAdjust="spacingAndGlyphs">−3</text>
<text x="524.50" y="232.8" font-size="7.2" textLength="9.16" lengthAdjust="spacingAndGlyphs">10</text>
<text x="533.67" y="229.6" font-size="5.04" textLength="7.43" lengthAdjust="spacingAndGlyphs">−2</text>
<text x="593.60" y="232.8" font-size="7.2" textLength="9.16" lengthAdjust="spacingAndGlyphs">10</text>
<text x="602.77" y="229.6" font-size="5.04" textLength="7.43" lengthAdjust="spacingAndGlyphs">−1</text>
<text x="664.82" y="232.8" font-size="7.2" textLength="9.16" lengthAdjust="spacingAndGlyphs">10</text>
<text x="673.98" y="229.6" font-size="5.04" textLength="3.21" lengthAdjust="spacingAndGlyphs">0</text>
<text x="360.53" y="211.86" font-size="7.2" textLength="9.16" lengthAdjust="spacingAndGlyphs">10</text>
<text x="369.69" y="208.66" font-size="5.04" textLength="3.21" lengthAdjust="spacingAndGlyphs">2</text>
<text x="360.53" y="176.24" font-size="7.2" textLength="9.16" lengthAdjust="spacingAndGlyphs">10</text>
<text x="369.69" y="173.04" font-size="5.04" textLength="3.21" lengthAdjust="spacingAndGlyphs">3</text>
<text x="360.53" y="140.62" font-size="7.2" textLength="9.16" lengthAdjust="spacingAndGlyphs">10</text>
<text x="369.69" y="137.42" font-size="5.04" textLength="3.21" lengthAdjust="spacingAndGlyphs">4</text>
<text x="360.53" y="105.00" font-size="7.2" textLength="9.16" lengthAdjust="spacingAndGlyphs">10</text>
<text x="369.69" y="101.80" font-size="5.04" textLength="3.21" lengthAdjust="spacingAndGlyphs">5</text>
<text x="360.53" y="69.38" font-size="7.2" textLength="9.16" lengthAdjust="spacingAndGlyphs">10</text>
<text x="369.69" y="66.18" font-size="5.04" textLength="3.21" lengthAdjust="spacingAndGlyphs">6</text>
<text x="360.53" y="33.76" font-size="7.2" textLength="9.16" lengthAdjust="spacingAndGlyphs">10</text>
<text x="369.69" y="30.56" font-size="5.04" textLength="3.21" lengthAdjust="spacingAndGlyphs">7</text>
<text x="181.65" y="7.3" font-size="8.64" text-anchor="middle" textLength="85" lengthAdjust="spacingAndGlyphs">Kinematic coverage</text>
<text x="181.95" y="242.3" font-size="7.2" text-anchor="middle" textLength="4.2" lengthAdjust="spacingAndGlyphs">x</text>
<g transform="translate(6.0 116.2) rotate(-90)"><text x="-17.7" y="0" font-size="7.2" textLength="35.4" lengthAdjust="spacingAndGlyphs">Q<tspan font-size="5.4" dy="-2.7">2</tspan><tspan dy="2.7"> (GeV</tspan><tspan font-size="5.4" dy="-2.7">2</tspan><tspan dy="2.7">)</tspan></text></g>
<text x="531.55" y="7.3" font-size="8.64" text-anchor="middle" textLength="85" lengthAdjust="spacingAndGlyphs">Kinematic coverage</text>
<text x="531.85" y="242.3" font-size="7.2" text-anchor="middle" textLength="4.2" lengthAdjust="spacingAndGlyphs">x</text>
<g transform="translate(355.6 116.2) rotate(-90)"><text x="-17.7" y="0" font-size="7.2" textLength="35.4" lengthAdjust="spacingAndGlyphs">Q<tspan font-size="5.4" dy="-2.7">2</tspan><tspan dy="2.7"> (GeV</tspan><tspan font-size="5.4" dy="-2.7">2</tspan><tspan dy="2.7">)</tspan></text></g>
<rect x="31.4" y="14.4" width="92.7" height="33.0" rx="1.5" fill="#fff" fill-opacity="0.8" stroke="#d6d6d6" stroke-width="0.6"/>
<path d="M41.6 20.0h0" stroke="#66c2a5" stroke-width="3.2" stroke-linecap="round"/>
<text x="54.7" y="22.60" font-size="7.4" textLength="67.0" lengthAdjust="spacingAndGlyphs">datasets pre HERA</text>
<path d="M41.6 32.4l1.75 -3.5h-3.5z" fill="#fc8d62"/>
<text x="54.7" y="33.12" font-size="7.4" textLength="61.8" lengthAdjust="spacingAndGlyphs">datasets pre LHC</text>
<path d="M41.6 39.5l1.75 3.5h-3.5z" fill="#8da0cb"/>
<text x="54.7" y="43.64" font-size="7.4" textLength="67.2" lengthAdjust="spacingAndGlyphs">NNPDF40 datasets</text>
<rect x="380.9" y="13.6" width="66.0" height="65.1" rx="1.5" fill="#fff" fill-opacity="0.8" stroke="#d6d6d6" stroke-width="0.6"/>
<path d="M390.8 20.0h0" stroke="#66c2a5" stroke-width="3.2" stroke-linecap="round"/>
<text x="403.5" y="22.60" font-size="7.4" textLength="9.5" lengthAdjust="spacingAndGlyphs">DY</text>
<path d="M390.8 32.2l1.75 -3.5h-3.5z" fill="#fc8d62"/>
<text x="403.5" y="33.12" font-size="7.4" textLength="14.4" lengthAdjust="spacingAndGlyphs">TOP</text>
<path d="M390.8 39.2l1.75 3.5h-3.5z" fill="#8da0cb"/>
<text x="403.5" y="43.64" font-size="7.4" textLength="15.6" lengthAdjust="spacingAndGlyphs">JETS</text>
<path d="M389.1 51.5l3.5 1.75v-3.5z" fill="#e78ac3"/>
<text x="403.5" y="54.16" font-size="7.4" textLength="18.7" lengthAdjust="spacingAndGlyphs">DIJET</text>
<path d="M392.6 62.0l-3.5 1.75v-3.5z" fill="#a6d854"/>
<text x="403.5" y="64.68" font-size="7.4" textLength="30.9" lengthAdjust="spacingAndGlyphs">PHOTON</text>
<path d="M390.8 72.5h0" stroke="#ffd92f" stroke-width="3.2" stroke-linecap="round"/>
<text x="403.5" y="75.20" font-size="7.4" textLength="40.6" lengthAdjust="spacingAndGlyphs">SINGLETOP</text>
</svg></body></html>
